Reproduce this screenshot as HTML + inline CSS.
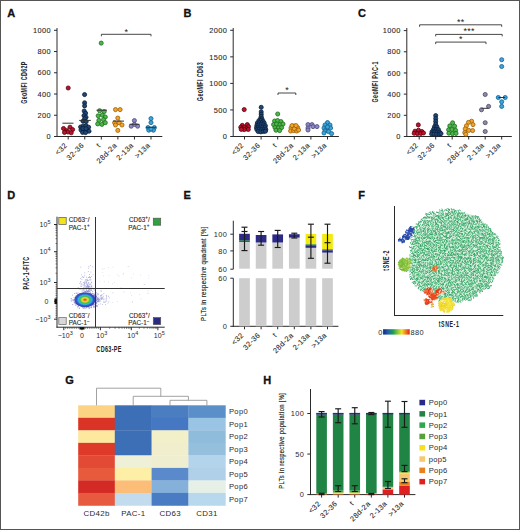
<!DOCTYPE html>
<html><head><meta charset="utf-8"><style>
html,body{margin:0;padding:0;background:#fff;}
body{width:520px;height:530px;overflow:hidden;}
svg{display:block;font-family:"Liberation Sans", sans-serif;}
</style></head><body>
<svg width="520" height="530" viewBox="0 0 520 530" font-family='"Liberation Sans", sans-serif'>
<rect x="0" y="0" width="520" height="530" fill="#fff"/>
<text x="7.30" y="17.00" font-size="11" text-anchor="start" font-weight="bold" fill="#111" stroke="#111" stroke-width="0.3" letter-spacing="0" >A</text>
<line x1="57.00" y1="28.00" x2="57.00" y2="137.00" stroke="#2a2a2a" stroke-width="1"/>
<line x1="54.00" y1="136.50" x2="57.00" y2="136.50" stroke="#2a2a2a" stroke-width="1"/>
<text x="51.00" y="139.15" font-size="7.4" text-anchor="end" font-weight="normal" fill="#2a2a2a" stroke="#2a2a2a" stroke-width="0.1" letter-spacing="0.4" >0</text>
<line x1="54.00" y1="115.26" x2="57.00" y2="115.26" stroke="#2a2a2a" stroke-width="1"/>
<text x="51.00" y="117.91" font-size="7.4" text-anchor="end" font-weight="normal" fill="#2a2a2a" stroke="#2a2a2a" stroke-width="0.1" letter-spacing="0.4" >200</text>
<line x1="54.00" y1="94.02" x2="57.00" y2="94.02" stroke="#2a2a2a" stroke-width="1"/>
<text x="51.00" y="96.67" font-size="7.4" text-anchor="end" font-weight="normal" fill="#2a2a2a" stroke="#2a2a2a" stroke-width="0.1" letter-spacing="0.4" >400</text>
<line x1="54.00" y1="72.78" x2="57.00" y2="72.78" stroke="#2a2a2a" stroke-width="1"/>
<text x="51.00" y="75.43" font-size="7.4" text-anchor="end" font-weight="normal" fill="#2a2a2a" stroke="#2a2a2a" stroke-width="0.1" letter-spacing="0.4" >600</text>
<line x1="54.00" y1="51.54" x2="57.00" y2="51.54" stroke="#2a2a2a" stroke-width="1"/>
<text x="51.00" y="54.19" font-size="7.4" text-anchor="end" font-weight="normal" fill="#2a2a2a" stroke="#2a2a2a" stroke-width="0.1" letter-spacing="0.4" >800</text>
<line x1="54.00" y1="30.30" x2="57.00" y2="30.30" stroke="#2a2a2a" stroke-width="1"/>
<text x="51.00" y="32.95" font-size="7.4" text-anchor="end" font-weight="normal" fill="#2a2a2a" stroke="#2a2a2a" stroke-width="0.1" letter-spacing="0.4" >1000</text>
<line x1="56.50" y1="136.50" x2="162.30" y2="136.50" stroke="#2a2a2a" stroke-width="1"/>
<line x1="68.20" y1="136.50" x2="68.20" y2="139.50" stroke="#2a2a2a" stroke-width="1"/>
<text transform="translate(67.80,145.90) rotate(-45)" font-size="7.4" text-anchor="end" fill="#2a2a2a" stroke="#2a2a2a" stroke-width="0.1" letter-spacing="0.4">&lt;32</text>
<line x1="84.76" y1="136.50" x2="84.76" y2="139.50" stroke="#2a2a2a" stroke-width="1"/>
<text transform="translate(84.36,145.90) rotate(-45)" font-size="7.4" text-anchor="end" fill="#2a2a2a" stroke="#2a2a2a" stroke-width="0.1" letter-spacing="0.4">32-36</text>
<line x1="101.32" y1="136.50" x2="101.32" y2="139.50" stroke="#2a2a2a" stroke-width="1"/>
<text transform="translate(100.92,145.90) rotate(-45)" font-size="7.4" text-anchor="end" fill="#2a2a2a" stroke="#2a2a2a" stroke-width="0.1" letter-spacing="0.4">t</text>
<line x1="117.88" y1="136.50" x2="117.88" y2="139.50" stroke="#2a2a2a" stroke-width="1"/>
<text transform="translate(117.48,145.90) rotate(-45)" font-size="7.4" text-anchor="end" fill="#2a2a2a" stroke="#2a2a2a" stroke-width="0.1" letter-spacing="0.4">28d-2a</text>
<line x1="134.44" y1="136.50" x2="134.44" y2="139.50" stroke="#2a2a2a" stroke-width="1"/>
<text transform="translate(134.04,145.90) rotate(-45)" font-size="7.4" text-anchor="end" fill="#2a2a2a" stroke="#2a2a2a" stroke-width="0.1" letter-spacing="0.4">2-13a</text>
<line x1="151.00" y1="136.50" x2="151.00" y2="139.50" stroke="#2a2a2a" stroke-width="1"/>
<text transform="translate(150.60,145.90) rotate(-45)" font-size="7.4" text-anchor="end" fill="#2a2a2a" stroke="#2a2a2a" stroke-width="0.1" letter-spacing="0.4">&gt;13a</text>
<text transform="translate(26.76,103.85) rotate(-90) scale(0.577,1)" font-size="9.30" font-weight="bold" fill="#222" letter-spacing="0.607">GeoMFI CD62P</text>
<path d="M101.40,36.30 V34.30 H151.00 V36.30" fill="none" stroke="#333" stroke-width="0.9"/>
<text x="126.30" y="34.50" font-size="9" text-anchor="middle" font-weight="normal" fill="#222" letter-spacing="0.2" >*</text>
<circle cx="68.20" cy="88.00" r="2.05" fill="#c0102c" stroke="#50060f" stroke-width="0.8" opacity="1"/>
<circle cx="63.50" cy="128.50" r="2.05" fill="#c0102c" stroke="#50060f" stroke-width="0.8" opacity="1"/>
<circle cx="66.50" cy="130.50" r="2.05" fill="#c0102c" stroke="#50060f" stroke-width="0.8" opacity="1"/>
<circle cx="70.00" cy="127.20" r="2.05" fill="#c0102c" stroke="#50060f" stroke-width="0.8" opacity="1"/>
<circle cx="72.60" cy="129.60" r="2.05" fill="#c0102c" stroke="#50060f" stroke-width="0.8" opacity="1"/>
<circle cx="68.00" cy="132.00" r="2.05" fill="#c0102c" stroke="#50060f" stroke-width="0.8" opacity="1"/>
<circle cx="71.20" cy="132.80" r="2.05" fill="#c0102c" stroke="#50060f" stroke-width="0.8" opacity="1"/>
<circle cx="64.50" cy="132.40" r="2.05" fill="#c0102c" stroke="#50060f" stroke-width="0.8" opacity="1"/>
<line x1="62.40" y1="123.20" x2="73.50" y2="123.20" stroke="#333" stroke-width="1"/>
<circle cx="84.60" cy="94.60" r="2.05" fill="#1e4676" stroke="#0c1e38" stroke-width="0.8" opacity="1"/>
<circle cx="84.60" cy="102.80" r="2.05" fill="#1e4676" stroke="#0c1e38" stroke-width="0.8" opacity="1"/>
<circle cx="84.60" cy="105.90" r="2.05" fill="#1e4676" stroke="#0c1e38" stroke-width="0.8" opacity="1"/>
<circle cx="84.20" cy="111.00" r="2.05" fill="#1e4676" stroke="#0c1e38" stroke-width="0.8" opacity="1"/>
<circle cx="85.60" cy="113.20" r="2.05" fill="#1e4676" stroke="#0c1e38" stroke-width="0.8" opacity="1"/>
<circle cx="84.00" cy="115.60" r="2.05" fill="#1e4676" stroke="#0c1e38" stroke-width="0.8" opacity="1"/>
<circle cx="86.00" cy="117.20" r="2.05" fill="#1e4676" stroke="#0c1e38" stroke-width="0.8" opacity="1"/>
<circle cx="84.60" cy="118.80" r="2.05" fill="#1e4676" stroke="#0c1e38" stroke-width="0.8" opacity="1"/>
<circle cx="83.00" cy="121.20" r="2.05" fill="#1e4676" stroke="#0c1e38" stroke-width="0.8" opacity="1"/>
<circle cx="86.20" cy="121.50" r="2.05" fill="#1e4676" stroke="#0c1e38" stroke-width="0.8" opacity="1"/>
<circle cx="80.60" cy="127.00" r="2.05" fill="#1e4676" stroke="#0c1e38" stroke-width="0.8" opacity="1"/>
<circle cx="83.20" cy="126.00" r="2.05" fill="#1e4676" stroke="#0c1e38" stroke-width="0.8" opacity="1"/>
<circle cx="86.00" cy="125.60" r="2.05" fill="#1e4676" stroke="#0c1e38" stroke-width="0.8" opacity="1"/>
<circle cx="88.60" cy="127.20" r="2.05" fill="#1e4676" stroke="#0c1e38" stroke-width="0.8" opacity="1"/>
<circle cx="81.00" cy="130.00" r="2.05" fill="#1e4676" stroke="#0c1e38" stroke-width="0.8" opacity="1"/>
<circle cx="84.00" cy="130.60" r="2.05" fill="#1e4676" stroke="#0c1e38" stroke-width="0.8" opacity="1"/>
<circle cx="87.00" cy="130.20" r="2.05" fill="#1e4676" stroke="#0c1e38" stroke-width="0.8" opacity="1"/>
<circle cx="89.00" cy="131.20" r="2.05" fill="#1e4676" stroke="#0c1e38" stroke-width="0.8" opacity="1"/>
<circle cx="82.60" cy="132.40" r="2.05" fill="#1e4676" stroke="#0c1e38" stroke-width="0.8" opacity="1"/>
<circle cx="85.60" cy="132.60" r="2.05" fill="#1e4676" stroke="#0c1e38" stroke-width="0.8" opacity="1"/>
<circle cx="83.00" cy="128.50" r="2.05" fill="#1e4676" stroke="#0c1e38" stroke-width="0.8" opacity="1"/>
<circle cx="86.00" cy="128.60" r="2.05" fill="#1e4676" stroke="#0c1e38" stroke-width="0.8" opacity="1"/>
<line x1="79.20" y1="120.40" x2="90.80" y2="120.40" stroke="#333" stroke-width="1"/>
<circle cx="101.20" cy="43.10" r="2.05" fill="#4cb848" stroke="#1e6a20" stroke-width="0.8" opacity="1"/>
<circle cx="99.60" cy="110.70" r="2.05" fill="#4cb848" stroke="#1e6a20" stroke-width="0.8" opacity="1"/>
<circle cx="104.20" cy="111.60" r="2.05" fill="#4cb848" stroke="#1e6a20" stroke-width="0.8" opacity="1"/>
<circle cx="98.20" cy="115.80" r="2.05" fill="#4cb848" stroke="#1e6a20" stroke-width="0.8" opacity="1"/>
<circle cx="102.30" cy="115.10" r="2.05" fill="#4cb848" stroke="#1e6a20" stroke-width="0.8" opacity="1"/>
<circle cx="105.30" cy="117.00" r="2.05" fill="#4cb848" stroke="#1e6a20" stroke-width="0.8" opacity="1"/>
<circle cx="98.90" cy="120.40" r="2.05" fill="#4cb848" stroke="#1e6a20" stroke-width="0.8" opacity="1"/>
<circle cx="103.50" cy="119.70" r="2.05" fill="#4cb848" stroke="#1e6a20" stroke-width="0.8" opacity="1"/>
<circle cx="97.70" cy="123.90" r="2.05" fill="#4cb848" stroke="#1e6a20" stroke-width="0.8" opacity="1"/>
<circle cx="101.90" cy="124.40" r="2.05" fill="#4cb848" stroke="#1e6a20" stroke-width="0.8" opacity="1"/>
<circle cx="105.30" cy="122.70" r="2.05" fill="#4cb848" stroke="#1e6a20" stroke-width="0.8" opacity="1"/>
<line x1="96.50" y1="110.20" x2="107.00" y2="110.20" stroke="#333" stroke-width="1"/>
<circle cx="115.50" cy="109.60" r="2.05" fill="#f3a32a" stroke="#9a6008" stroke-width="0.8" opacity="1"/>
<circle cx="120.10" cy="109.60" r="2.05" fill="#f3a32a" stroke="#9a6008" stroke-width="0.8" opacity="1"/>
<circle cx="117.80" cy="118.10" r="2.05" fill="#f3a32a" stroke="#9a6008" stroke-width="0.8" opacity="1"/>
<circle cx="114.60" cy="122.70" r="2.05" fill="#f3a32a" stroke="#9a6008" stroke-width="0.8" opacity="1"/>
<circle cx="119.20" cy="122.70" r="2.05" fill="#f3a32a" stroke="#9a6008" stroke-width="0.8" opacity="1"/>
<circle cx="122.00" cy="125.00" r="2.05" fill="#f3a32a" stroke="#9a6008" stroke-width="0.8" opacity="1"/>
<circle cx="115.50" cy="125.00" r="2.05" fill="#f3a32a" stroke="#9a6008" stroke-width="0.8" opacity="1"/>
<circle cx="117.80" cy="130.40" r="2.05" fill="#f3a32a" stroke="#9a6008" stroke-width="0.8" opacity="1"/>
<line x1="113.00" y1="121.10" x2="124.00" y2="121.10" stroke="#333" stroke-width="1"/>
<circle cx="134.40" cy="120.60" r="2.05" fill="#8c88c4" stroke="#4a4680" stroke-width="0.8" opacity="1"/>
<circle cx="131.20" cy="126.20" r="2.05" fill="#8c88c4" stroke="#4a4680" stroke-width="0.8" opacity="1"/>
<circle cx="137.60" cy="126.20" r="2.05" fill="#8c88c4" stroke="#4a4680" stroke-width="0.8" opacity="1"/>
<circle cx="134.40" cy="124.40" r="2.05" fill="#8c88c4" stroke="#4a4680" stroke-width="0.8" opacity="1"/>
<line x1="129.50" y1="124.30" x2="139.50" y2="124.30" stroke="#333" stroke-width="1"/>
<circle cx="151.00" cy="118.60" r="2.05" fill="#3aa4dc" stroke="#15608a" stroke-width="0.8" opacity="1"/>
<circle cx="151.00" cy="122.60" r="2.05" fill="#3aa4dc" stroke="#15608a" stroke-width="0.8" opacity="1"/>
<circle cx="148.00" cy="127.60" r="2.05" fill="#3aa4dc" stroke="#15608a" stroke-width="0.8" opacity="1"/>
<circle cx="154.40" cy="127.60" r="2.05" fill="#3aa4dc" stroke="#15608a" stroke-width="0.8" opacity="1"/>
<circle cx="148.80" cy="130.20" r="2.05" fill="#3aa4dc" stroke="#15608a" stroke-width="0.8" opacity="1"/>
<circle cx="153.40" cy="130.20" r="2.05" fill="#3aa4dc" stroke="#15608a" stroke-width="0.8" opacity="1"/>
<circle cx="151.00" cy="129.00" r="2.05" fill="#3aa4dc" stroke="#15608a" stroke-width="0.8" opacity="1"/>
<line x1="146.00" y1="127.30" x2="156.00" y2="127.30" stroke="#333" stroke-width="1"/>
<text x="183.60" y="17.00" font-size="11" text-anchor="start" font-weight="bold" fill="#111" stroke="#111" stroke-width="0.3" letter-spacing="0" >B</text>
<line x1="233.20" y1="28.00" x2="233.20" y2="137.00" stroke="#2a2a2a" stroke-width="1"/>
<line x1="230.20" y1="136.50" x2="233.20" y2="136.50" stroke="#2a2a2a" stroke-width="1"/>
<text x="227.20" y="139.15" font-size="7.4" text-anchor="end" font-weight="normal" fill="#2a2a2a" stroke="#2a2a2a" stroke-width="0.1" letter-spacing="0.4" >0</text>
<line x1="230.20" y1="109.95" x2="233.20" y2="109.95" stroke="#2a2a2a" stroke-width="1"/>
<text x="227.20" y="112.60" font-size="7.4" text-anchor="end" font-weight="normal" fill="#2a2a2a" stroke="#2a2a2a" stroke-width="0.1" letter-spacing="0.4" >500</text>
<line x1="230.20" y1="83.40" x2="233.20" y2="83.40" stroke="#2a2a2a" stroke-width="1"/>
<text x="227.20" y="86.05" font-size="7.4" text-anchor="end" font-weight="normal" fill="#2a2a2a" stroke="#2a2a2a" stroke-width="0.1" letter-spacing="0.4" >1000</text>
<line x1="230.20" y1="56.85" x2="233.20" y2="56.85" stroke="#2a2a2a" stroke-width="1"/>
<text x="227.20" y="59.50" font-size="7.4" text-anchor="end" font-weight="normal" fill="#2a2a2a" stroke="#2a2a2a" stroke-width="0.1" letter-spacing="0.4" >1500</text>
<line x1="230.20" y1="30.30" x2="233.20" y2="30.30" stroke="#2a2a2a" stroke-width="1"/>
<text x="227.20" y="32.95" font-size="7.4" text-anchor="end" font-weight="normal" fill="#2a2a2a" stroke="#2a2a2a" stroke-width="0.1" letter-spacing="0.4" >2000</text>
<line x1="232.70" y1="136.50" x2="338.90" y2="136.50" stroke="#2a2a2a" stroke-width="1"/>
<line x1="244.50" y1="136.50" x2="244.50" y2="139.50" stroke="#2a2a2a" stroke-width="1"/>
<text transform="translate(244.10,145.90) rotate(-45)" font-size="7.4" text-anchor="end" fill="#2a2a2a" stroke="#2a2a2a" stroke-width="0.1" letter-spacing="0.4">&lt;32</text>
<line x1="261.10" y1="136.50" x2="261.10" y2="139.50" stroke="#2a2a2a" stroke-width="1"/>
<text transform="translate(260.70,145.90) rotate(-45)" font-size="7.4" text-anchor="end" fill="#2a2a2a" stroke="#2a2a2a" stroke-width="0.1" letter-spacing="0.4">32-36</text>
<line x1="277.70" y1="136.50" x2="277.70" y2="139.50" stroke="#2a2a2a" stroke-width="1"/>
<text transform="translate(277.30,145.90) rotate(-45)" font-size="7.4" text-anchor="end" fill="#2a2a2a" stroke="#2a2a2a" stroke-width="0.1" letter-spacing="0.4">t</text>
<line x1="294.30" y1="136.50" x2="294.30" y2="139.50" stroke="#2a2a2a" stroke-width="1"/>
<text transform="translate(293.90,145.90) rotate(-45)" font-size="7.4" text-anchor="end" fill="#2a2a2a" stroke="#2a2a2a" stroke-width="0.1" letter-spacing="0.4">28d-2a</text>
<line x1="310.90" y1="136.50" x2="310.90" y2="139.50" stroke="#2a2a2a" stroke-width="1"/>
<text transform="translate(310.50,145.90) rotate(-45)" font-size="7.4" text-anchor="end" fill="#2a2a2a" stroke="#2a2a2a" stroke-width="0.1" letter-spacing="0.4">2-13a</text>
<line x1="327.50" y1="136.50" x2="327.50" y2="139.50" stroke="#2a2a2a" stroke-width="1"/>
<text transform="translate(327.10,145.90) rotate(-45)" font-size="7.4" text-anchor="end" fill="#2a2a2a" stroke="#2a2a2a" stroke-width="0.1" letter-spacing="0.4">&gt;13a</text>
<text transform="translate(202.77,101.15) rotate(-90) scale(0.655,1)" font-size="8.31" font-weight="bold" fill="#222" letter-spacing="0.534">GeoMFI CD63</text>
<path d="M278.00,95.00 V93.00 H295.80 V95.00" fill="none" stroke="#333" stroke-width="0.9"/>
<text x="287.00" y="93.20" font-size="9" text-anchor="middle" font-weight="normal" fill="#222" letter-spacing="0.2" >*</text>
<circle cx="244.20" cy="109.60" r="2.05" fill="#c0102c" stroke="#50060f" stroke-width="0.8" opacity="1"/>
<circle cx="242.30" cy="125.40" r="2.05" fill="#c0102c" stroke="#50060f" stroke-width="0.8" opacity="1"/>
<circle cx="240.80" cy="127.30" r="2.05" fill="#c0102c" stroke="#50060f" stroke-width="0.8" opacity="1"/>
<circle cx="242.70" cy="128.20" r="2.05" fill="#c0102c" stroke="#50060f" stroke-width="0.8" opacity="1"/>
<circle cx="244.80" cy="127.10" r="2.05" fill="#c0102c" stroke="#50060f" stroke-width="0.8" opacity="1"/>
<circle cx="247.30" cy="124.60" r="2.05" fill="#c0102c" stroke="#50060f" stroke-width="0.8" opacity="1"/>
<circle cx="248.50" cy="126.60" r="2.05" fill="#c0102c" stroke="#50060f" stroke-width="0.8" opacity="1"/>
<circle cx="246.60" cy="128.80" r="2.05" fill="#c0102c" stroke="#50060f" stroke-width="0.8" opacity="1"/>
<circle cx="248.30" cy="129.40" r="2.05" fill="#c0102c" stroke="#50060f" stroke-width="0.8" opacity="1"/>
<circle cx="244.20" cy="129.60" r="2.05" fill="#c0102c" stroke="#50060f" stroke-width="0.8" opacity="1"/>
<circle cx="241.30" cy="129.40" r="2.05" fill="#c0102c" stroke="#50060f" stroke-width="0.8" opacity="1"/>
<circle cx="261.20" cy="107.30" r="2.05" fill="#1e4676" stroke="#0c1e38" stroke-width="0.8" opacity="1"/>
<circle cx="261.20" cy="111.90" r="2.05" fill="#1e4676" stroke="#0c1e38" stroke-width="0.8" opacity="1"/>
<circle cx="261.20" cy="114.20" r="2.05" fill="#1e4676" stroke="#0c1e38" stroke-width="0.8" opacity="1"/>
<circle cx="261.20" cy="116.50" r="2.05" fill="#1e4676" stroke="#0c1e38" stroke-width="0.8" opacity="1"/>
<circle cx="260.40" cy="118.80" r="2.05" fill="#1e4676" stroke="#0c1e38" stroke-width="0.8" opacity="1"/>
<circle cx="261.90" cy="118.80" r="2.05" fill="#1e4676" stroke="#0c1e38" stroke-width="0.8" opacity="1"/>
<circle cx="258.80" cy="120.80" r="2.05" fill="#1e4676" stroke="#0c1e38" stroke-width="0.8" opacity="1"/>
<circle cx="261.20" cy="120.40" r="2.05" fill="#1e4676" stroke="#0c1e38" stroke-width="0.8" opacity="1"/>
<circle cx="263.10" cy="121.20" r="2.05" fill="#1e4676" stroke="#0c1e38" stroke-width="0.8" opacity="1"/>
<circle cx="257.30" cy="123.10" r="2.05" fill="#1e4676" stroke="#0c1e38" stroke-width="0.8" opacity="1"/>
<circle cx="259.60" cy="122.70" r="2.05" fill="#1e4676" stroke="#0c1e38" stroke-width="0.8" opacity="1"/>
<circle cx="261.90" cy="122.70" r="2.05" fill="#1e4676" stroke="#0c1e38" stroke-width="0.8" opacity="1"/>
<circle cx="264.20" cy="123.10" r="2.05" fill="#1e4676" stroke="#0c1e38" stroke-width="0.8" opacity="1"/>
<circle cx="256.90" cy="125.40" r="2.05" fill="#1e4676" stroke="#0c1e38" stroke-width="0.8" opacity="1"/>
<circle cx="258.80" cy="125.00" r="2.05" fill="#1e4676" stroke="#0c1e38" stroke-width="0.8" opacity="1"/>
<circle cx="261.20" cy="124.60" r="2.05" fill="#1e4676" stroke="#0c1e38" stroke-width="0.8" opacity="1"/>
<circle cx="263.50" cy="125.00" r="2.05" fill="#1e4676" stroke="#0c1e38" stroke-width="0.8" opacity="1"/>
<circle cx="265.40" cy="125.80" r="2.05" fill="#1e4676" stroke="#0c1e38" stroke-width="0.8" opacity="1"/>
<circle cx="256.50" cy="127.70" r="2.05" fill="#1e4676" stroke="#0c1e38" stroke-width="0.8" opacity="1"/>
<circle cx="258.50" cy="127.30" r="2.05" fill="#1e4676" stroke="#0c1e38" stroke-width="0.8" opacity="1"/>
<circle cx="260.80" cy="126.90" r="2.05" fill="#1e4676" stroke="#0c1e38" stroke-width="0.8" opacity="1"/>
<circle cx="262.70" cy="127.30" r="2.05" fill="#1e4676" stroke="#0c1e38" stroke-width="0.8" opacity="1"/>
<circle cx="265.00" cy="127.70" r="2.05" fill="#1e4676" stroke="#0c1e38" stroke-width="0.8" opacity="1"/>
<circle cx="256.90" cy="129.60" r="2.05" fill="#1e4676" stroke="#0c1e38" stroke-width="0.8" opacity="1"/>
<circle cx="259.20" cy="129.20" r="2.05" fill="#1e4676" stroke="#0c1e38" stroke-width="0.8" opacity="1"/>
<circle cx="261.50" cy="129.60" r="2.05" fill="#1e4676" stroke="#0c1e38" stroke-width="0.8" opacity="1"/>
<circle cx="263.80" cy="129.60" r="2.05" fill="#1e4676" stroke="#0c1e38" stroke-width="0.8" opacity="1"/>
<circle cx="265.80" cy="129.60" r="2.05" fill="#1e4676" stroke="#0c1e38" stroke-width="0.8" opacity="1"/>
<circle cx="258.10" cy="131.50" r="2.05" fill="#1e4676" stroke="#0c1e38" stroke-width="0.8" opacity="1"/>
<circle cx="260.80" cy="131.90" r="2.05" fill="#1e4676" stroke="#0c1e38" stroke-width="0.8" opacity="1"/>
<circle cx="263.50" cy="131.50" r="2.05" fill="#1e4676" stroke="#0c1e38" stroke-width="0.8" opacity="1"/>
<circle cx="265.40" cy="131.20" r="2.05" fill="#1e4676" stroke="#0c1e38" stroke-width="0.8" opacity="1"/>
<circle cx="277.70" cy="114.00" r="2.05" fill="#4cb848" stroke="#1e6a20" stroke-width="0.8" opacity="1"/>
<circle cx="274.60" cy="121.00" r="2.05" fill="#4cb848" stroke="#1e6a20" stroke-width="0.8" opacity="1"/>
<circle cx="277.60" cy="120.60" r="2.05" fill="#4cb848" stroke="#1e6a20" stroke-width="0.8" opacity="1"/>
<circle cx="281.00" cy="121.60" r="2.05" fill="#4cb848" stroke="#1e6a20" stroke-width="0.8" opacity="1"/>
<circle cx="273.60" cy="124.60" r="2.05" fill="#4cb848" stroke="#1e6a20" stroke-width="0.8" opacity="1"/>
<circle cx="276.60" cy="124.00" r="2.05" fill="#4cb848" stroke="#1e6a20" stroke-width="0.8" opacity="1"/>
<circle cx="280.00" cy="124.60" r="2.05" fill="#4cb848" stroke="#1e6a20" stroke-width="0.8" opacity="1"/>
<circle cx="283.00" cy="124.00" r="2.05" fill="#4cb848" stroke="#1e6a20" stroke-width="0.8" opacity="1"/>
<circle cx="275.00" cy="127.60" r="2.05" fill="#4cb848" stroke="#1e6a20" stroke-width="0.8" opacity="1"/>
<circle cx="278.60" cy="127.60" r="2.05" fill="#4cb848" stroke="#1e6a20" stroke-width="0.8" opacity="1"/>
<circle cx="281.60" cy="127.60" r="2.05" fill="#4cb848" stroke="#1e6a20" stroke-width="0.8" opacity="1"/>
<circle cx="276.00" cy="130.20" r="2.05" fill="#4cb848" stroke="#1e6a20" stroke-width="0.8" opacity="1"/>
<circle cx="279.60" cy="130.60" r="2.05" fill="#4cb848" stroke="#1e6a20" stroke-width="0.8" opacity="1"/>
<circle cx="291.00" cy="128.00" r="2.05" fill="#f3a32a" stroke="#9a6008" stroke-width="0.8" opacity="1"/>
<circle cx="294.30" cy="126.00" r="2.05" fill="#f3a32a" stroke="#9a6008" stroke-width="0.8" opacity="1"/>
<circle cx="297.60" cy="127.60" r="2.05" fill="#f3a32a" stroke="#9a6008" stroke-width="0.8" opacity="1"/>
<circle cx="290.60" cy="131.00" r="2.05" fill="#f3a32a" stroke="#9a6008" stroke-width="0.8" opacity="1"/>
<circle cx="293.60" cy="130.60" r="2.05" fill="#f3a32a" stroke="#9a6008" stroke-width="0.8" opacity="1"/>
<circle cx="296.60" cy="131.00" r="2.05" fill="#f3a32a" stroke="#9a6008" stroke-width="0.8" opacity="1"/>
<circle cx="298.60" cy="130.00" r="2.05" fill="#f3a32a" stroke="#9a6008" stroke-width="0.8" opacity="1"/>
<circle cx="294.30" cy="128.60" r="2.05" fill="#f3a32a" stroke="#9a6008" stroke-width="0.8" opacity="1"/>
<circle cx="292.00" cy="125.60" r="2.05" fill="#f3a32a" stroke="#9a6008" stroke-width="0.8" opacity="1"/>
<circle cx="296.00" cy="125.60" r="2.05" fill="#f3a32a" stroke="#9a6008" stroke-width="0.8" opacity="1"/>
<circle cx="308.00" cy="124.60" r="2.05" fill="#8c88c4" stroke="#4a4680" stroke-width="0.8" opacity="1"/>
<circle cx="312.00" cy="124.60" r="2.05" fill="#8c88c4" stroke="#4a4680" stroke-width="0.8" opacity="1"/>
<circle cx="308.00" cy="128.00" r="2.05" fill="#8c88c4" stroke="#4a4680" stroke-width="0.8" opacity="1"/>
<circle cx="313.00" cy="126.60" r="2.05" fill="#8c88c4" stroke="#4a4680" stroke-width="0.8" opacity="1"/>
<circle cx="317.00" cy="126.60" r="2.05" fill="#8c88c4" stroke="#4a4680" stroke-width="0.8" opacity="1"/>
<circle cx="308.00" cy="130.00" r="2.05" fill="#8c88c4" stroke="#4a4680" stroke-width="0.8" opacity="1"/>
<circle cx="327.50" cy="122.60" r="2.05" fill="#3aa4dc" stroke="#15608a" stroke-width="0.8" opacity="1"/>
<circle cx="325.00" cy="125.00" r="2.05" fill="#3aa4dc" stroke="#15608a" stroke-width="0.8" opacity="1"/>
<circle cx="330.00" cy="125.00" r="2.05" fill="#3aa4dc" stroke="#15608a" stroke-width="0.8" opacity="1"/>
<circle cx="324.00" cy="128.00" r="2.05" fill="#3aa4dc" stroke="#15608a" stroke-width="0.8" opacity="1"/>
<circle cx="327.00" cy="128.00" r="2.05" fill="#3aa4dc" stroke="#15608a" stroke-width="0.8" opacity="1"/>
<circle cx="330.60" cy="128.00" r="2.05" fill="#3aa4dc" stroke="#15608a" stroke-width="0.8" opacity="1"/>
<circle cx="325.00" cy="131.00" r="2.05" fill="#3aa4dc" stroke="#15608a" stroke-width="0.8" opacity="1"/>
<circle cx="328.60" cy="131.60" r="2.05" fill="#3aa4dc" stroke="#15608a" stroke-width="0.8" opacity="1"/>
<circle cx="331.60" cy="133.60" r="2.05" fill="#3aa4dc" stroke="#15608a" stroke-width="0.8" opacity="1"/>
<circle cx="324.00" cy="133.00" r="2.05" fill="#3aa4dc" stroke="#15608a" stroke-width="0.8" opacity="1"/>
<circle cx="327.50" cy="127.00" r="2.05" fill="#3aa4dc" stroke="#15608a" stroke-width="0.8" opacity="1"/>
<text x="358.00" y="17.00" font-size="11" text-anchor="start" font-weight="bold" fill="#111" stroke="#111" stroke-width="0.3" letter-spacing="0" >C</text>
<line x1="406.80" y1="28.00" x2="406.80" y2="137.00" stroke="#2a2a2a" stroke-width="1"/>
<line x1="403.80" y1="136.50" x2="406.80" y2="136.50" stroke="#2a2a2a" stroke-width="1"/>
<text x="400.80" y="139.15" font-size="7.4" text-anchor="end" font-weight="normal" fill="#2a2a2a" stroke="#2a2a2a" stroke-width="0.1" letter-spacing="0.4" >0</text>
<line x1="403.80" y1="115.32" x2="406.80" y2="115.32" stroke="#2a2a2a" stroke-width="1"/>
<text x="400.80" y="117.97" font-size="7.4" text-anchor="end" font-weight="normal" fill="#2a2a2a" stroke="#2a2a2a" stroke-width="0.1" letter-spacing="0.4" >200</text>
<line x1="403.80" y1="94.14" x2="406.80" y2="94.14" stroke="#2a2a2a" stroke-width="1"/>
<text x="400.80" y="96.79" font-size="7.4" text-anchor="end" font-weight="normal" fill="#2a2a2a" stroke="#2a2a2a" stroke-width="0.1" letter-spacing="0.4" >400</text>
<line x1="403.80" y1="72.96" x2="406.80" y2="72.96" stroke="#2a2a2a" stroke-width="1"/>
<text x="400.80" y="75.61" font-size="7.4" text-anchor="end" font-weight="normal" fill="#2a2a2a" stroke="#2a2a2a" stroke-width="0.1" letter-spacing="0.4" >600</text>
<line x1="403.80" y1="51.78" x2="406.80" y2="51.78" stroke="#2a2a2a" stroke-width="1"/>
<text x="400.80" y="54.43" font-size="7.4" text-anchor="end" font-weight="normal" fill="#2a2a2a" stroke="#2a2a2a" stroke-width="0.1" letter-spacing="0.4" >800</text>
<line x1="403.80" y1="30.60" x2="406.80" y2="30.60" stroke="#2a2a2a" stroke-width="1"/>
<text x="400.80" y="33.25" font-size="7.4" text-anchor="end" font-weight="normal" fill="#2a2a2a" stroke="#2a2a2a" stroke-width="0.1" letter-spacing="0.4" >1000</text>
<line x1="406.30" y1="136.50" x2="511.80" y2="136.50" stroke="#2a2a2a" stroke-width="1"/>
<line x1="419.20" y1="136.50" x2="419.20" y2="139.50" stroke="#2a2a2a" stroke-width="1"/>
<text transform="translate(418.80,145.90) rotate(-45)" font-size="7.4" text-anchor="end" fill="#2a2a2a" stroke="#2a2a2a" stroke-width="0.1" letter-spacing="0.4">&lt;32</text>
<line x1="435.70" y1="136.50" x2="435.70" y2="139.50" stroke="#2a2a2a" stroke-width="1"/>
<text transform="translate(435.30,145.90) rotate(-45)" font-size="7.4" text-anchor="end" fill="#2a2a2a" stroke="#2a2a2a" stroke-width="0.1" letter-spacing="0.4">32-36</text>
<line x1="452.20" y1="136.50" x2="452.20" y2="139.50" stroke="#2a2a2a" stroke-width="1"/>
<text transform="translate(451.80,145.90) rotate(-45)" font-size="7.4" text-anchor="end" fill="#2a2a2a" stroke="#2a2a2a" stroke-width="0.1" letter-spacing="0.4">t</text>
<line x1="468.70" y1="136.50" x2="468.70" y2="139.50" stroke="#2a2a2a" stroke-width="1"/>
<text transform="translate(468.30,145.90) rotate(-45)" font-size="7.4" text-anchor="end" fill="#2a2a2a" stroke="#2a2a2a" stroke-width="0.1" letter-spacing="0.4">28d-2a</text>
<line x1="485.20" y1="136.50" x2="485.20" y2="139.50" stroke="#2a2a2a" stroke-width="1"/>
<text transform="translate(484.80,145.90) rotate(-45)" font-size="7.4" text-anchor="end" fill="#2a2a2a" stroke="#2a2a2a" stroke-width="0.1" letter-spacing="0.4">2-13a</text>
<line x1="501.70" y1="136.50" x2="501.70" y2="139.50" stroke="#2a2a2a" stroke-width="1"/>
<text transform="translate(501.30,145.90) rotate(-45)" font-size="7.4" text-anchor="end" fill="#2a2a2a" stroke="#2a2a2a" stroke-width="0.1" letter-spacing="0.4">&gt;13a</text>
<text transform="translate(377.76,102.45) rotate(-90) scale(0.580,1)" font-size="9.30" font-weight="bold" fill="#222" letter-spacing="0.603">GeoMFI PAC-1</text>
<path d="M419.60,26.80 V24.80 H501.70 V26.80" fill="none" stroke="#333" stroke-width="0.9"/>
<text x="460.75" y="25.00" font-size="9" text-anchor="middle" font-weight="normal" fill="#222" letter-spacing="0.2" >**</text>
<path d="M435.70,36.40 V34.40 H502.20 V36.40" fill="none" stroke="#333" stroke-width="0.9"/>
<text x="469.05" y="34.40" font-size="9" text-anchor="middle" font-weight="normal" fill="#222" letter-spacing="0.2" >***</text>
<path d="M435.70,44.10 V42.10 H486.00 V44.10" fill="none" stroke="#333" stroke-width="0.9"/>
<text x="460.95" y="42.30" font-size="9" text-anchor="middle" font-weight="normal" fill="#222" letter-spacing="0.2" >*</text>
<circle cx="418.30" cy="124.90" r="2.05" fill="#c0102c" stroke="#50060f" stroke-width="0.8" opacity="1"/>
<circle cx="415.00" cy="131.20" r="2.05" fill="#c0102c" stroke="#50060f" stroke-width="0.8" opacity="1"/>
<circle cx="418.50" cy="130.20" r="2.05" fill="#c0102c" stroke="#50060f" stroke-width="0.8" opacity="1"/>
<circle cx="421.80" cy="131.50" r="2.05" fill="#c0102c" stroke="#50060f" stroke-width="0.8" opacity="1"/>
<circle cx="414.20" cy="133.30" r="2.05" fill="#c0102c" stroke="#50060f" stroke-width="0.8" opacity="1"/>
<circle cx="417.40" cy="133.60" r="2.05" fill="#c0102c" stroke="#50060f" stroke-width="0.8" opacity="1"/>
<circle cx="420.80" cy="133.50" r="2.05" fill="#c0102c" stroke="#50060f" stroke-width="0.8" opacity="1"/>
<circle cx="423.50" cy="133.00" r="2.05" fill="#c0102c" stroke="#50060f" stroke-width="0.8" opacity="1"/>
<circle cx="435.70" cy="115.60" r="2.05" fill="#1e4676" stroke="#0c1e38" stroke-width="0.8" opacity="1"/>
<circle cx="435.70" cy="118.60" r="2.05" fill="#1e4676" stroke="#0c1e38" stroke-width="0.8" opacity="1"/>
<circle cx="435.70" cy="121.40" r="2.05" fill="#1e4676" stroke="#0c1e38" stroke-width="0.8" opacity="1"/>
<circle cx="435.70" cy="124.20" r="2.05" fill="#1e4676" stroke="#0c1e38" stroke-width="0.8" opacity="1"/>
<circle cx="434.50" cy="126.80" r="2.05" fill="#1e4676" stroke="#0c1e38" stroke-width="0.8" opacity="1"/>
<circle cx="436.90" cy="126.80" r="2.05" fill="#1e4676" stroke="#0c1e38" stroke-width="0.8" opacity="1"/>
<circle cx="433.60" cy="129.20" r="2.05" fill="#1e4676" stroke="#0c1e38" stroke-width="0.8" opacity="1"/>
<circle cx="436.20" cy="129.40" r="2.05" fill="#1e4676" stroke="#0c1e38" stroke-width="0.8" opacity="1"/>
<circle cx="438.40" cy="129.60" r="2.05" fill="#1e4676" stroke="#0c1e38" stroke-width="0.8" opacity="1"/>
<circle cx="432.00" cy="131.80" r="2.05" fill="#1e4676" stroke="#0c1e38" stroke-width="0.8" opacity="1"/>
<circle cx="434.60" cy="132.00" r="2.05" fill="#1e4676" stroke="#0c1e38" stroke-width="0.8" opacity="1"/>
<circle cx="437.20" cy="132.00" r="2.05" fill="#1e4676" stroke="#0c1e38" stroke-width="0.8" opacity="1"/>
<circle cx="439.60" cy="132.20" r="2.05" fill="#1e4676" stroke="#0c1e38" stroke-width="0.8" opacity="1"/>
<circle cx="431.60" cy="134.00" r="2.05" fill="#1e4676" stroke="#0c1e38" stroke-width="0.8" opacity="1"/>
<circle cx="434.00" cy="134.20" r="2.05" fill="#1e4676" stroke="#0c1e38" stroke-width="0.8" opacity="1"/>
<circle cx="436.60" cy="134.20" r="2.05" fill="#1e4676" stroke="#0c1e38" stroke-width="0.8" opacity="1"/>
<circle cx="439.20" cy="134.20" r="2.05" fill="#1e4676" stroke="#0c1e38" stroke-width="0.8" opacity="1"/>
<circle cx="441.00" cy="133.60" r="2.05" fill="#1e4676" stroke="#0c1e38" stroke-width="0.8" opacity="1"/>
<circle cx="452.60" cy="122.80" r="2.05" fill="#4cb848" stroke="#1e6a20" stroke-width="0.8" opacity="1"/>
<circle cx="449.80" cy="125.90" r="2.05" fill="#4cb848" stroke="#1e6a20" stroke-width="0.8" opacity="1"/>
<circle cx="454.60" cy="126.20" r="2.05" fill="#4cb848" stroke="#1e6a20" stroke-width="0.8" opacity="1"/>
<circle cx="448.60" cy="129.80" r="2.05" fill="#4cb848" stroke="#1e6a20" stroke-width="0.8" opacity="1"/>
<circle cx="452.00" cy="129.50" r="2.05" fill="#4cb848" stroke="#1e6a20" stroke-width="0.8" opacity="1"/>
<circle cx="455.60" cy="130.40" r="2.05" fill="#4cb848" stroke="#1e6a20" stroke-width="0.8" opacity="1"/>
<circle cx="448.90" cy="133.20" r="2.05" fill="#4cb848" stroke="#1e6a20" stroke-width="0.8" opacity="1"/>
<circle cx="452.50" cy="133.60" r="2.05" fill="#4cb848" stroke="#1e6a20" stroke-width="0.8" opacity="1"/>
<circle cx="456.00" cy="133.40" r="2.05" fill="#4cb848" stroke="#1e6a20" stroke-width="0.8" opacity="1"/>
<circle cx="471.60" cy="121.20" r="2.05" fill="#f3a32a" stroke="#9a6008" stroke-width="0.8" opacity="1"/>
<circle cx="468.50" cy="122.40" r="2.05" fill="#f3a32a" stroke="#9a6008" stroke-width="0.8" opacity="1"/>
<circle cx="473.00" cy="124.60" r="2.05" fill="#f3a32a" stroke="#9a6008" stroke-width="0.8" opacity="1"/>
<circle cx="466.40" cy="125.80" r="2.05" fill="#f3a32a" stroke="#9a6008" stroke-width="0.8" opacity="1"/>
<circle cx="465.20" cy="128.90" r="2.05" fill="#f3a32a" stroke="#9a6008" stroke-width="0.8" opacity="1"/>
<circle cx="468.80" cy="130.40" r="2.05" fill="#f3a32a" stroke="#9a6008" stroke-width="0.8" opacity="1"/>
<circle cx="472.60" cy="130.60" r="2.05" fill="#f3a32a" stroke="#9a6008" stroke-width="0.8" opacity="1"/>
<circle cx="464.80" cy="132.60" r="2.05" fill="#f3a32a" stroke="#9a6008" stroke-width="0.8" opacity="1"/>
<circle cx="465.80" cy="134.30" r="2.05" fill="#f3a32a" stroke="#9a6008" stroke-width="0.8" opacity="1"/>
<circle cx="485.20" cy="94.50" r="2.05" fill="#8a8aa8" stroke="#4a4a68" stroke-width="0.8" opacity="1"/>
<circle cx="481.50" cy="109.80" r="2.05" fill="#8a8aa8" stroke="#4a4a68" stroke-width="0.8" opacity="1"/>
<circle cx="488.60" cy="106.40" r="2.05" fill="#8a8aa8" stroke="#4a4a68" stroke-width="0.8" opacity="1"/>
<circle cx="485.20" cy="122.70" r="2.05" fill="#8a8aa8" stroke="#4a4a68" stroke-width="0.8" opacity="1"/>
<circle cx="485.20" cy="131.50" r="2.05" fill="#8a8aa8" stroke="#4a4a68" stroke-width="0.8" opacity="1"/>
<line x1="481.50" y1="108.30" x2="488.60" y2="108.30" stroke="#333" stroke-width="1"/>
<circle cx="501.70" cy="59.70" r="2.05" fill="#3aa4dc" stroke="#15608a" stroke-width="0.8" opacity="1"/>
<circle cx="501.70" cy="66.50" r="2.05" fill="#3aa4dc" stroke="#15608a" stroke-width="0.8" opacity="1"/>
<circle cx="498.30" cy="97.50" r="2.05" fill="#3aa4dc" stroke="#15608a" stroke-width="0.8" opacity="1"/>
<circle cx="505.20" cy="97.50" r="2.05" fill="#3aa4dc" stroke="#15608a" stroke-width="0.8" opacity="1"/>
<circle cx="501.70" cy="101.80" r="2.05" fill="#3aa4dc" stroke="#15608a" stroke-width="0.8" opacity="1"/>
<circle cx="501.70" cy="106.40" r="2.05" fill="#3aa4dc" stroke="#15608a" stroke-width="0.8" opacity="1"/>
<line x1="498.30" y1="97.50" x2="505.20" y2="97.50" stroke="#333" stroke-width="1"/>
<text x="7.30" y="199.00" font-size="11" text-anchor="start" font-weight="bold" fill="#111" stroke="#111" stroke-width="0.3" letter-spacing="0" >D</text>
<path d="M85.7 286.9h0.75v0.75h-0.75zM85.8 288.8h0.75v0.75h-0.75zM83.5 289.9h0.75v0.75h-0.75zM90.1 287.8h0.75v0.75h-0.75zM89.8 289.5h0.75v0.75h-0.75zM87.8 290.1h0.75v0.75h-0.75zM81.2 283.4h0.75v0.75h-0.75zM88.1 287.0h0.75v0.75h-0.75zM81.1 274.6h0.75v0.75h-0.75zM83.7 287.3h0.75v0.75h-0.75zM87.5 291.5h0.75v0.75h-0.75zM88.2 285.6h0.75v0.75h-0.75zM87.5 288.1h0.75v0.75h-0.75zM84.4 274.8h0.75v0.75h-0.75zM88.3 280.0h0.75v0.75h-0.75zM84.5 284.6h0.75v0.75h-0.75zM85.4 290.9h0.75v0.75h-0.75zM88.5 289.5h0.75v0.75h-0.75zM85.1 282.4h0.75v0.75h-0.75zM84.8 279.8h0.75v0.75h-0.75zM83.9 289.6h0.75v0.75h-0.75zM87.9 277.1h0.75v0.75h-0.75zM86.7 278.9h0.75v0.75h-0.75zM80.1 288.8h0.75v0.75h-0.75zM86.2 283.8h0.75v0.75h-0.75zM88.1 291.4h0.75v0.75h-0.75zM81.8 283.7h0.75v0.75h-0.75zM88.6 282.5h0.75v0.75h-0.75zM91.1 288.4h0.75v0.75h-0.75zM86.9 279.0h0.75v0.75h-0.75zM88.5 285.9h0.75v0.75h-0.75zM85.1 279.4h0.75v0.75h-0.75zM83.4 286.7h0.75v0.75h-0.75zM90.6 271.7h0.75v0.75h-0.75zM81.8 289.6h0.75v0.75h-0.75zM91.1 286.2h0.75v0.75h-0.75zM80.4 266.8h0.75v0.75h-0.75zM87.6 284.6h0.75v0.75h-0.75zM82.9 282.2h0.75v0.75h-0.75zM90.0 290.4h0.75v0.75h-0.75zM87.3 287.7h0.75v0.75h-0.75zM91.6 285.8h0.75v0.75h-0.75zM88.2 286.5h0.75v0.75h-0.75zM81.5 279.2h0.75v0.75h-0.75zM89.6 286.7h0.75v0.75h-0.75zM80.2 285.7h0.75v0.75h-0.75zM89.2 273.9h0.75v0.75h-0.75zM85.9 281.8h0.75v0.75h-0.75zM82.3 275.9h0.75v0.75h-0.75zM88.3 290.5h0.75v0.75h-0.75zM87.5 285.5h0.75v0.75h-0.75zM86.9 280.5h0.75v0.75h-0.75zM84.4 287.9h0.75v0.75h-0.75zM89.8 291.7h0.75v0.75h-0.75zM83.7 282.5h0.75v0.75h-0.75zM91.2 287.6h0.75v0.75h-0.75zM82.1 290.7h0.75v0.75h-0.75zM86.0 289.0h0.75v0.75h-0.75zM91.0 281.7h0.75v0.75h-0.75zM90.5 279.3h0.75v0.75h-0.75zM84.0 285.7h0.75v0.75h-0.75zM90.1 283.4h0.75v0.75h-0.75zM87.6 290.6h0.75v0.75h-0.75zM87.0 286.2h0.75v0.75h-0.75zM85.9 289.2h0.75v0.75h-0.75zM88.3 292.0h0.75v0.75h-0.75zM88.9 286.3h0.75v0.75h-0.75zM92.9 288.8h0.75v0.75h-0.75zM85.1 288.3h0.75v0.75h-0.75zM86.5 282.8h0.75v0.75h-0.75zM85.4 288.1h0.75v0.75h-0.75zM92.4 266.4h0.75v0.75h-0.75zM82.9 289.6h0.75v0.75h-0.75zM87.8 289.6h0.75v0.75h-0.75zM85.1 285.4h0.75v0.75h-0.75zM87.4 286.8h0.75v0.75h-0.75zM94.3 288.4h0.75v0.75h-0.75zM84.7 291.0h0.75v0.75h-0.75zM85.8 291.4h0.75v0.75h-0.75zM77.8 287.1h0.75v0.75h-0.75zM89.7 280.3h0.75v0.75h-0.75zM86.3 282.5h0.75v0.75h-0.75zM89.2 277.1h0.75v0.75h-0.75zM81.1 288.5h0.75v0.75h-0.75zM85.4 285.8h0.75v0.75h-0.75zM90.0 265.2h0.75v0.75h-0.75zM90.0 277.5h0.75v0.75h-0.75zM88.7 277.1h0.75v0.75h-0.75zM87.1 280.1h0.75v0.75h-0.75zM86.0 290.1h0.75v0.75h-0.75zM89.1 290.6h0.75v0.75h-0.75zM86.2 276.7h0.75v0.75h-0.75zM89.9 289.1h0.75v0.75h-0.75zM95.3 280.5h0.75v0.75h-0.75zM89.4 289.3h0.75v0.75h-0.75zM86.9 284.9h0.75v0.75h-0.75zM87.2 285.6h0.75v0.75h-0.75zM81.6 276.9h0.75v0.75h-0.75zM88.5 282.4h0.75v0.75h-0.75zM83.2 277.3h0.75v0.75h-0.75zM90.6 284.5h0.75v0.75h-0.75zM91.2 282.6h0.75v0.75h-0.75zM86.5 280.6h0.75v0.75h-0.75zM89.0 276.1h0.75v0.75h-0.75zM83.7 276.4h0.75v0.75h-0.75zM89.7 290.2h0.75v0.75h-0.75zM80.2 277.9h0.75v0.75h-0.75zM86.2 286.0h0.75v0.75h-0.75zM87.8 287.9h0.75v0.75h-0.75zM91.3 281.8h0.75v0.75h-0.75zM90.1 277.1h0.75v0.75h-0.75zM91.1 290.2h0.75v0.75h-0.75zM84.1 281.8h0.75v0.75h-0.75zM86.9 290.8h0.75v0.75h-0.75zM91.1 289.4h0.75v0.75h-0.75zM79.2 288.1h0.75v0.75h-0.75zM80.6 283.8h0.75v0.75h-0.75zM87.5 285.9h0.75v0.75h-0.75zM86.5 283.7h0.75v0.75h-0.75zM86.8 278.7h0.75v0.75h-0.75zM86.3 281.6h0.75v0.75h-0.75zM91.3 275.9h0.75v0.75h-0.75zM84.4 283.2h0.75v0.75h-0.75zM80.5 281.2h0.75v0.75h-0.75zM80.2 281.3h0.75v0.75h-0.75zM82.6 291.9h0.75v0.75h-0.75zM85.9 291.7h0.75v0.75h-0.75zM84.6 289.7h0.75v0.75h-0.75zM92.2 291.6h0.75v0.75h-0.75zM88.2 282.0h0.75v0.75h-0.75zM85.9 279.4h0.75v0.75h-0.75zM84.7 281.3h0.75v0.75h-0.75zM81.2 286.0h0.75v0.75h-0.75zM89.7 284.1h0.75v0.75h-0.75zM86.5 283.9h0.75v0.75h-0.75zM87.0 280.2h0.75v0.75h-0.75zM81.5 285.6h0.75v0.75h-0.75zM89.5 286.3h0.75v0.75h-0.75zM83.6 284.3h0.75v0.75h-0.75zM81.6 290.8h0.75v0.75h-0.75zM82.7 288.4h0.75v0.75h-0.75zM78.9 288.7h0.75v0.75h-0.75zM84.4 272.6h0.75v0.75h-0.75zM88.8 289.2h0.75v0.75h-0.75zM79.4 283.2h0.75v0.75h-0.75zM87.4 287.4h0.75v0.75h-0.75zM89.0 284.5h0.75v0.75h-0.75zM88.6 288.7h0.75v0.75h-0.75zM90.8 285.4h0.75v0.75h-0.75zM87.9 271.2h0.75v0.75h-0.75zM89.4 278.9h0.75v0.75h-0.75zM85.5 287.3h0.75v0.75h-0.75zM92.7 274.4h0.75v0.75h-0.75zM88.0 267.8h0.75v0.75h-0.75zM83.5 285.1h0.75v0.75h-0.75zM92.5 290.8h0.75v0.75h-0.75zM88.3 283.0h0.75v0.75h-0.75zM83.6 291.1h0.75v0.75h-0.75zM87.4 283.7h0.75v0.75h-0.75zM86.4 290.0h0.75v0.75h-0.75zM83.2 288.4h0.75v0.75h-0.75zM89.4 291.0h0.75v0.75h-0.75zM83.8 283.6h0.75v0.75h-0.75zM95.0 280.6h0.75v0.75h-0.75zM88.5 266.1h0.75v0.75h-0.75zM88.5 287.2h0.75v0.75h-0.75zM91.9 287.7h0.75v0.75h-0.75zM86.3 286.8h0.75v0.75h-0.75zM80.3 281.7h0.75v0.75h-0.75zM87.5 285.0h0.75v0.75h-0.75z" fill="#4a4ab0" opacity="0.55"/>
<path d="M102.3 304.3h0.75v0.75h-0.75zM102.8 296.4h0.75v0.75h-0.75zM95.0 299.1h0.75v0.75h-0.75zM95.8 295.4h0.75v0.75h-0.75zM107.8 301.8h0.75v0.75h-0.75zM101.4 294.2h0.75v0.75h-0.75zM104.9 301.7h0.75v0.75h-0.75zM105.7 301.1h0.75v0.75h-0.75zM99.1 299.3h0.75v0.75h-0.75zM108.1 296.1h0.75v0.75h-0.75zM93.4 300.2h0.75v0.75h-0.75zM98.1 298.1h0.75v0.75h-0.75zM96.2 299.7h0.75v0.75h-0.75zM97.5 299.2h0.75v0.75h-0.75zM95.3 301.0h0.75v0.75h-0.75zM93.3 295.9h0.75v0.75h-0.75zM97.4 298.5h0.75v0.75h-0.75zM93.8 299.0h0.75v0.75h-0.75zM93.0 299.1h0.75v0.75h-0.75zM93.9 294.5h0.75v0.75h-0.75zM95.9 301.9h0.75v0.75h-0.75zM96.0 297.9h0.75v0.75h-0.75zM96.1 295.4h0.75v0.75h-0.75zM106.3 298.7h0.75v0.75h-0.75zM99.5 300.9h0.75v0.75h-0.75zM100.6 290.1h0.75v0.75h-0.75zM100.3 303.5h0.75v0.75h-0.75zM95.7 294.1h0.75v0.75h-0.75zM98.3 300.2h0.75v0.75h-0.75zM96.5 299.1h0.75v0.75h-0.75zM103.4 300.8h0.75v0.75h-0.75zM93.1 300.4h0.75v0.75h-0.75zM104.6 301.6h0.75v0.75h-0.75zM100.2 295.0h0.75v0.75h-0.75zM94.0 300.8h0.75v0.75h-0.75zM95.1 301.9h0.75v0.75h-0.75zM97.2 301.4h0.75v0.75h-0.75zM94.5 306.6h0.75v0.75h-0.75zM101.7 297.8h0.75v0.75h-0.75zM93.6 306.8h0.75v0.75h-0.75zM95.4 301.3h0.75v0.75h-0.75zM99.9 298.5h0.75v0.75h-0.75zM101.2 299.1h0.75v0.75h-0.75zM95.5 302.1h0.75v0.75h-0.75zM98.5 298.6h0.75v0.75h-0.75zM99.0 300.2h0.75v0.75h-0.75zM94.4 298.7h0.75v0.75h-0.75zM94.7 300.7h0.75v0.75h-0.75zM100.4 296.5h0.75v0.75h-0.75zM93.0 293.8h0.75v0.75h-0.75zM96.1 292.1h0.75v0.75h-0.75zM97.8 300.3h0.75v0.75h-0.75zM97.0 298.3h0.75v0.75h-0.75zM94.6 294.0h0.75v0.75h-0.75zM105.8 300.2h0.75v0.75h-0.75zM100.7 295.7h0.75v0.75h-0.75zM94.3 292.7h0.75v0.75h-0.75zM98.5 301.5h0.75v0.75h-0.75zM106.3 298.3h0.75v0.75h-0.75zM97.4 292.9h0.75v0.75h-0.75zM105.8 295.1h0.75v0.75h-0.75zM97.4 294.0h0.75v0.75h-0.75zM93.2 299.3h0.75v0.75h-0.75zM97.4 300.7h0.75v0.75h-0.75zM103.5 302.2h0.75v0.75h-0.75zM102.2 296.9h0.75v0.75h-0.75zM100.4 295.1h0.75v0.75h-0.75zM93.6 298.5h0.75v0.75h-0.75zM96.4 293.4h0.75v0.75h-0.75zM101.7 298.4h0.75v0.75h-0.75zM94.4 297.5h0.75v0.75h-0.75zM93.4 296.1h0.75v0.75h-0.75zM97.9 299.6h0.75v0.75h-0.75zM93.6 296.3h0.75v0.75h-0.75zM94.2 289.8h0.75v0.75h-0.75zM99.9 298.6h0.75v0.75h-0.75zM103.5 299.1h0.75v0.75h-0.75zM94.0 294.1h0.75v0.75h-0.75zM94.8 297.5h0.75v0.75h-0.75zM96.2 300.5h0.75v0.75h-0.75zM93.3 295.8h0.75v0.75h-0.75zM94.0 298.3h0.75v0.75h-0.75zM98.1 299.4h0.75v0.75h-0.75zM98.1 294.2h0.75v0.75h-0.75zM95.6 296.1h0.75v0.75h-0.75zM100.8 298.1h0.75v0.75h-0.75zM96.4 298.8h0.75v0.75h-0.75zM96.7 297.2h0.75v0.75h-0.75zM109.3 297.5h0.75v0.75h-0.75zM100.7 298.9h0.75v0.75h-0.75zM100.8 290.9h0.75v0.75h-0.75zM98.3 299.3h0.75v0.75h-0.75zM97.2 306.0h0.75v0.75h-0.75zM95.3 302.6h0.75v0.75h-0.75zM98.4 301.5h0.75v0.75h-0.75zM96.6 298.0h0.75v0.75h-0.75zM96.6 295.0h0.75v0.75h-0.75zM101.3 295.2h0.75v0.75h-0.75zM94.7 305.3h0.75v0.75h-0.75zM94.6 298.6h0.75v0.75h-0.75zM101.1 298.6h0.75v0.75h-0.75zM98.7 299.3h0.75v0.75h-0.75zM97.1 300.8h0.75v0.75h-0.75zM98.4 304.1h0.75v0.75h-0.75zM104.7 298.6h0.75v0.75h-0.75zM94.9 297.1h0.75v0.75h-0.75zM102.9 296.2h0.75v0.75h-0.75zM97.7 297.0h0.75v0.75h-0.75zM97.9 300.8h0.75v0.75h-0.75zM102.3 298.5h0.75v0.75h-0.75zM97.7 301.1h0.75v0.75h-0.75zM93.3 299.5h0.75v0.75h-0.75zM103.7 302.1h0.75v0.75h-0.75zM96.6 305.8h0.75v0.75h-0.75zM93.0 301.0h0.75v0.75h-0.75zM97.5 298.4h0.75v0.75h-0.75zM105.2 304.2h0.75v0.75h-0.75zM102.6 294.6h0.75v0.75h-0.75zM103.5 293.3h0.75v0.75h-0.75zM101.2 297.0h0.75v0.75h-0.75zM93.4 297.5h0.75v0.75h-0.75zM93.8 295.0h0.75v0.75h-0.75zM93.2 293.9h0.75v0.75h-0.75zM93.5 299.5h0.75v0.75h-0.75zM96.3 297.8h0.75v0.75h-0.75zM99.3 299.0h0.75v0.75h-0.75zM96.4 303.5h0.75v0.75h-0.75zM98.4 298.1h0.75v0.75h-0.75zM96.3 296.3h0.75v0.75h-0.75zM99.6 297.4h0.75v0.75h-0.75zM95.1 300.1h0.75v0.75h-0.75zM97.0 305.2h0.75v0.75h-0.75zM97.9 298.5h0.75v0.75h-0.75zM112.6 292.5h0.75v0.75h-0.75zM96.7 299.0h0.75v0.75h-0.75zM94.1 299.8h0.75v0.75h-0.75zM94.7 299.7h0.75v0.75h-0.75zM93.4 301.0h0.75v0.75h-0.75zM106.2 295.7h0.75v0.75h-0.75zM93.0 295.2h0.75v0.75h-0.75zM100.3 300.5h0.75v0.75h-0.75zM97.5 300.5h0.75v0.75h-0.75zM98.2 299.5h0.75v0.75h-0.75zM96.6 298.2h0.75v0.75h-0.75zM102.9 298.4h0.75v0.75h-0.75zM96.2 296.8h0.75v0.75h-0.75zM93.7 300.9h0.75v0.75h-0.75zM99.1 300.5h0.75v0.75h-0.75zM106.0 296.7h0.75v0.75h-0.75zM94.0 298.0h0.75v0.75h-0.75z" fill="#4a4ab0" opacity="0.5"/>
<path d="M97.7 293.0h0.7v0.7h-0.7zM144.4 284.0h0.7v0.7h-0.7zM127.7 266.0h0.7v0.7h-0.7zM117.1 301.2h0.7v0.7h-0.7zM140.6 298.5h0.7v0.7h-0.7zM148.5 275.4h0.7v0.7h-0.7zM101.9 271.9h0.7v0.7h-0.7zM124.2 291.9h0.7v0.7h-0.7zM146.8 293.4h0.7v0.7h-0.7zM131.0 295.1h0.7v0.7h-0.7zM120.7 287.0h0.7v0.7h-0.7zM98.1 295.7h0.7v0.7h-0.7zM108.6 301.0h0.7v0.7h-0.7zM130.9 277.5h0.7v0.7h-0.7zM102.9 275.6h0.7v0.7h-0.7zM130.4 292.5h0.7v0.7h-0.7zM102.1 268.7h0.7v0.7h-0.7zM124.3 288.1h0.7v0.7h-0.7zM117.0 274.5h0.7v0.7h-0.7zM128.5 266.4h0.7v0.7h-0.7zM112.3 283.5h0.7v0.7h-0.7zM147.8 290.5h0.7v0.7h-0.7zM143.7 284.1h0.7v0.7h-0.7zM108.7 275.4h0.7v0.7h-0.7zM147.9 292.8h0.7v0.7h-0.7zM112.6 266.8h0.7v0.7h-0.7zM122.9 291.6h0.7v0.7h-0.7zM118.7 275.8h0.7v0.7h-0.7zM132.0 301.2h0.7v0.7h-0.7zM108.2 267.3h0.7v0.7h-0.7zM114.3 282.0h0.7v0.7h-0.7zM132.9 273.5h0.7v0.7h-0.7zM139.0 294.1h0.7v0.7h-0.7zM123.3 273.8h0.7v0.7h-0.7zM148.4 277.8h0.7v0.7h-0.7zM140.3 274.8h0.7v0.7h-0.7zM108.0 294.9h0.7v0.7h-0.7zM111.9 302.2h0.7v0.7h-0.7zM122.8 273.1h0.7v0.7h-0.7zM108.1 281.8h0.7v0.7h-0.7zM131.9 302.1h0.7v0.7h-0.7zM103.9 281.0h0.7v0.7h-0.7zM107.5 303.0h0.7v0.7h-0.7zM103.7 268.0h0.7v0.7h-0.7zM99.2 280.9h0.7v0.7h-0.7z" fill="#8a8ac8" opacity="0.45"/>
<path d="M93.9 295.3h0.8v0.8h-0.8zM95.7 299.7h0.8v0.8h-0.8zM92.7 297.4h0.8v0.8h-0.8zM93.5 297.3h0.8v0.8h-0.8zM84.7 291.7h0.8v0.8h-0.8zM78.9 303.8h0.8v0.8h-0.8zM79.0 304.0h0.8v0.8h-0.8zM94.2 299.9h0.8v0.8h-0.8zM82.8 307.8h0.8v0.8h-0.8zM94.5 306.2h0.8v0.8h-0.8zM93.1 298.5h0.8v0.8h-0.8zM89.4 293.5h0.8v0.8h-0.8zM88.7 294.6h0.8v0.8h-0.8zM77.1 300.7h0.8v0.8h-0.8zM78.5 304.4h0.8v0.8h-0.8zM79.4 304.2h0.8v0.8h-0.8zM93.4 295.4h0.8v0.8h-0.8zM88.1 294.6h0.8v0.8h-0.8zM85.9 294.1h0.8v0.8h-0.8zM92.2 301.9h0.8v0.8h-0.8zM91.9 297.2h0.8v0.8h-0.8zM95.0 294.7h0.8v0.8h-0.8zM80.4 304.8h0.8v0.8h-0.8zM74.0 293.0h0.8v0.8h-0.8zM84.4 305.4h0.8v0.8h-0.8zM83.4 306.6h0.8v0.8h-0.8zM92.9 299.9h0.8v0.8h-0.8zM75.7 292.6h0.8v0.8h-0.8zM94.1 297.5h0.8v0.8h-0.8zM77.1 300.6h0.8v0.8h-0.8zM95.0 297.9h0.8v0.8h-0.8zM84.9 305.6h0.8v0.8h-0.8zM72.2 304.0h0.8v0.8h-0.8zM88.2 304.8h0.8v0.8h-0.8zM87.6 294.6h0.8v0.8h-0.8zM86.8 291.0h0.8v0.8h-0.8zM78.1 296.0h0.8v0.8h-0.8zM78.6 305.0h0.8v0.8h-0.8zM86.9 293.5h0.8v0.8h-0.8zM85.2 293.9h0.8v0.8h-0.8zM85.1 305.5h0.8v0.8h-0.8zM77.5 298.0h0.8v0.8h-0.8zM78.8 308.1h0.8v0.8h-0.8zM93.4 299.4h0.8v0.8h-0.8zM84.2 305.8h0.8v0.8h-0.8zM76.7 299.9h0.8v0.8h-0.8zM82.6 293.4h0.8v0.8h-0.8zM77.8 302.7h0.8v0.8h-0.8zM77.8 295.2h0.8v0.8h-0.8zM91.8 293.1h0.8v0.8h-0.8zM79.1 293.0h0.8v0.8h-0.8zM81.9 307.3h0.8v0.8h-0.8zM75.0 296.7h0.8v0.8h-0.8zM88.5 307.0h0.8v0.8h-0.8zM85.1 305.1h0.8v0.8h-0.8zM91.9 295.6h0.8v0.8h-0.8zM77.1 296.9h0.8v0.8h-0.8zM95.2 299.5h0.8v0.8h-0.8zM76.8 299.5h0.8v0.8h-0.8zM77.7 292.6h0.8v0.8h-0.8zM95.2 299.4h0.8v0.8h-0.8zM89.0 293.8h0.8v0.8h-0.8zM89.5 295.0h0.8v0.8h-0.8zM82.8 305.1h0.8v0.8h-0.8zM92.7 304.7h0.8v0.8h-0.8zM72.2 294.7h0.8v0.8h-0.8zM95.5 296.4h0.8v0.8h-0.8zM73.8 302.3h0.8v0.8h-0.8zM84.4 305.9h0.8v0.8h-0.8zM96.4 305.9h0.8v0.8h-0.8zM77.5 296.2h0.8v0.8h-0.8zM78.9 304.3h0.8v0.8h-0.8zM90.2 304.2h0.8v0.8h-0.8zM77.1 295.9h0.8v0.8h-0.8zM80.5 295.5h0.8v0.8h-0.8zM81.2 304.7h0.8v0.8h-0.8zM81.2 294.5h0.8v0.8h-0.8zM87.9 306.3h0.8v0.8h-0.8zM87.4 294.1h0.8v0.8h-0.8zM91.4 303.0h0.8v0.8h-0.8zM75.9 304.6h0.8v0.8h-0.8zM92.5 303.1h0.8v0.8h-0.8zM89.5 304.9h0.8v0.8h-0.8zM82.8 306.8h0.8v0.8h-0.8zM81.5 306.2h0.8v0.8h-0.8zM77.4 297.5h0.8v0.8h-0.8zM77.1 306.6h0.8v0.8h-0.8zM95.5 299.6h0.8v0.8h-0.8zM79.0 304.5h0.8v0.8h-0.8zM88.4 307.7h0.8v0.8h-0.8zM95.1 300.1h0.8v0.8h-0.8zM89.0 294.0h0.8v0.8h-0.8zM76.7 303.6h0.8v0.8h-0.8zM90.1 305.5h0.8v0.8h-0.8zM96.5 300.5h0.8v0.8h-0.8zM92.6 296.5h0.8v0.8h-0.8zM93.2 303.3h0.8v0.8h-0.8zM75.4 299.6h0.8v0.8h-0.8zM90.1 304.4h0.8v0.8h-0.8zM94.9 296.4h0.8v0.8h-0.8zM94.9 305.3h0.8v0.8h-0.8zM92.8 298.7h0.8v0.8h-0.8zM89.0 307.9h0.8v0.8h-0.8zM97.4 298.5h0.8v0.8h-0.8zM71.3 300.8h0.8v0.8h-0.8zM77.5 304.2h0.8v0.8h-0.8zM94.5 295.3h0.8v0.8h-0.8zM91.0 306.4h0.8v0.8h-0.8zM86.8 294.3h0.8v0.8h-0.8zM91.0 293.9h0.8v0.8h-0.8zM89.0 294.7h0.8v0.8h-0.8zM77.3 303.6h0.8v0.8h-0.8zM76.3 299.1h0.8v0.8h-0.8zM85.2 305.7h0.8v0.8h-0.8zM83.7 294.2h0.8v0.8h-0.8zM77.5 297.7h0.8v0.8h-0.8zM85.6 290.9h0.8v0.8h-0.8zM91.6 303.9h0.8v0.8h-0.8zM75.7 295.2h0.8v0.8h-0.8zM81.9 305.5h0.8v0.8h-0.8zM76.0 303.2h0.8v0.8h-0.8zM80.0 294.5h0.8v0.8h-0.8zM77.2 301.7h0.8v0.8h-0.8zM79.2 296.1h0.8v0.8h-0.8zM76.9 300.2h0.8v0.8h-0.8zM87.3 291.4h0.8v0.8h-0.8zM76.3 301.4h0.8v0.8h-0.8zM93.3 304.3h0.8v0.8h-0.8zM91.1 304.2h0.8v0.8h-0.8zM77.4 301.8h0.8v0.8h-0.8zM73.4 299.3h0.8v0.8h-0.8zM92.5 302.7h0.8v0.8h-0.8zM84.1 294.2h0.8v0.8h-0.8zM95.4 302.3h0.8v0.8h-0.8zM72.3 299.6h0.8v0.8h-0.8zM93.2 306.3h0.8v0.8h-0.8zM92.7 293.2h0.8v0.8h-0.8zM88.1 294.9h0.8v0.8h-0.8zM88.8 306.9h0.8v0.8h-0.8zM92.7 298.3h0.8v0.8h-0.8zM93.8 296.3h0.8v0.8h-0.8zM95.9 296.3h0.8v0.8h-0.8zM94.6 302.7h0.8v0.8h-0.8zM91.2 306.4h0.8v0.8h-0.8zM91.7 296.3h0.8v0.8h-0.8zM93.0 306.7h0.8v0.8h-0.8zM75.6 299.7h0.8v0.8h-0.8zM84.3 305.7h0.8v0.8h-0.8zM77.0 299.6h0.8v0.8h-0.8zM88.5 305.0h0.8v0.8h-0.8zM91.2 306.6h0.8v0.8h-0.8zM92.4 295.9h0.8v0.8h-0.8zM88.9 304.6h0.8v0.8h-0.8zM76.1 298.6h0.8v0.8h-0.8zM77.6 293.9h0.8v0.8h-0.8zM73.6 297.0h0.8v0.8h-0.8zM77.4 296.9h0.8v0.8h-0.8zM93.5 299.5h0.8v0.8h-0.8zM77.0 294.0h0.8v0.8h-0.8zM84.0 307.2h0.8v0.8h-0.8zM95.0 299.4h0.8v0.8h-0.8zM85.8 293.7h0.8v0.8h-0.8zM75.9 302.2h0.8v0.8h-0.8zM96.3 302.2h0.8v0.8h-0.8zM88.3 295.0h0.8v0.8h-0.8zM96.7 299.0h0.8v0.8h-0.8zM77.3 296.7h0.8v0.8h-0.8zM94.8 299.9h0.8v0.8h-0.8zM94.8 301.2h0.8v0.8h-0.8zM75.1 302.9h0.8v0.8h-0.8zM76.2 299.3h0.8v0.8h-0.8zM86.2 305.6h0.8v0.8h-0.8zM80.5 295.4h0.8v0.8h-0.8zM80.3 304.0h0.8v0.8h-0.8zM92.0 303.6h0.8v0.8h-0.8zM77.0 296.6h0.8v0.8h-0.8zM77.6 296.6h0.8v0.8h-0.8zM73.7 301.0h0.8v0.8h-0.8zM91.4 304.7h0.8v0.8h-0.8zM90.0 304.5h0.8v0.8h-0.8zM94.4 304.2h0.8v0.8h-0.8zM87.4 291.7h0.8v0.8h-0.8zM78.7 302.8h0.8v0.8h-0.8zM80.0 295.4h0.8v0.8h-0.8zM75.7 297.2h0.8v0.8h-0.8zM74.7 302.4h0.8v0.8h-0.8zM92.3 297.7h0.8v0.8h-0.8zM93.1 296.0h0.8v0.8h-0.8zM95.1 301.8h0.8v0.8h-0.8zM85.6 305.4h0.8v0.8h-0.8zM92.2 301.7h0.8v0.8h-0.8zM77.3 298.1h0.8v0.8h-0.8zM93.2 297.6h0.8v0.8h-0.8zM77.9 295.9h0.8v0.8h-0.8zM74.1 299.5h0.8v0.8h-0.8zM90.3 307.0h0.8v0.8h-0.8zM82.1 304.9h0.8v0.8h-0.8zM91.5 296.1h0.8v0.8h-0.8zM86.6 294.6h0.8v0.8h-0.8zM89.5 295.3h0.8v0.8h-0.8zM84.6 291.4h0.8v0.8h-0.8zM76.7 301.5h0.8v0.8h-0.8zM86.4 306.1h0.8v0.8h-0.8zM93.7 301.3h0.8v0.8h-0.8zM81.1 304.3h0.8v0.8h-0.8zM91.8 293.0h0.8v0.8h-0.8zM83.1 294.5h0.8v0.8h-0.8zM74.6 302.8h0.8v0.8h-0.8zM87.4 293.2h0.8v0.8h-0.8zM80.0 295.5h0.8v0.8h-0.8zM93.6 298.5h0.8v0.8h-0.8zM98.3 300.7h0.8v0.8h-0.8zM84.5 305.3h0.8v0.8h-0.8zM96.6 296.9h0.8v0.8h-0.8zM84.7 292.7h0.8v0.8h-0.8zM78.9 307.6h0.8v0.8h-0.8zM85.7 307.3h0.8v0.8h-0.8zM81.5 293.5h0.8v0.8h-0.8zM79.5 293.4h0.8v0.8h-0.8zM89.3 295.1h0.8v0.8h-0.8zM81.9 293.6h0.8v0.8h-0.8zM83.4 293.0h0.8v0.8h-0.8zM77.5 297.3h0.8v0.8h-0.8zM78.2 295.3h0.8v0.8h-0.8zM92.9 302.7h0.8v0.8h-0.8zM93.4 300.8h0.8v0.8h-0.8zM92.9 304.1h0.8v0.8h-0.8zM90.5 304.5h0.8v0.8h-0.8zM96.7 301.3h0.8v0.8h-0.8zM79.1 295.3h0.8v0.8h-0.8zM82.5 294.8h0.8v0.8h-0.8zM77.7 296.6h0.8v0.8h-0.8zM78.6 304.9h0.8v0.8h-0.8zM94.7 294.4h0.8v0.8h-0.8zM95.9 303.1h0.8v0.8h-0.8zM96.6 296.9h0.8v0.8h-0.8zM91.3 303.2h0.8v0.8h-0.8zM93.8 301.1h0.8v0.8h-0.8zM90.3 294.6h0.8v0.8h-0.8zM90.2 292.8h0.8v0.8h-0.8zM79.6 295.8h0.8v0.8h-0.8zM92.3 303.3h0.8v0.8h-0.8zM85.4 294.1h0.8v0.8h-0.8zM76.1 303.0h0.8v0.8h-0.8zM92.7 300.5h0.8v0.8h-0.8zM82.9 293.1h0.8v0.8h-0.8zM77.7 305.3h0.8v0.8h-0.8zM70.7 299.6h0.8v0.8h-0.8zM89.9 295.3h0.8v0.8h-0.8zM78.1 302.7h0.8v0.8h-0.8zM77.6 301.9h0.8v0.8h-0.8zM82.1 293.0h0.8v0.8h-0.8zM76.4 298.4h0.8v0.8h-0.8zM96.1 304.7h0.8v0.8h-0.8zM88.3 295.0h0.8v0.8h-0.8zM87.3 304.9h0.8v0.8h-0.8zM85.6 294.4h0.8v0.8h-0.8zM77.3 300.1h0.8v0.8h-0.8zM76.8 300.1h0.8v0.8h-0.8zM75.6 300.0h0.8v0.8h-0.8zM80.0 304.7h0.8v0.8h-0.8zM94.0 297.5h0.8v0.8h-0.8zM83.2 305.6h0.8v0.8h-0.8zM73.0 299.9h0.8v0.8h-0.8zM91.5 303.5h0.8v0.8h-0.8zM87.0 294.1h0.8v0.8h-0.8zM82.2 294.2h0.8v0.8h-0.8zM77.9 306.0h0.8v0.8h-0.8zM74.9 304.7h0.8v0.8h-0.8zM94.7 303.8h0.8v0.8h-0.8zM92.3 295.6h0.8v0.8h-0.8zM84.3 305.2h0.8v0.8h-0.8zM93.5 295.6h0.8v0.8h-0.8zM90.7 296.3h0.8v0.8h-0.8zM86.1 307.4h0.8v0.8h-0.8zM85.2 294.0h0.8v0.8h-0.8zM85.2 293.5h0.8v0.8h-0.8zM80.5 305.7h0.8v0.8h-0.8zM90.6 305.5h0.8v0.8h-0.8zM84.4 292.2h0.8v0.8h-0.8zM90.9 307.1h0.8v0.8h-0.8zM76.7 296.7h0.8v0.8h-0.8zM94.4 306.4h0.8v0.8h-0.8zM85.7 306.0h0.8v0.8h-0.8zM88.3 305.6h0.8v0.8h-0.8zM91.6 293.0h0.8v0.8h-0.8zM90.0 304.8h0.8v0.8h-0.8zM80.6 305.5h0.8v0.8h-0.8zM76.1 298.9h0.8v0.8h-0.8zM88.7 306.0h0.8v0.8h-0.8zM92.7 299.0h0.8v0.8h-0.8zM93.7 298.4h0.8v0.8h-0.8zM96.1 305.4h0.8v0.8h-0.8zM88.6 291.2h0.8v0.8h-0.8zM84.0 293.4h0.8v0.8h-0.8zM79.6 295.4h0.8v0.8h-0.8zM91.6 303.4h0.8v0.8h-0.8zM95.1 301.3h0.8v0.8h-0.8zM77.9 303.4h0.8v0.8h-0.8zM73.1 299.8h0.8v0.8h-0.8zM78.8 295.1h0.8v0.8h-0.8zM78.6 296.5h0.8v0.8h-0.8zM78.4 302.9h0.8v0.8h-0.8zM72.4 303.9h0.8v0.8h-0.8zM78.1 297.4h0.8v0.8h-0.8zM86.4 307.0h0.8v0.8h-0.8zM83.0 292.2h0.8v0.8h-0.8zM81.6 292.6h0.8v0.8h-0.8zM90.6 294.6h0.8v0.8h-0.8zM74.1 302.0h0.8v0.8h-0.8zM81.7 305.2h0.8v0.8h-0.8zM77.5 302.7h0.8v0.8h-0.8zM86.7 294.0h0.8v0.8h-0.8zM85.0 307.7h0.8v0.8h-0.8zM74.8 303.4h0.8v0.8h-0.8zM77.6 303.0h0.8v0.8h-0.8zM80.8 294.1h0.8v0.8h-0.8zM80.2 295.0h0.8v0.8h-0.8zM86.8 292.9h0.8v0.8h-0.8zM94.7 298.7h0.8v0.8h-0.8zM94.0 301.3h0.8v0.8h-0.8zM86.6 294.3h0.8v0.8h-0.8zM93.3 297.6h0.8v0.8h-0.8zM78.0 297.4h0.8v0.8h-0.8zM76.9 298.3h0.8v0.8h-0.8zM77.9 294.0h0.8v0.8h-0.8zM90.0 293.4h0.8v0.8h-0.8zM92.6 298.0h0.8v0.8h-0.8zM87.2 305.6h0.8v0.8h-0.8zM85.8 292.8h0.8v0.8h-0.8zM92.4 304.7h0.8v0.8h-0.8zM92.4 301.7h0.8v0.8h-0.8zM83.8 305.2h0.8v0.8h-0.8zM78.1 302.5h0.8v0.8h-0.8zM77.5 302.6h0.8v0.8h-0.8zM84.0 306.7h0.8v0.8h-0.8zM86.3 305.2h0.8v0.8h-0.8zM70.8 298.1h0.8v0.8h-0.8zM86.7 305.6h0.8v0.8h-0.8zM87.4 306.7h0.8v0.8h-0.8zM90.9 304.0h0.8v0.8h-0.8zM76.5 293.2h0.8v0.8h-0.8zM75.6 301.1h0.8v0.8h-0.8zM93.2 298.5h0.8v0.8h-0.8zM78.3 305.8h0.8v0.8h-0.8zM89.7 292.5h0.8v0.8h-0.8zM76.5 301.0h0.8v0.8h-0.8zM92.8 305.2h0.8v0.8h-0.8zM90.6 293.2h0.8v0.8h-0.8zM83.7 308.0h0.8v0.8h-0.8z" fill="#3a3aa8" opacity="0.6"/>
<defs><radialGradient id="dg" cx="0.5" cy="0.5" r="0.5"><stop offset="0" stop-color="#e83020"/><stop offset="0.13" stop-color="#f08a20"/><stop offset="0.27" stop-color="#ece030"/><stop offset="0.43" stop-color="#44c050"/><stop offset="0.6" stop-color="#30b4dc"/><stop offset="0.76" stop-color="#2a58d0"/><stop offset="0.9" stop-color="#3434a8" stop-opacity="0.85"/><stop offset="1" stop-color="#4040b0" stop-opacity="0"/></radialGradient></defs>
<ellipse cx="85" cy="299.8" rx="11.2" ry="7.8" fill="url(#dg)"/>
<line x1="57.00" y1="216.70" x2="57.00" y2="327.70" stroke="#2a2a2a" stroke-width="1"/>
<line x1="56.50" y1="327.20" x2="164.70" y2="327.20" stroke="#2a2a2a" stroke-width="1"/>
<line x1="54.00" y1="224.50" x2="57.00" y2="224.50" stroke="#2a2a2a" stroke-width="1"/>
<text x="50.70" y="227.00" font-size="7" text-anchor="end" font-weight="normal" fill="#2a2a2a" letter-spacing="0.1" >10<tspan dy="-3" font-size="5.5">5</tspan></text>
<line x1="54.00" y1="251.70" x2="57.00" y2="251.70" stroke="#2a2a2a" stroke-width="1"/>
<text x="50.70" y="254.20" font-size="7" text-anchor="end" font-weight="normal" fill="#2a2a2a" letter-spacing="0.1" >10<tspan dy="-3" font-size="5.5">4</tspan></text>
<line x1="54.00" y1="282.50" x2="57.00" y2="282.50" stroke="#2a2a2a" stroke-width="1"/>
<text x="50.70" y="285.00" font-size="7" text-anchor="end" font-weight="normal" fill="#2a2a2a" letter-spacing="0.1" >10<tspan dy="-3" font-size="5.5">3</tspan></text>
<line x1="54.00" y1="301.20" x2="57.00" y2="301.20" stroke="#2a2a2a" stroke-width="1"/>
<text x="48.40" y="303.70" font-size="7" text-anchor="end" font-weight="normal" fill="#2a2a2a" letter-spacing="0.1" >0</text>
<line x1="54.00" y1="319.20" x2="57.00" y2="319.20" stroke="#2a2a2a" stroke-width="1"/>
<text x="50.70" y="321.70" font-size="7" text-anchor="end" font-weight="normal" fill="#2a2a2a" letter-spacing="0.1" >−10<tspan dy="-3" font-size="5.5">3</tspan></text>
<line x1="55.50" y1="273.23" x2="57.00" y2="273.23" stroke="#2a2a2a" stroke-width="0.6"/>
<line x1="55.50" y1="267.80" x2="57.00" y2="267.80" stroke="#2a2a2a" stroke-width="0.6"/>
<line x1="55.50" y1="263.96" x2="57.00" y2="263.96" stroke="#2a2a2a" stroke-width="0.6"/>
<line x1="55.50" y1="260.97" x2="57.00" y2="260.97" stroke="#2a2a2a" stroke-width="0.6"/>
<line x1="55.50" y1="258.53" x2="57.00" y2="258.53" stroke="#2a2a2a" stroke-width="0.6"/>
<line x1="55.50" y1="256.47" x2="57.00" y2="256.47" stroke="#2a2a2a" stroke-width="0.6"/>
<line x1="55.50" y1="254.68" x2="57.00" y2="254.68" stroke="#2a2a2a" stroke-width="0.6"/>
<line x1="55.50" y1="253.11" x2="57.00" y2="253.11" stroke="#2a2a2a" stroke-width="0.6"/>
<line x1="55.50" y1="243.51" x2="57.00" y2="243.51" stroke="#2a2a2a" stroke-width="0.6"/>
<line x1="55.50" y1="238.72" x2="57.00" y2="238.72" stroke="#2a2a2a" stroke-width="0.6"/>
<line x1="55.50" y1="235.32" x2="57.00" y2="235.32" stroke="#2a2a2a" stroke-width="0.6"/>
<line x1="55.50" y1="232.69" x2="57.00" y2="232.69" stroke="#2a2a2a" stroke-width="0.6"/>
<line x1="55.50" y1="230.53" x2="57.00" y2="230.53" stroke="#2a2a2a" stroke-width="0.6"/>
<line x1="55.50" y1="228.71" x2="57.00" y2="228.71" stroke="#2a2a2a" stroke-width="0.6"/>
<line x1="55.50" y1="227.14" x2="57.00" y2="227.14" stroke="#2a2a2a" stroke-width="0.6"/>
<line x1="55.50" y1="225.74" x2="57.00" y2="225.74" stroke="#2a2a2a" stroke-width="0.6"/>
<line x1="55.50" y1="299.33" x2="57.00" y2="299.33" stroke="#2a2a2a" stroke-width="0.6"/>
<line x1="55.50" y1="303.00" x2="57.00" y2="303.00" stroke="#2a2a2a" stroke-width="0.6"/>
<line x1="55.50" y1="297.46" x2="57.00" y2="297.46" stroke="#2a2a2a" stroke-width="0.6"/>
<line x1="55.50" y1="304.80" x2="57.00" y2="304.80" stroke="#2a2a2a" stroke-width="0.6"/>
<line x1="55.50" y1="295.59" x2="57.00" y2="295.59" stroke="#2a2a2a" stroke-width="0.6"/>
<line x1="55.50" y1="306.60" x2="57.00" y2="306.60" stroke="#2a2a2a" stroke-width="0.6"/>
<line x1="55.50" y1="293.72" x2="57.00" y2="293.72" stroke="#2a2a2a" stroke-width="0.6"/>
<line x1="55.50" y1="308.40" x2="57.00" y2="308.40" stroke="#2a2a2a" stroke-width="0.6"/>
<line x1="55.50" y1="291.85" x2="57.00" y2="291.85" stroke="#2a2a2a" stroke-width="0.6"/>
<line x1="55.50" y1="310.20" x2="57.00" y2="310.20" stroke="#2a2a2a" stroke-width="0.6"/>
<line x1="55.50" y1="289.98" x2="57.00" y2="289.98" stroke="#2a2a2a" stroke-width="0.6"/>
<line x1="55.50" y1="312.00" x2="57.00" y2="312.00" stroke="#2a2a2a" stroke-width="0.6"/>
<line x1="55.50" y1="288.11" x2="57.00" y2="288.11" stroke="#2a2a2a" stroke-width="0.6"/>
<line x1="55.50" y1="313.80" x2="57.00" y2="313.80" stroke="#2a2a2a" stroke-width="0.6"/>
<line x1="55.50" y1="286.24" x2="57.00" y2="286.24" stroke="#2a2a2a" stroke-width="0.6"/>
<line x1="55.50" y1="315.60" x2="57.00" y2="315.60" stroke="#2a2a2a" stroke-width="0.6"/>
<line x1="55.50" y1="284.37" x2="57.00" y2="284.37" stroke="#2a2a2a" stroke-width="0.6"/>
<line x1="55.50" y1="317.40" x2="57.00" y2="317.40" stroke="#2a2a2a" stroke-width="0.6"/>
<rect x="54.50" y="298.50" width="2.50" height="5.50" fill="#111" stroke="none" stroke-width="0" />
<line x1="63.80" y1="327.20" x2="63.80" y2="330.20" stroke="#2a2a2a" stroke-width="1"/>
<text x="65.35" y="338.20" font-size="7" text-anchor="middle" font-weight="normal" fill="#2a2a2a" letter-spacing="0.1" >−10<tspan dy="-3" font-size="5.5">3</tspan></text>
<line x1="82.00" y1="327.20" x2="82.00" y2="330.20" stroke="#2a2a2a" stroke-width="1"/>
<text x="82.05" y="338.20" font-size="7" text-anchor="middle" font-weight="normal" fill="#2a2a2a" letter-spacing="0.1" >0</text>
<line x1="100.40" y1="327.20" x2="100.40" y2="330.20" stroke="#2a2a2a" stroke-width="1"/>
<text x="101.95" y="338.20" font-size="7" text-anchor="middle" font-weight="normal" fill="#2a2a2a" letter-spacing="0.1" >10<tspan dy="-3" font-size="5.5">3</tspan></text>
<line x1="131.30" y1="327.20" x2="131.30" y2="330.20" stroke="#2a2a2a" stroke-width="1"/>
<text x="132.85" y="338.20" font-size="7" text-anchor="middle" font-weight="normal" fill="#2a2a2a" letter-spacing="0.1" >10<tspan dy="-3" font-size="5.5">4</tspan></text>
<line x1="157.90" y1="327.20" x2="157.90" y2="330.20" stroke="#2a2a2a" stroke-width="1"/>
<text x="159.45" y="338.20" font-size="7" text-anchor="middle" font-weight="normal" fill="#2a2a2a" letter-spacing="0.1" >10<tspan dy="-3" font-size="5.5">5</tspan></text>
<line x1="109.70" y1="327.20" x2="109.70" y2="328.80" stroke="#2a2a2a" stroke-width="0.6"/>
<line x1="115.14" y1="327.20" x2="115.14" y2="328.80" stroke="#2a2a2a" stroke-width="0.6"/>
<line x1="119.00" y1="327.20" x2="119.00" y2="328.80" stroke="#2a2a2a" stroke-width="0.6"/>
<line x1="122.00" y1="327.20" x2="122.00" y2="328.80" stroke="#2a2a2a" stroke-width="0.6"/>
<line x1="124.44" y1="327.20" x2="124.44" y2="328.80" stroke="#2a2a2a" stroke-width="0.6"/>
<line x1="126.51" y1="327.20" x2="126.51" y2="328.80" stroke="#2a2a2a" stroke-width="0.6"/>
<line x1="128.31" y1="327.20" x2="128.31" y2="328.80" stroke="#2a2a2a" stroke-width="0.6"/>
<line x1="129.89" y1="327.20" x2="129.89" y2="328.80" stroke="#2a2a2a" stroke-width="0.6"/>
<line x1="139.31" y1="327.20" x2="139.31" y2="328.80" stroke="#2a2a2a" stroke-width="0.6"/>
<line x1="143.99" y1="327.20" x2="143.99" y2="328.80" stroke="#2a2a2a" stroke-width="0.6"/>
<line x1="147.31" y1="327.20" x2="147.31" y2="328.80" stroke="#2a2a2a" stroke-width="0.6"/>
<line x1="149.89" y1="327.20" x2="149.89" y2="328.80" stroke="#2a2a2a" stroke-width="0.6"/>
<line x1="152.00" y1="327.20" x2="152.00" y2="328.80" stroke="#2a2a2a" stroke-width="0.6"/>
<line x1="153.78" y1="327.20" x2="153.78" y2="328.80" stroke="#2a2a2a" stroke-width="0.6"/>
<line x1="155.32" y1="327.20" x2="155.32" y2="328.80" stroke="#2a2a2a" stroke-width="0.6"/>
<line x1="156.68" y1="327.20" x2="156.68" y2="328.80" stroke="#2a2a2a" stroke-width="0.6"/>
<line x1="83.84" y1="327.20" x2="83.84" y2="328.80" stroke="#2a2a2a" stroke-width="0.6"/>
<line x1="80.18" y1="327.20" x2="80.18" y2="328.80" stroke="#2a2a2a" stroke-width="0.6"/>
<line x1="85.68" y1="327.20" x2="85.68" y2="328.80" stroke="#2a2a2a" stroke-width="0.6"/>
<line x1="78.36" y1="327.20" x2="78.36" y2="328.80" stroke="#2a2a2a" stroke-width="0.6"/>
<line x1="87.52" y1="327.20" x2="87.52" y2="328.80" stroke="#2a2a2a" stroke-width="0.6"/>
<line x1="76.54" y1="327.20" x2="76.54" y2="328.80" stroke="#2a2a2a" stroke-width="0.6"/>
<line x1="89.36" y1="327.20" x2="89.36" y2="328.80" stroke="#2a2a2a" stroke-width="0.6"/>
<line x1="74.72" y1="327.20" x2="74.72" y2="328.80" stroke="#2a2a2a" stroke-width="0.6"/>
<line x1="91.20" y1="327.20" x2="91.20" y2="328.80" stroke="#2a2a2a" stroke-width="0.6"/>
<line x1="72.90" y1="327.20" x2="72.90" y2="328.80" stroke="#2a2a2a" stroke-width="0.6"/>
<line x1="93.04" y1="327.20" x2="93.04" y2="328.80" stroke="#2a2a2a" stroke-width="0.6"/>
<line x1="71.08" y1="327.20" x2="71.08" y2="328.80" stroke="#2a2a2a" stroke-width="0.6"/>
<line x1="94.88" y1="327.20" x2="94.88" y2="328.80" stroke="#2a2a2a" stroke-width="0.6"/>
<line x1="69.26" y1="327.20" x2="69.26" y2="328.80" stroke="#2a2a2a" stroke-width="0.6"/>
<line x1="96.72" y1="327.20" x2="96.72" y2="328.80" stroke="#2a2a2a" stroke-width="0.6"/>
<line x1="67.44" y1="327.20" x2="67.44" y2="328.80" stroke="#2a2a2a" stroke-width="0.6"/>
<line x1="98.56" y1="327.20" x2="98.56" y2="328.80" stroke="#2a2a2a" stroke-width="0.6"/>
<line x1="65.62" y1="327.20" x2="65.62" y2="328.80" stroke="#2a2a2a" stroke-width="0.6"/>
<rect x="79.50" y="327.20" width="5.00" height="2.30" fill="#111" stroke="none" stroke-width="0" />
<line x1="95.50" y1="217.00" x2="95.50" y2="327.20" stroke="#333" stroke-width="1"/>
<line x1="57.00" y1="288.50" x2="164.70" y2="288.50" stroke="#333" stroke-width="1"/>
<rect x="58.80" y="217.40" width="7.40" height="7.00" fill="#f2e41c" stroke="#555" stroke-width="0.7" />
<rect x="153.30" y="218.20" width="7.40" height="7.00" fill="#30a040" stroke="#555" stroke-width="0.7" />
<rect x="58.80" y="317.60" width="7.40" height="7.00" fill="#d8d8d8" stroke="#666" stroke-width="0.7" />
<rect x="153.30" y="317.60" width="7.40" height="7.00" fill="#2a2a80" stroke="#555" stroke-width="0.7" />
<text x="68.70" y="222.10" font-size="6.3" text-anchor="start" font-weight="normal" fill="#2a2a2a" stroke="#2a2a2a" stroke-width="0.12" letter-spacing="0.05" >CD63<tspan dy="-2.6" font-size="4.6">−</tspan><tspan dy="2.6">/</tspan></text>
<text x="68.70" y="229.80" font-size="6.3" text-anchor="start" font-weight="normal" fill="#2a2a2a" stroke="#2a2a2a" stroke-width="0.12" letter-spacing="0.05" >PAC-1<tspan dy="-2.6" font-size="4.6">+</tspan></text>
<text x="149.85" y="221.90" font-size="6.3" text-anchor="end" font-weight="normal" fill="#2a2a2a" stroke="#2a2a2a" stroke-width="0.12" letter-spacing="0.05" >CD63<tspan dy="-2.6" font-size="4.6">+</tspan><tspan dy="2.6">/</tspan></text>
<text x="149.45" y="229.80" font-size="6.3" text-anchor="end" font-weight="normal" fill="#2a2a2a" stroke="#2a2a2a" stroke-width="0.12" letter-spacing="0.05" >PAC-1<tspan dy="-2.6" font-size="4.6">+</tspan></text>
<text x="68.70" y="317.80" font-size="6.3" text-anchor="start" font-weight="normal" fill="#2a2a2a" stroke="#2a2a2a" stroke-width="0.12" letter-spacing="0.05" >CD63<tspan dy="-2.6" font-size="4.6">−</tspan><tspan dy="2.6">/</tspan></text>
<text x="68.70" y="325.20" font-size="6.3" text-anchor="start" font-weight="normal" fill="#2a2a2a" stroke="#2a2a2a" stroke-width="0.12" letter-spacing="0.05" >PAC-1<tspan dy="-2.6" font-size="4.6">−</tspan></text>
<text x="149.85" y="317.80" font-size="6.3" text-anchor="end" font-weight="normal" fill="#2a2a2a" stroke="#2a2a2a" stroke-width="0.12" letter-spacing="0.05" >CD63<tspan dy="-2.6" font-size="4.6">+</tspan><tspan dy="2.6">/</tspan></text>
<text x="149.45" y="325.20" font-size="6.3" text-anchor="end" font-weight="normal" fill="#2a2a2a" stroke="#2a2a2a" stroke-width="0.12" letter-spacing="0.05" >PAC-1<tspan dy="-2.6" font-size="4.6">−</tspan></text>
<text transform="translate(28.55,289.45) rotate(-90) scale(0.555,1)" font-size="9.72" font-weight="bold" fill="#222" letter-spacing="0.631">PAC-1-FITC</text>
<text transform="translate(96.35,351.86) scale(0.607,1)" font-size="9.01" font-weight="bold" fill="#222" letter-spacing="0.576">CD63-PE</text>
<text x="183.60" y="199.40" font-size="11" text-anchor="start" font-weight="bold" fill="#111" stroke="#111" stroke-width="0.3" letter-spacing="0" >E</text>
<line x1="233.30" y1="220.70" x2="233.30" y2="269.20" stroke="#2a2a2a" stroke-width="1"/>
<line x1="230.30" y1="234.20" x2="233.30" y2="234.20" stroke="#2a2a2a" stroke-width="1"/>
<text x="227.30" y="236.85" font-size="7.4" text-anchor="end" font-weight="normal" fill="#2a2a2a" letter-spacing="0.4" >100</text>
<line x1="230.30" y1="250.90" x2="233.30" y2="250.90" stroke="#2a2a2a" stroke-width="1"/>
<text x="227.30" y="253.55" font-size="7.4" text-anchor="end" font-weight="normal" fill="#2a2a2a" letter-spacing="0.4" >80</text>
<line x1="230.30" y1="269.20" x2="233.30" y2="269.20" stroke="#2a2a2a" stroke-width="1"/>
<text x="227.30" y="271.85" font-size="7.4" text-anchor="end" font-weight="normal" fill="#2a2a2a" letter-spacing="0.4" >60</text>
<line x1="233.30" y1="278.20" x2="233.30" y2="326.80" stroke="#2a2a2a" stroke-width="1"/>
<line x1="230.30" y1="278.20" x2="233.30" y2="278.20" stroke="#2a2a2a" stroke-width="1"/>
<text x="227.30" y="280.85" font-size="7.4" text-anchor="end" font-weight="normal" fill="#2a2a2a" letter-spacing="0.4" >60</text>
<line x1="230.30" y1="326.30" x2="233.30" y2="326.30" stroke="#2a2a2a" stroke-width="1"/>
<text x="227.30" y="328.95" font-size="7.4" text-anchor="end" font-weight="normal" fill="#2a2a2a" letter-spacing="0.4" >0</text>
<line x1="232.80" y1="326.30" x2="338.40" y2="326.30" stroke="#2a2a2a" stroke-width="1"/>
<line x1="244.50" y1="326.30" x2="244.50" y2="329.30" stroke="#2a2a2a" stroke-width="1"/>
<text transform="translate(244.10,335.70) rotate(-45)" font-size="7.4" text-anchor="end" fill="#2a2a2a" stroke="#2a2a2a" stroke-width="0.1" letter-spacing="0.4">&lt;32</text>
<line x1="261.10" y1="326.30" x2="261.10" y2="329.30" stroke="#2a2a2a" stroke-width="1"/>
<text transform="translate(260.70,335.70) rotate(-45)" font-size="7.4" text-anchor="end" fill="#2a2a2a" stroke="#2a2a2a" stroke-width="0.1" letter-spacing="0.4">32-36</text>
<line x1="277.70" y1="326.30" x2="277.70" y2="329.30" stroke="#2a2a2a" stroke-width="1"/>
<text transform="translate(277.30,335.70) rotate(-45)" font-size="7.4" text-anchor="end" fill="#2a2a2a" stroke="#2a2a2a" stroke-width="0.1" letter-spacing="0.4">t</text>
<line x1="294.30" y1="326.30" x2="294.30" y2="329.30" stroke="#2a2a2a" stroke-width="1"/>
<text transform="translate(293.90,335.70) rotate(-45)" font-size="7.4" text-anchor="end" fill="#2a2a2a" stroke="#2a2a2a" stroke-width="0.1" letter-spacing="0.4">28d-2a</text>
<line x1="310.90" y1="326.30" x2="310.90" y2="329.30" stroke="#2a2a2a" stroke-width="1"/>
<text transform="translate(310.50,335.70) rotate(-45)" font-size="7.4" text-anchor="end" fill="#2a2a2a" stroke="#2a2a2a" stroke-width="0.1" letter-spacing="0.4">2-13a</text>
<line x1="327.50" y1="326.30" x2="327.50" y2="329.30" stroke="#2a2a2a" stroke-width="1"/>
<text transform="translate(327.10,335.70) rotate(-45)" font-size="7.4" text-anchor="end" fill="#2a2a2a" stroke="#2a2a2a" stroke-width="0.1" letter-spacing="0.4">&gt;13a</text>
<rect x="239.15" y="242.00" width="10.70" height="26.70" fill="#cdcdcd" stroke="none" stroke-width="0" />
<rect x="239.15" y="278.20" width="10.70" height="48.10" fill="#cdcdcd" stroke="none" stroke-width="0" />
<rect x="239.15" y="240.20" width="10.70" height="1.80" fill="#1a7a3a" stroke="none" stroke-width="0" />
<rect x="239.15" y="233.80" width="10.70" height="6.40" fill="#2c2a86" stroke="none" stroke-width="0" />
<line x1="244.50" y1="227.20" x2="244.50" y2="250.60" stroke="#1a1a1a" stroke-width="1.15"/>
<line x1="241.50" y1="227.20" x2="247.50" y2="227.20" stroke="#1a1a1a" stroke-width="1.15"/>
<line x1="241.50" y1="250.60" x2="247.50" y2="250.60" stroke="#1a1a1a" stroke-width="1.15"/>
<line x1="241.50" y1="231.50" x2="247.50" y2="231.50" stroke="#1a1a1a" stroke-width="1.15"/>
<rect x="255.75" y="242.50" width="10.70" height="26.20" fill="#cdcdcd" stroke="none" stroke-width="0" />
<rect x="255.75" y="278.20" width="10.70" height="48.10" fill="#cdcdcd" stroke="none" stroke-width="0" />
<rect x="255.75" y="235.00" width="10.70" height="7.50" fill="#2c2a86" stroke="none" stroke-width="0" />
<line x1="261.10" y1="231.50" x2="261.10" y2="245.20" stroke="#1a1a1a" stroke-width="1.15"/>
<line x1="258.10" y1="231.50" x2="264.10" y2="231.50" stroke="#1a1a1a" stroke-width="1.15"/>
<line x1="258.10" y1="245.20" x2="264.10" y2="245.20" stroke="#1a1a1a" stroke-width="1.15"/>
<rect x="272.35" y="242.50" width="10.70" height="26.20" fill="#cdcdcd" stroke="none" stroke-width="0" />
<rect x="272.35" y="278.20" width="10.70" height="48.10" fill="#cdcdcd" stroke="none" stroke-width="0" />
<rect x="272.35" y="234.40" width="10.70" height="8.10" fill="#2c2a86" stroke="none" stroke-width="0" />
<line x1="277.70" y1="230.40" x2="277.70" y2="247.50" stroke="#1a1a1a" stroke-width="1.15"/>
<line x1="274.70" y1="230.40" x2="280.70" y2="230.40" stroke="#1a1a1a" stroke-width="1.15"/>
<line x1="274.70" y1="247.50" x2="280.70" y2="247.50" stroke="#1a1a1a" stroke-width="1.15"/>
<rect x="288.95" y="237.60" width="10.70" height="31.10" fill="#cdcdcd" stroke="none" stroke-width="0" />
<rect x="288.95" y="278.20" width="10.70" height="48.10" fill="#cdcdcd" stroke="none" stroke-width="0" />
<rect x="288.95" y="234.20" width="10.70" height="3.40" fill="#2c2a86" stroke="none" stroke-width="0" />
<line x1="294.30" y1="233.20" x2="294.30" y2="238.00" stroke="#1a1a1a" stroke-width="1.15"/>
<line x1="291.30" y1="233.20" x2="297.30" y2="233.20" stroke="#1a1a1a" stroke-width="1.15"/>
<line x1="291.30" y1="238.00" x2="297.30" y2="238.00" stroke="#1a1a1a" stroke-width="1.15"/>
<rect x="305.55" y="247.80" width="10.70" height="20.90" fill="#cdcdcd" stroke="none" stroke-width="0" />
<rect x="305.55" y="278.20" width="10.70" height="48.10" fill="#cdcdcd" stroke="none" stroke-width="0" />
<rect x="305.55" y="234.00" width="10.70" height="10.40" fill="#f2ea10" stroke="none" stroke-width="0" />
<rect x="305.55" y="244.40" width="10.70" height="0.90" fill="#1a7a3a" stroke="none" stroke-width="0" />
<rect x="305.55" y="245.30" width="10.70" height="2.50" fill="#2c2a86" stroke="none" stroke-width="0" />
<line x1="310.90" y1="224.20" x2="310.90" y2="258.30" stroke="#1a1a1a" stroke-width="1.15"/>
<line x1="307.90" y1="224.20" x2="313.90" y2="224.20" stroke="#1a1a1a" stroke-width="1.15"/>
<line x1="307.90" y1="258.30" x2="313.90" y2="258.30" stroke="#1a1a1a" stroke-width="1.15"/>
<line x1="307.90" y1="237.20" x2="313.90" y2="237.20" stroke="#1a1a1a" stroke-width="1.15"/>
<rect x="322.15" y="252.60" width="10.70" height="16.10" fill="#cdcdcd" stroke="none" stroke-width="0" />
<rect x="322.15" y="278.20" width="10.70" height="48.10" fill="#cdcdcd" stroke="none" stroke-width="0" />
<rect x="322.15" y="234.00" width="10.70" height="15.40" fill="#f2ea10" stroke="none" stroke-width="0" />
<rect x="322.15" y="249.40" width="10.70" height="0.90" fill="#1a7a3a" stroke="none" stroke-width="0" />
<rect x="322.15" y="250.30" width="10.70" height="2.30" fill="#2c2a86" stroke="none" stroke-width="0" />
<line x1="327.50" y1="224.20" x2="327.50" y2="263.20" stroke="#1a1a1a" stroke-width="1.15"/>
<line x1="324.50" y1="224.20" x2="330.50" y2="224.20" stroke="#1a1a1a" stroke-width="1.15"/>
<line x1="324.50" y1="263.20" x2="330.50" y2="263.20" stroke="#1a1a1a" stroke-width="1.15"/>
<line x1="324.50" y1="242.70" x2="330.50" y2="242.70" stroke="#1a1a1a" stroke-width="1.15"/>
<text transform="translate(205.90,320.95) rotate(-90) scale(0.928,1)" font-size="6.45" font-weight="normal" fill="#222" stroke="#222" stroke-width="0.15" letter-spacing="0.377">PLTs in respective quadrant [%]</text>
<text x="358.30" y="199.00" font-size="11" text-anchor="start" font-weight="bold" fill="#111" stroke="#111" stroke-width="0.3" letter-spacing="0" >F</text>
<polygon points="500.5,255.6 501.1,258.8 500.5,262.0 499.1,264.9 497.9,267.9 496.9,270.8 495.5,273.5 493.7,276.1 491.9,278.6 490.7,281.4 489.4,284.3 487.5,286.8 484.6,288.3 481.4,289.2 478.8,290.6 476.7,292.8 474.5,295.2 472.0,297.1 469.0,298.0 465.9,298.6 462.9,299.3 459.8,299.7 456.7,299.5 453.7,298.9 450.7,298.5 447.6,298.9 444.2,299.5 441.0,299.2 438.2,297.6 435.8,295.4 433.2,293.7 430.2,292.7 426.9,291.8 424.0,290.2 421.6,288.1 419.2,285.8 416.7,283.6 414.3,281.2 412.9,278.1 412.5,274.6 411.8,271.4 410.4,268.4 409.3,265.4 409.2,262.1 410.5,258.7 411.8,255.6 412.5,252.6 412.5,249.6 412.4,246.5 412.9,243.5 413.9,240.6 415.0,237.7 416.4,234.9 417.9,232.3 419.6,229.7 421.5,227.3 423.5,225.0 425.8,222.9 428.1,220.9 430.6,219.1 433.2,217.5 435.9,216.1 438.7,214.8 441.6,213.8 444.6,212.9 447.6,212.3 450.6,211.8 453.7,211.6 456.7,211.6 459.8,211.8 462.8,212.3 465.8,212.9 468.8,213.8 471.7,214.8 474.5,216.1 477.2,217.5 479.8,219.1 482.3,220.9 484.6,222.9 486.9,225.0 488.9,227.3 490.8,229.7 492.5,232.3 494.0,234.9 495.4,237.7 496.5,240.6 497.5,243.5 498.2,246.5 498.8,249.5 499.1,252.5 499.2,255.6" fill="#d8f0e0"/>
<path d="M442.5 210.5L442.3 209.8L442.0 209.0M448.9 209.7L448.2 209.2L447.8 208.5M452.4 209.9L453.1 209.4L453.9 209.3M439.7 209.7L439.9 210.4L440.4 211.1M457.2 210.6L456.5 211.0L455.7 211.0M458.9 210.0L458.5 210.6L458.5 211.4M439.7 211.8L440.1 212.5L439.8 213.3M452.5 213.2L452.7 212.4L452.4 211.7M462.3 212.2L461.8 212.8L461.7 213.6M433.6 216.2L433.2 215.5L433.4 214.8M451.2 215.4L452.0 215.5L452.8 215.6M427.6 216.8L427.2 216.0L426.6 215.6M432.2 217.8L432.4 217.0L431.6 216.9M440.1 217.7L440.0 216.9L439.5 216.2M457.2 217.8L457.0 217.0L457.5 216.3M459.6 216.0L458.8 216.2L458.1 216.0M468.2 215.3L468.4 216.1L468.1 216.8M468.9 217.0L469.7 217.2L470.4 217.5M472.0 215.8L472.0 216.6L472.3 217.4M422.5 218.9L421.7 218.9L421.3 219.6M431.4 218.1L431.0 218.8L431.8 219.0M433.4 218.5L434.1 218.3L434.4 217.5M442.7 218.4L443.5 218.7L443.8 219.4M446.6 218.9L446.0 218.4L445.3 218.1M448.9 218.0L449.1 218.8L448.3 218.9M454.1 218.1L453.9 218.8L453.2 219.3M456.2 218.6L456.9 218.8L457.7 218.7M459.5 219.6L459.0 219.0L458.5 218.4M459.7 217.1L460.0 217.8L460.4 218.5M463.0 218.5L462.5 217.9L462.2 217.2M465.1 218.6L464.5 219.2L464.1 219.9M475.4 218.7L475.5 217.9L475.4 217.1M421.5 221.4L420.7 221.2L420.5 221.9M425.2 220.0L425.2 220.8L425.6 221.5M429.1 220.8L429.9 220.9L430.6 221.1M432.9 219.4L432.8 220.2L432.1 219.9M436.7 219.5L436.0 219.9L435.4 219.4M460.0 220.8L460.5 220.2L460.3 219.4M473.1 221.2L472.5 220.6L471.7 220.5M473.2 219.8L473.3 220.6L473.5 221.3M476.2 220.2L476.1 221.0L476.6 221.6M425.1 223.2L424.3 223.0L423.7 222.5M433.8 222.6L433.0 222.8L433.2 222.0M441.3 222.3L442.0 222.0L442.6 221.4M463.4 223.4L462.7 223.0L461.9 222.7M464.5 223.5L464.4 222.8L463.8 222.3M473.2 222.3L474.0 222.2L474.7 222.4M473.9 221.7L474.7 221.7L474.8 220.9M421.0 225.1L420.4 224.5L420.1 223.8M423.2 224.3L422.4 224.2L422.5 225.0M436.9 224.0L436.2 224.3L435.9 225.1M441.6 225.3L441.8 224.6L441.6 223.8M443.8 224.5L444.5 224.2L445.2 224.7M447.5 224.0L447.2 224.7L447.0 225.5M455.0 225.2L455.0 224.4L455.8 224.1M458.1 225.4L457.6 224.8L456.8 224.7M459.5 224.6L459.4 223.8L458.8 223.2M459.6 223.5L460.4 223.7L461.2 223.6M480.8 224.7L481.5 224.5L482.3 224.2M483.9 224.8L484.6 224.4L485.4 224.1M417.8 226.8L418.0 226.0L418.4 225.3M421.9 225.9L422.4 225.3L423.1 224.9M426.7 224.7L426.7 225.5L427.3 226.1M443.6 225.6L443.4 226.4L443.1 227.2M455.1 226.7L455.9 226.6L456.4 226.0M460.6 226.8L460.6 226.0L461.3 225.8M463.2 224.5L462.8 225.2L462.3 225.8M466.5 225.1L465.9 225.7L465.2 226.0M428.7 227.8L427.9 228.1L427.4 228.8M437.7 228.8L436.9 228.5L437.0 227.7M441.3 227.4L440.8 228.1L440.1 228.5M454.0 226.8L454.5 227.4L455.3 227.7M464.1 226.8L464.7 227.4L464.9 226.6M466.7 228.0L466.1 228.6L465.8 229.3M469.6 228.1L470.3 227.8L471.1 227.9M486.9 227.5L486.1 227.4L485.6 226.8M489.0 228.7L489.8 228.4L490.5 228.6M416.4 228.5L416.9 229.1L417.3 229.8M420.2 229.7L420.2 229.0L419.9 228.2M436.4 229.4L437.0 229.9L437.7 229.5M442.9 229.9L442.3 229.4L442.4 230.2M446.1 229.7L445.3 229.8L444.6 229.5M448.9 229.0L449.5 229.5L450.3 229.2M457.0 229.4L457.6 228.9L457.7 228.1M461.8 230.3L462.3 229.7L462.8 229.1M468.1 229.0L468.8 229.1L469.6 229.5M474.6 230.1L474.0 229.5L474.3 228.8M475.8 229.2L475.8 230.0L476.1 230.8M477.8 230.8L477.1 230.4L477.0 229.6M486.1 229.1L485.4 229.6L484.8 230.1M489.0 230.3L488.2 230.2L487.5 229.8M412.0 230.3L412.4 231.0L411.8 231.5M414.2 230.5L414.1 231.3L414.9 231.5M427.8 232.1L428.6 232.2L429.1 231.5M435.2 232.4L436.0 232.3L436.1 233.1M439.6 231.1L440.4 231.1L441.0 230.5M455.6 231.4L456.3 231.0L456.8 230.4M462.9 230.9L462.2 231.4L461.4 231.4M466.0 230.8L466.7 231.1L467.2 231.8M474.6 231.3L475.4 231.5L476.2 231.4M483.1 230.8L482.4 231.2L482.2 232.0M485.2 232.0L485.9 232.3L486.7 232.2M416.0 233.1L415.5 233.8L414.8 234.2M417.5 232.2L417.7 233.0L417.6 233.8M431.7 232.2L431.4 232.9L431.1 233.6M432.7 232.9L432.5 233.7L432.5 234.5M434.2 234.0L435.0 233.9L435.8 233.6M448.1 232.6L448.9 232.6L449.2 233.4M455.3 231.9L455.0 232.7L454.4 233.1M459.5 232.7L460.1 233.3L460.6 233.9M467.4 233.9L466.6 233.7L465.8 233.6M474.8 233.6L475.5 234.1L476.2 234.4M487.8 233.2L487.1 233.0L487.9 233.1M492.3 232.6L492.8 233.2L492.0 233.4M495.3 233.8L494.5 233.6L493.9 233.0M428.7 235.5L429.5 235.3L430.2 235.0M439.5 234.4L438.8 234.6L438.2 235.2M440.7 234.5L441.5 234.5L441.3 233.7M457.8 234.5L458.3 235.1L458.2 235.9M463.2 235.6L462.7 234.9L462.4 234.2M467.3 235.1L468.1 235.2L468.9 235.3M472.0 234.9L471.5 235.5L471.0 236.1M493.3 233.9L493.3 234.7L492.6 235.1M414.7 237.2L414.4 236.4L413.6 236.5M417.2 237.0L418.0 237.0L418.3 237.7M426.3 237.7L425.8 237.1L426.4 236.5M456.3 235.6L455.9 236.3L455.3 236.9M464.6 238.4L464.6 237.6L465.0 236.9M472.3 236.5L472.3 237.3L472.2 238.1M476.0 237.6L475.6 236.9L475.7 236.1M486.8 238.5L486.6 237.7L486.5 236.9M493.2 237.1L492.6 236.6L491.9 236.2M496.7 237.2L497.5 237.4L498.1 236.9M411.9 240.2L411.3 239.7L410.7 239.2M422.5 239.0L421.7 239.0L421.3 238.3M432.0 238.5L432.8 238.6L433.4 239.1M437.4 239.5L437.0 238.8L436.9 238.0M440.0 237.5L440.1 238.3L440.3 239.0M444.2 239.6L443.4 239.5L442.6 239.4M449.7 238.5L448.9 238.2L448.7 237.5M452.9 240.0L452.2 239.6L451.5 239.9M457.7 239.3L456.9 239.2L456.1 239.0M468.7 239.0L468.6 238.2L467.8 238.0M473.3 238.9L472.6 239.1L471.8 239.4M473.2 237.6L473.3 238.4L473.0 239.1M485.8 239.2L485.1 238.8L484.3 239.1M492.2 239.2L492.6 238.5L493.4 238.6M498.4 238.5L497.6 238.6L497.1 238.0M418.0 240.4L417.5 241.1L417.9 241.8M422.8 241.0L423.1 240.3L422.8 239.5M447.8 241.6L447.2 241.0L447.9 240.7M449.0 242.1L449.5 241.5L449.7 240.7M451.0 241.1L451.7 240.7L452.5 240.4M456.5 240.9L457.3 240.7L458.1 240.7M458.7 239.7L459.2 240.4L459.3 241.2M460.6 240.5L461.0 241.2L461.1 242.0M463.3 240.8L464.1 241.0L464.6 240.4M466.2 241.9L466.5 241.1L466.1 240.5M468.6 240.5L469.3 240.9L470.1 241.2M493.0 240.2L493.8 240.2L493.7 241.0M413.3 242.6L412.5 242.9L412.5 243.7M416.4 242.8L416.1 242.0L415.5 241.5M424.7 242.5L423.9 242.8L423.1 242.5M444.2 241.9L443.5 242.5L443.7 243.2M449.0 243.3L449.8 243.1L450.6 243.0M456.4 243.8L456.7 243.1L457.0 242.4M468.2 243.6L468.2 242.8L468.2 242.0M468.8 241.9L469.4 242.4L470.2 242.3M472.3 242.8L471.7 243.3L470.9 243.1M495.5 242.8L496.2 242.4L497.0 242.4M498.4 244.1L498.5 243.3L498.2 242.6M413.5 244.5L414.3 244.6L414.5 243.8M418.7 243.2L418.7 244.0L418.1 244.5M422.6 244.7L422.0 245.2L422.1 246.0M424.6 245.4L424.3 244.7L424.4 243.9M424.7 244.9L425.5 245.0L425.9 245.8M448.8 244.1L449.5 244.4L449.5 245.2M451.6 243.3L451.9 244.0L452.6 244.4M458.9 244.6L458.9 243.8L458.9 243.0M484.4 244.5L483.6 244.6L483.1 243.9M489.6 243.6L488.9 244.0L488.5 243.3M493.0 245.0L493.6 244.5L493.5 243.7M413.8 247.3L413.2 246.8L413.8 246.3M415.3 245.8L414.9 246.5L414.1 246.7M416.6 245.3L417.0 246.0L417.4 246.7M418.6 247.2L418.7 246.4L418.8 245.6M423.7 246.3L424.1 247.0L424.8 247.3M427.4 247.0L426.7 246.6L426.4 245.9M440.4 247.7L440.5 246.9L440.5 246.1M446.3 247.3L446.6 246.6L446.2 245.9M456.9 247.8L457.2 247.1L456.5 246.7M469.0 246.1L468.2 245.8L467.4 245.8M479.8 247.0L480.5 246.8L481.3 246.4M490.4 247.2L490.3 246.4L489.5 246.4M411.9 247.1L412.0 247.9L412.1 248.7M420.1 248.1L420.3 248.9L421.0 249.2M430.8 248.8L431.2 248.1L431.7 247.5M432.2 247.0L432.5 247.8L432.8 248.5M440.2 248.3L439.6 247.8L439.5 247.0M442.1 248.3L442.9 248.4L443.4 249.0M450.7 247.9L449.9 248.1L449.3 247.5M465.5 248.0L466.3 247.8L467.1 248.0M479.0 248.1L479.8 248.2L480.6 247.9M480.6 248.3L480.5 247.5L480.4 246.7M481.4 248.9L482.2 248.8L482.9 249.0M486.6 248.3L487.0 247.6L487.8 247.7M489.7 248.5L490.5 248.6L491.2 249.0M419.0 249.5L418.4 250.0L417.8 249.4M429.1 250.2L429.3 249.5L429.0 248.8M431.7 250.8L431.7 250.0L431.3 249.4M432.8 251.1L432.6 250.3L432.2 249.7M440.5 250.6L440.6 249.8L441.0 250.5M442.4 250.7L441.6 250.7L440.9 250.3M444.4 250.7L445.1 250.3L445.9 250.5M446.3 249.7L447.1 249.7L447.9 249.9M477.4 250.8L477.6 250.1L477.8 249.3M488.6 251.3L488.9 250.6L489.7 250.4M498.3 249.8L497.6 249.4L497.4 248.7M412.2 251.2L411.4 251.1L410.7 251.0M428.6 251.7L429.4 251.9L429.4 251.1M434.0 251.5L433.3 251.9L432.7 252.5M438.6 250.7L438.7 251.5L439.3 252.0M448.1 253.2L448.5 252.5L448.6 251.7M459.6 251.2L460.3 251.6L461.0 252.1M481.3 251.9L480.7 251.4L480.5 252.2M483.7 251.7L484.5 251.6L485.2 251.8M488.0 250.9L488.7 251.2L489.5 251.2M491.8 251.1L492.1 251.8L492.8 252.1M495.3 252.0L494.7 251.5L493.9 251.5M496.9 251.6L497.7 251.8L498.4 251.5M419.6 254.0L418.9 254.4L418.3 254.8M429.5 253.0L428.9 253.5L429.2 254.2M433.0 253.0L433.3 253.7L432.7 254.3M440.7 253.4L439.9 253.4L439.3 252.8M449.4 253.7L450.0 254.2L450.6 254.6M458.3 253.9L459.1 254.1L459.9 254.2M461.5 253.3L461.1 253.9L460.9 254.7M465.4 253.4L464.9 254.0L464.2 254.4M471.6 253.8L471.9 253.1L472.0 252.3M481.3 254.0L480.6 253.5L480.1 252.9M483.1 252.5L483.5 253.1L484.2 253.5M484.8 253.5L484.8 254.3L484.6 255.0M494.0 253.9L494.7 253.5L495.4 254.0M422.8 255.8L422.0 255.6L421.7 256.3M433.6 256.7L434.1 256.2L434.8 256.5M452.4 255.8L453.0 255.3L453.1 254.5M457.1 254.9L456.3 254.9L455.5 254.8M483.8 255.1L484.5 255.4L484.4 256.2M491.6 255.4L491.0 254.9L491.2 254.1M497.1 254.7L497.4 255.5L497.6 256.2M409.9 256.4L410.5 256.9L411.3 256.7M418.9 258.6L419.6 258.1L419.8 257.4M423.6 256.4L424.3 256.8L424.0 257.5M426.6 257.6L426.0 258.1L425.6 258.8M430.6 257.8L429.9 257.4L429.2 257.1M430.7 256.4L431.1 257.1L431.8 257.5M432.2 257.4L432.9 257.0L433.5 256.6M440.4 258.5L441.1 258.1L441.9 257.9M447.7 257.8L447.0 258.2L446.5 258.8M455.7 256.9L455.1 257.5L454.3 257.5M457.0 258.2L457.1 257.4L457.4 256.7M464.8 257.2L465.0 258.0L465.0 258.8M473.7 256.3L474.4 256.6L475.1 257.1M474.4 258.6L474.9 258.0L475.7 257.9M477.3 257.5L478.1 257.7L478.5 258.4M479.0 256.8L479.8 256.7L479.8 255.9M487.6 257.7L486.8 257.7L486.1 257.4M488.1 256.6L487.9 257.4L487.9 258.2M491.7 257.6L490.9 257.7L490.1 257.7M493.7 258.2L493.8 257.4L494.2 256.7M409.6 259.6L409.6 258.8L409.4 258.0M429.6 259.1L430.4 259.2L430.5 260.0M433.0 260.0L432.8 259.3L432.9 258.5M443.1 258.9L442.3 258.8L441.9 259.5M460.8 258.5L460.4 259.1L460.6 259.9M470.4 258.4L471.2 258.6L471.7 259.2M473.7 260.0L473.4 259.2L473.7 258.4M481.0 259.4L481.5 258.8L482.1 258.2M482.7 259.3L482.4 258.6L481.8 258.1M490.0 258.9L490.8 259.2L491.6 259.3M493.1 260.2L492.8 259.4L492.9 258.6M497.1 259.2L497.9 259.1L498.7 259.0M502.3 258.6L502.1 259.3L501.3 259.0M410.9 261.3L410.2 261.8L410.3 262.6M415.6 261.4L416.1 260.8L416.0 260.0M418.2 261.4L418.8 261.8L419.1 262.6M435.8 259.7L435.4 260.4L434.6 260.2M439.8 260.9L440.5 261.1L440.8 261.9M442.5 260.7L442.8 261.4L443.3 262.0M444.4 261.0L445.2 260.8L445.9 260.4M452.5 260.5L451.7 260.5L450.9 260.5M455.6 261.0L455.7 261.7L455.5 262.5M459.2 260.6L459.9 260.4L460.5 260.9M480.7 261.1L480.0 260.8L479.3 261.2M480.0 261.4L480.6 261.9L480.8 262.6M484.1 260.7L483.4 261.1L483.3 261.9M491.6 260.8L492.4 260.7L493.2 260.9M493.4 260.9L493.3 261.7L492.6 261.4M496.0 260.3L496.0 261.1L496.5 261.7M497.2 260.2L497.6 260.9L498.1 261.5M410.2 262.2L409.6 262.8L408.9 263.1M413.2 262.8L412.5 263.3L411.9 262.8M423.6 263.0L423.8 262.2L423.1 262.6M425.8 262.4L425.7 263.2L425.0 263.4M430.0 264.1L429.8 263.3L430.1 262.6M431.0 264.2L430.4 263.7L429.8 263.2M434.5 264.1L434.9 263.4L435.5 263.0M448.7 261.6L448.2 262.2L447.9 262.9M454.7 263.0L455.4 263.4L456.2 263.4M465.7 263.1L466.5 263.4L466.5 262.6M469.1 261.9L468.6 262.4L467.8 262.7M484.7 263.9L485.2 263.3L486.0 263.0M492.6 262.2L493.4 262.3L493.9 261.6M496.8 263.5L496.6 262.7L495.9 262.3M499.0 262.2L499.7 262.5L500.3 263.1M407.7 263.6L407.8 264.4L407.7 265.2M414.5 265.1L413.8 265.5L413.0 265.3M417.2 263.9L416.9 264.6L416.6 265.3M421.1 264.7L421.4 265.4L421.0 266.1M433.5 265.6L432.7 265.5L432.7 264.7M433.8 265.8L434.1 265.1L434.8 264.6M436.3 264.2L437.1 264.1L437.6 264.8M443.5 264.9L444.3 265.0L443.8 264.3M452.9 265.0L453.6 265.5L454.2 266.0M464.8 265.9L465.2 265.2L465.6 264.5M470.6 265.5L469.8 265.4L469.4 264.7M474.9 265.6L475.3 264.9L475.9 264.3M488.7 265.7L488.3 265.0L487.6 265.4M411.3 267.3L410.5 267.4L409.8 267.1M414.0 266.2L414.7 265.9L415.2 265.3M425.6 265.6L425.3 266.4L424.6 266.6M447.4 266.2L448.2 266.3L448.2 267.1M451.8 265.4L451.3 266.0L450.5 265.9M454.8 266.6L455.6 266.5L456.4 266.6M466.4 268.0L465.9 267.3L465.7 266.5M470.4 266.7L471.2 266.7L471.7 266.1M486.0 266.4L485.5 267.1L485.6 267.9M490.1 265.7L490.5 266.4L490.8 267.2M409.8 268.6L409.1 268.1L409.3 267.3M410.4 269.2L410.1 268.5L409.4 268.2M426.7 268.3L426.0 268.4L425.4 267.8M448.9 268.7L448.9 267.9L448.8 267.1M467.6 268.3L466.8 268.4L466.0 268.5M471.4 268.3L470.6 268.2L469.9 268.6M477.0 269.2L477.8 269.1L478.5 269.5M480.4 268.8L479.6 268.6L478.8 268.7M492.7 268.9L492.2 268.4L492.5 267.6M496.0 269.7L495.4 269.2L494.6 269.4M497.5 269.0L498.1 268.5L498.1 267.7M410.8 270.6L411.2 269.9L411.9 269.5M420.2 269.9L419.5 270.3L419.9 271.0M425.1 270.0L425.3 270.8L425.8 271.4M427.8 271.9L427.8 271.1L428.0 270.3M432.5 270.9L432.6 270.1L432.9 269.4M434.8 271.0L434.3 270.4L433.7 269.9M450.1 270.8L450.3 270.1L449.9 269.4M456.3 270.3L457.0 269.9L457.6 270.5M462.5 269.2L462.2 269.9L461.5 270.4M465.8 270.4L465.0 270.1L464.2 269.9M465.1 270.5L465.6 271.1L466.3 271.5M428.1 272.8L427.4 272.5L426.7 273.0M436.7 271.9L436.0 271.5L435.2 271.7M441.7 270.7L441.9 271.4L441.5 272.1M451.7 273.5L451.2 272.8L451.3 272.0M457.2 272.0L457.7 272.7L457.6 273.5M460.1 273.4L460.6 272.9L460.4 272.1M462.8 272.2L463.0 273.0L463.4 273.6M466.0 273.7L465.9 273.0L465.4 272.3M470.3 271.1L469.9 271.8L469.3 271.2M470.9 272.3L471.7 272.5L472.4 272.0M478.0 272.5L477.5 271.8L476.7 271.9M498.7 271.9L498.1 272.5L497.8 273.2M412.2 273.9L412.9 273.5L412.6 272.8M414.3 272.9L414.7 273.6L414.0 274.0M417.2 275.1L417.0 274.3L417.8 274.4M418.1 273.1L418.3 273.9L418.5 274.6M439.9 273.5L440.7 273.8L441.5 273.8M444.8 274.3L444.6 273.5L445.0 272.8M448.7 272.7L449.2 273.3L448.5 273.7M452.3 273.1L452.8 273.7L452.6 274.4M458.4 272.9L458.5 273.6L458.1 274.3M476.0 273.0L476.6 273.5L477.4 273.5M422.8 276.4L423.5 276.0L424.2 275.6M427.3 275.9L427.1 276.7L427.3 277.4M453.2 276.0L453.0 275.2L453.4 274.5M463.7 276.3L464.5 276.2L464.6 275.4M466.2 275.6L467.0 275.6L467.8 275.6M477.6 276.6L477.7 275.8L478.0 275.1M478.6 275.7L479.2 276.2L480.0 276.4M487.7 274.7L487.9 275.5L488.0 276.3M489.7 276.0L490.1 275.4L490.2 274.6M419.5 277.0L420.0 277.6L420.8 277.7M424.2 276.9L424.1 277.6L423.6 278.2M443.8 277.6L444.5 278.0L445.3 278.1M444.5 278.1L445.3 278.4L446.0 278.7M449.6 276.7L449.0 277.3L449.6 277.8M452.9 278.1L453.5 277.6L454.1 277.1M458.9 278.4L458.8 277.6L458.1 277.1M464.4 277.9L464.2 277.1L463.4 277.0M473.8 277.2L473.6 277.9L473.6 278.7M488.0 278.4L488.3 277.7L488.1 276.9M493.2 277.7L493.7 278.3L493.6 279.1M419.9 280.0L420.1 279.2L420.5 278.6M444.1 279.5L444.6 278.9L444.5 278.1M445.4 279.0L445.7 279.7L446.5 279.9M456.0 278.9L456.6 279.5L457.3 279.7M459.1 280.2L459.1 279.4L458.8 278.7M462.5 278.3L461.9 278.9L461.6 279.6M467.2 278.1L467.0 278.9L466.7 279.7M474.4 278.9L474.2 279.7L473.7 280.3M483.3 280.1L482.5 279.8L482.2 279.1M492.6 281.1L492.4 280.3L492.0 279.6M413.6 281.9L412.8 282.2L412.1 282.5M419.1 282.8L418.6 282.2L417.9 281.8M423.8 281.2L423.0 281.5L423.2 280.8M426.6 282.4L426.1 281.9L426.0 281.1M433.5 281.6L432.8 282.0L432.6 282.8M434.7 280.7L434.9 281.5L435.6 281.0M437.5 280.4L437.0 281.0L437.6 281.6M438.4 281.6L439.1 281.1L438.3 280.8M439.0 281.0L439.8 281.3L440.4 280.7M442.5 281.2L441.9 281.7L441.1 281.4M448.1 281.1L447.3 281.2L446.6 281.7M458.8 280.6L459.6 280.9L460.2 281.3M462.7 281.6L462.0 282.0L462.1 282.8M471.0 280.6L470.2 280.7L469.6 281.2M474.1 281.8L474.9 282.0L475.7 282.3M479.8 280.0L479.8 280.8L479.8 281.6M480.6 280.5L480.7 281.3L480.7 282.1M492.8 281.2L492.4 281.9L491.8 282.4M418.9 283.1L419.6 282.7L420.4 282.5M425.3 284.1L425.6 283.3L424.9 282.9M428.6 283.7L428.0 283.1L427.2 283.2M434.5 283.3L435.3 283.4L434.9 282.7M437.1 282.3L436.3 282.6L435.5 282.6M439.3 283.5L438.7 283.0L438.9 282.2M442.1 282.9L442.7 283.4L442.5 284.2M446.4 284.8L446.5 284.0L447.0 283.4M448.6 283.6L447.9 283.1L448.5 282.6M450.3 282.2L449.6 282.6L448.8 282.9M452.8 282.6L453.0 283.4L452.5 284.1M455.8 282.4L455.1 282.8L454.8 282.0M465.5 283.6L464.8 283.1L464.6 282.3M466.1 283.1L465.5 283.5L465.8 284.2M474.3 282.9L473.5 283.2L472.8 283.3M488.3 283.2L489.1 282.9L489.8 282.7M419.9 285.9L419.7 285.1L419.5 284.3M423.0 285.2L423.8 285.3L424.6 285.2M426.2 284.9L425.4 285.0L424.7 284.6M431.8 284.7L432.5 284.4L432.7 285.2M438.9 284.5L438.1 284.4L437.7 283.7M445.5 285.3L446.3 285.5L446.9 286.1M453.7 284.2L454.1 284.9L454.8 284.5M467.7 285.1L468.2 284.6L469.0 284.3M471.6 284.0L471.5 284.8L470.7 285.0M473.1 283.6L472.9 284.4L472.7 285.2M477.4 285.6L478.0 285.1L478.3 285.9M491.7 285.6L491.0 285.9L490.3 285.6M419.0 286.8L418.8 287.6L418.3 288.1M421.2 286.7L420.4 286.7L419.6 286.8M420.4 286.3L421.1 286.8L421.9 286.9M427.7 286.0L427.1 286.5L426.8 285.8M428.1 287.2L428.7 287.7L429.5 288.0M445.5 286.5L446.0 287.1L446.3 287.8M450.7 285.8L450.1 286.3L449.4 286.7M452.4 288.1L453.1 287.6L453.8 287.4M458.8 287.7L458.1 287.2L457.4 287.4M464.2 287.9L464.5 287.1L464.9 286.5M466.6 287.2L465.8 286.9L465.0 286.8M476.1 286.9L475.3 286.8L474.7 286.3M479.8 287.3L479.4 286.6L478.9 286.0M481.5 286.4L482.3 286.5L483.1 286.4M424.0 289.5L424.4 288.8L424.0 288.1M425.1 288.5L425.9 288.7L426.5 289.2M427.4 289.6L427.4 288.8L427.7 288.1M429.7 288.4L430.5 288.2L430.7 287.4M433.7 289.9L433.3 289.3L433.4 288.5M439.4 288.6L438.7 289.0L438.0 289.3M448.8 288.7L448.9 289.5L449.1 290.3M451.3 289.4L450.7 288.8L451.5 288.6M460.7 289.5L460.1 288.9L459.9 288.1M476.5 287.7L476.0 288.4L476.5 289.0M422.1 290.3L422.5 291.0L423.3 291.0M427.8 290.3L427.0 290.3L426.2 290.1M429.0 291.3L428.9 290.5L428.8 289.7M435.3 289.9L435.2 290.6L435.7 291.3M436.8 292.1L436.7 291.3L437.0 290.5M440.0 289.3L439.6 290.0L439.3 290.7M443.2 292.0L443.5 291.3L444.1 290.8M454.4 289.7L454.5 290.5L453.8 290.1M458.1 291.1L457.8 290.4L457.8 289.6M460.6 290.2L460.3 291.0L459.6 291.4M477.5 290.7L477.3 291.4L478.0 291.0M479.8 290.7L479.8 291.5L480.5 291.8M481.0 290.2L480.5 290.8L479.7 290.8M431.5 292.6L432.2 292.8L433.0 292.8M439.2 292.8L438.6 293.3L438.0 293.9M444.3 293.9L443.8 293.3L443.0 293.1M447.4 292.7L448.1 292.3L448.9 292.6M449.4 292.4L449.0 293.1L448.7 293.8M452.4 292.2L453.2 292.1L453.9 291.8M458.9 292.2L459.6 291.8L460.3 291.3M459.8 293.1L460.6 293.1L461.4 292.9M461.8 291.5L462.3 292.2L462.1 292.9M464.7 292.6L465.1 291.9L465.7 291.4M469.4 291.7L470.1 291.9L470.6 292.5M476.0 292.7L475.3 292.5L474.8 293.2M435.6 295.0L435.9 294.3L436.3 293.5M452.8 292.9L452.7 293.7L453.0 294.4M455.7 295.3L455.8 294.5L455.8 293.7M477.2 295.5L477.3 294.7L476.5 294.8M442.7 296.7L441.9 296.8L441.1 296.7M445.2 297.1L445.4 296.3L445.3 295.5M465.1 295.7L465.1 296.5L464.5 297.0M448.7 298.3L447.9 298.6L447.1 298.7M453.0 296.7L452.8 297.5L453.4 298.0M454.6 298.5L455.4 298.6L456.0 298.1M461.5 296.8L461.1 297.4L460.3 297.5M455.1 300.1L455.3 299.4L455.5 298.6M457.9 300.9L457.7 300.1L458.5 299.9M457.8 301.0L458.3 300.4L458.6 299.7M460.1 299.7L460.2 300.5L460.3 301.3M464.1 299.7L464.8 299.4L465.3 298.8M466.9 299.4L466.1 299.8L465.5 300.2M470.8 300.6L471.1 299.9L470.8 299.1M457.5 301.3L457.5 302.1L456.7 302.2M459.7 301.4L460.4 301.7L460.8 302.4M463.0 300.6L462.4 301.1L461.9 300.4" fill="none" stroke="#3aae6a" stroke-width="0.95" stroke-linecap="round" stroke-linejoin="round"/>
<path d="M446.4 209.3L445.7 209.6L446.4 210.1M432.7 211.2L432.3 211.8L432.4 212.6M447.3 210.4L446.5 210.5L445.8 210.3M448.7 211.2L448.0 211.6L448.3 212.3M452.9 212.3L452.2 211.8L451.5 211.7M454.3 212.5L453.8 211.9L454.6 211.6M430.8 212.7L431.4 213.2L430.6 213.3M437.6 212.3L438.1 212.9L438.9 213.0M441.8 213.0L441.6 213.8L440.8 213.9M446.9 213.7L446.1 213.5L445.4 213.0M464.0 213.5L464.1 212.7L464.6 212.1M445.9 214.3L446.0 215.1L446.2 215.8M454.0 215.3L453.4 214.7L453.4 213.9M458.2 215.2L458.3 214.4L458.5 213.6M463.8 215.9L464.5 215.6L465.0 215.0M466.1 215.7L465.7 215.0L465.1 214.5M426.7 217.3L425.9 217.1L425.1 217.1M438.6 217.6L438.3 216.9L438.6 216.2M442.5 217.8L442.1 217.1L441.3 217.0M448.5 215.3L448.4 216.1L449.1 216.5M454.2 217.7L454.1 216.9L454.5 216.2M474.9 216.8L475.2 216.1L475.7 215.5M476.1 216.3L476.8 216.6L477.6 216.7M478.4 216.7L478.4 217.5L477.7 217.8M424.2 218.1L424.9 217.8L425.7 217.9M429.4 218.1L428.7 217.9L427.9 218.0M440.1 219.5L440.3 218.8L439.8 218.2M442.7 217.3L442.8 218.1L442.0 218.2M448.5 217.3L448.5 218.1L448.3 218.8M450.8 217.8L451.5 218.1L451.8 218.9M455.6 217.9L455.7 218.6L455.9 219.4M469.7 217.3L470.3 217.8L470.3 218.6M473.6 217.8L473.2 218.5L473.0 219.3M424.2 221.7L424.2 220.9L424.2 220.1M437.4 220.3L438.2 220.2L438.5 220.9M441.7 220.2L442.3 220.8L442.8 221.4M443.3 219.4L443.9 219.9L444.4 220.5M448.0 220.4L448.1 219.6L448.0 218.8M450.9 221.4L451.3 220.7L452.1 220.9M458.5 220.4L458.3 219.6L457.6 219.3M468.7 221.1L469.4 220.6L469.1 219.9M480.0 221.0L479.8 220.2L479.7 219.4M418.5 223.8L418.7 223.0L419.3 222.4M429.3 221.4L428.6 221.6L428.0 221.0M431.1 223.2L430.6 222.5L430.0 222.0M443.2 222.5L443.9 222.1L444.0 222.9M448.1 222.1L448.5 222.8L448.1 223.5M466.0 223.2L465.7 222.5L466.4 222.2M477.8 221.5L477.5 222.3L477.3 223.1M416.1 224.0L416.9 224.0L417.7 224.3M429.1 225.6L428.8 224.9L428.0 224.8M435.6 224.5L435.4 223.7L436.2 223.6M438.5 225.3L438.3 224.6L437.5 224.5M441.4 223.6L440.7 223.3L441.1 222.6M444.7 223.4L445.2 224.0L445.9 224.4M452.4 224.8L451.9 224.2L451.7 223.4M453.9 224.1L453.2 223.6L452.7 224.2M463.4 223.1L463.8 223.8L464.2 224.5M466.1 224.3L465.8 223.5L465.2 223.0M469.3 223.1L468.6 223.5L467.9 223.3M469.6 223.1L469.6 223.9L470.3 223.5M471.1 224.5L471.3 223.7L471.6 223.0M483.8 224.2L483.1 224.0L482.3 224.2M419.7 225.3L419.6 226.1L419.6 226.9M425.4 226.2L425.7 225.4L426.5 225.7M431.8 226.7L432.2 226.0L433.0 226.0M438.7 226.2L437.9 226.5L437.9 225.7M442.1 225.4L442.6 226.1L443.3 226.5M453.0 225.2L453.8 225.2L454.3 224.6M468.4 224.5L467.9 225.2L468.3 225.9M471.0 225.1L470.7 225.9L470.4 226.6M478.8 226.7L478.1 226.4L477.3 226.6M481.6 225.8L481.0 226.4L480.5 227.0M486.9 224.7L486.8 225.5L486.5 226.3M421.4 226.9L421.9 227.5L422.5 228.0M447.6 229.2L447.9 228.4L447.6 227.7M456.8 229.0L456.5 228.3L456.9 227.5M467.5 226.5L467.5 227.3L467.7 228.0M474.7 228.1L474.0 228.5L473.5 229.1M476.7 227.7L477.4 228.0L478.2 228.1M478.0 227.9L478.5 227.3L479.3 227.2M414.4 229.1L414.6 229.9L415.0 230.5M421.0 229.0L421.1 229.8L420.9 230.5M423.5 231.1L423.3 230.3L424.0 230.0M424.9 229.7L424.8 228.9L425.2 228.2M427.7 229.7L428.5 229.6L428.7 230.4M432.9 229.6L432.3 230.1L431.7 230.6M434.1 230.2L434.9 230.2L435.7 230.2M439.8 229.2L439.9 230.0L440.7 230.2M452.3 229.3L452.1 230.0L451.3 229.9M454.3 228.6L453.6 229.1L453.5 229.9M459.7 229.7L460.3 229.2L460.6 228.5M464.2 230.0L465.0 230.1L465.8 230.2M464.8 230.6L465.5 230.2L466.1 229.7M471.3 229.1L470.7 229.5L470.5 230.3M472.1 228.4L472.0 229.2L472.7 228.8M479.6 229.8L480.4 230.0L481.1 230.4M490.6 230.7L490.8 229.9L490.5 229.2M423.8 231.8L423.7 231.0L423.3 230.3M433.5 230.6L433.6 231.4L433.2 232.1M435.9 232.2L435.3 231.7L434.5 231.5M438.8 231.0L438.5 231.7L437.7 231.8M444.1 231.0L444.3 231.7L444.9 232.3M460.1 231.2L460.9 231.5L461.6 231.3M468.6 233.0L468.7 232.2L469.3 231.8M473.8 231.3L474.2 232.0L474.5 232.7M490.9 231.7L490.7 230.9L490.7 230.1M491.6 231.6L492.2 232.1L492.3 232.9M413.6 233.1L412.8 232.8L412.3 233.4M425.0 232.7L424.3 233.1L423.6 233.5M427.4 234.1L427.1 233.3L427.6 232.7M438.1 234.1L438.5 233.4L439.2 233.0M459.0 234.4L459.3 233.7L460.0 233.3M462.6 233.8L461.9 233.6L461.1 233.3M464.5 234.3L465.0 233.6L465.0 232.8M472.8 232.6L472.1 233.1L472.3 233.9M483.1 233.1L482.6 233.7L482.5 234.5M484.6 233.6L485.3 233.9L485.9 233.4M489.4 234.0L490.0 233.5L490.3 232.8M415.1 236.6L414.9 235.8L414.5 235.1M416.3 235.4L415.7 235.8L414.9 235.8M424.8 234.6L424.1 235.0L423.3 235.1M427.0 235.2L427.5 235.9L428.2 236.2M435.8 235.6L436.2 234.9L436.5 234.2M443.3 235.6L444.1 235.9L444.4 236.6M451.1 236.5L451.0 235.7L451.5 235.1M454.9 235.0L455.7 235.1L456.5 235.1M478.5 236.1L478.1 235.4L477.3 235.3M483.7 235.5L483.1 234.9L483.9 234.5M484.2 236.0L484.9 235.7L485.6 235.3M487.2 234.3L487.8 234.8L488.3 234.2M489.6 235.6L490.1 235.0L490.1 234.2M492.1 234.2L491.8 234.9L491.1 235.2M496.0 235.0L495.3 234.8L494.5 234.6M411.3 236.8L411.8 237.4L411.3 238.0M419.7 236.9L419.5 237.7L419.1 238.4M422.4 236.8L421.8 237.2L421.0 237.5M427.8 238.0L427.4 237.4L427.3 236.6M434.5 238.6L434.3 237.8L434.1 237.1M443.7 235.8L444.4 236.3L444.7 237.0M458.6 236.4L459.4 236.3L459.5 237.1M460.8 236.6L460.2 237.2L459.5 237.1M463.6 236.5L462.9 236.8L462.1 237.0M464.9 237.9L465.7 237.7L466.5 237.7M467.0 237.2L467.7 237.7L468.5 237.7M473.1 236.9L473.9 237.0L474.6 237.3M480.0 237.9L479.6 237.2L479.1 236.6M482.4 237.9L482.7 237.1L483.5 236.9M488.0 238.0L488.2 237.2L488.9 236.8M490.9 236.9L490.2 236.6L489.4 236.3M495.1 237.4L494.3 237.4L493.6 237.1M413.3 239.6L412.5 239.5L411.8 239.9M418.7 239.0L418.2 238.4L418.7 237.7M424.3 238.4L425.1 238.2L425.7 237.7M431.1 239.1L430.4 238.6L429.7 238.4M435.0 238.5L434.3 238.8L433.7 239.3M438.8 240.1L439.0 239.4L439.3 238.6M459.7 239.9L459.0 239.7L458.2 239.7M467.3 239.8L466.8 239.1L467.1 238.4M476.2 239.7L475.7 239.2L475.6 238.4M488.6 240.0L488.7 239.2L489.3 238.7M414.4 241.0L413.8 240.5L414.3 239.8M428.1 241.3L428.9 241.2L429.7 241.4M433.3 239.8L433.0 240.6L433.6 241.1M437.4 240.3L436.6 240.3L436.0 240.8M444.1 241.6L444.2 240.8L444.9 240.4M453.2 241.8L452.8 241.1L453.4 240.6M467.7 240.8L468.5 240.5L468.7 241.3M471.8 242.0L471.4 241.3L471.5 240.5M475.8 242.1L475.6 241.3L475.8 240.6M477.4 240.1L476.8 240.5L476.4 241.2M479.8 240.8L479.4 240.1L478.8 239.6M499.2 240.0L498.5 240.3L497.9 240.8M417.9 243.5L417.6 242.7L416.9 242.3M419.5 244.0L419.2 243.3L418.5 243.0M426.8 241.9L426.8 242.7L426.5 243.4M445.9 243.5L445.8 242.7L446.4 242.1M455.6 243.4L455.5 242.6L455.6 241.8M462.4 242.2L463.2 242.0L463.5 241.2M465.6 243.5L466.2 242.9L466.0 242.2M476.2 241.7L476.2 242.5L476.7 243.1M479.7 243.5L479.0 243.1L478.2 242.8M481.2 242.5L480.5 242.2L480.1 241.5M415.3 243.8L416.1 243.9L416.8 243.5M429.9 244.7L430.7 244.4L430.8 243.6M433.7 244.8L433.7 244.0L433.0 243.7M435.8 245.8L436.3 245.2L436.6 244.5M455.5 243.0L455.1 243.7L454.4 243.9M462.6 245.1L461.8 245.1L461.4 244.4M464.8 246.0L464.6 245.2L464.3 244.5M468.8 244.5L468.4 245.2L468.8 245.9M470.0 245.1L470.7 244.7L471.0 243.9M473.4 244.5L474.0 244.9L474.2 245.7M479.1 243.7L479.8 244.0L480.6 244.0M484.4 243.8L484.9 244.4L485.4 245.1M487.7 245.2L486.9 245.2L486.3 245.7M492.6 243.1L492.3 243.9L491.5 243.7M496.1 244.1L496.9 244.1L497.6 244.4M500.1 244.2L499.4 244.5L498.8 245.0M410.6 247.6L410.1 246.9L409.4 246.7M420.6 246.7L420.2 246.1L420.6 245.4M422.3 244.9L422.1 245.7L421.9 246.5M424.8 246.1L425.5 245.6L426.2 245.4M439.3 246.2L438.7 245.6L437.9 245.7M444.1 247.7L444.6 247.0L444.5 246.3M453.3 247.6L453.1 246.8L452.9 246.0M455.4 246.9L455.1 246.2L455.2 245.4M460.2 246.6L460.5 245.9L460.5 245.1M470.9 246.2L471.7 246.4L472.0 247.1M482.4 247.0L483.1 246.5L483.1 245.7M483.9 246.4L484.3 247.1L485.0 246.9M492.6 246.5L493.3 246.9L494.1 246.7M411.4 247.2L410.7 247.6L410.0 247.4M414.5 249.1L413.9 248.5L413.3 248.0M421.8 248.6L421.6 247.9L420.9 248.2M446.2 248.2L447.0 248.1L447.8 248.3M453.7 248.0L453.1 247.5L453.1 246.7M457.9 248.3L458.3 247.7L458.4 246.9M461.2 246.7L461.4 247.5L461.9 248.2M470.1 247.7L469.4 248.0L468.7 247.6M471.0 248.9L471.8 248.9L472.6 248.9M477.6 248.0L477.0 247.5L476.9 246.7M498.2 249.3L497.5 248.9L496.8 248.5M498.5 247.6L499.3 247.5L500.1 247.7M418.7 250.5L419.4 250.1L420.1 249.8M423.5 249.5L423.0 250.2L422.7 250.9M450.6 249.7L450.4 250.5L450.7 251.3M451.3 250.0L451.8 250.6L452.5 250.4M462.9 250.1L462.2 249.6L461.5 250.0M472.0 250.2L471.3 249.8L470.5 250.2M481.4 249.1L481.1 249.8L480.5 250.3M482.2 250.4L482.9 250.2L483.7 249.9M415.2 252.3L416.0 252.2L416.6 251.7M423.0 252.0L423.5 252.6L423.8 253.4M444.6 252.3L445.1 251.6L445.0 250.8M448.4 252.2L449.1 252.6L449.5 251.9M451.1 253.4L451.4 252.6L451.8 252.0M470.3 251.3L469.8 251.9L469.1 252.2M473.9 251.0L473.4 251.7L473.1 252.4M478.4 251.9L477.8 252.4L477.2 252.9M481.5 251.7L482.3 251.4L483.0 251.6M486.6 253.1L486.3 252.3L486.6 251.6M410.9 252.9L411.5 253.5L412.3 253.5M413.3 253.6L413.3 254.4L413.5 255.2M424.4 252.1L424.3 252.9L424.3 253.7M428.1 253.4L427.9 254.2L427.5 254.9M430.6 252.5L430.9 253.3L431.4 253.9M436.3 253.8L435.6 254.1L435.0 254.7M436.1 254.9L436.0 254.1L435.6 253.4M444.9 253.8L445.2 253.1L445.7 253.7M448.4 254.7L447.7 254.3L447.0 253.9M462.5 253.7L462.5 252.9L462.2 252.2M487.8 253.7L488.2 254.3L488.3 255.1M488.8 252.7L489.5 253.1L490.1 253.6M424.2 254.6L423.4 254.8L423.2 255.6M429.7 255.4L428.9 255.5L428.1 255.3M442.1 255.8L442.8 256.3L443.6 256.2M448.2 255.8L447.4 256.1L447.7 255.3M449.6 255.8L449.2 255.2L448.4 255.3M451.7 255.4L450.9 255.6L450.2 255.1M455.4 255.1L454.6 255.2L454.3 254.5M458.5 256.9L458.4 256.2L458.6 255.4M460.3 256.2L461.1 256.3L461.9 256.5M464.6 255.6L464.9 254.9L465.2 254.2M466.4 255.2L465.6 254.9L464.9 254.7M469.9 255.2L470.7 255.1L471.5 255.3M472.5 255.1L472.0 255.7L471.3 255.4M474.7 255.6L474.4 254.9L473.7 254.5M474.9 256.1L474.9 255.3L474.6 254.5M476.1 255.4L476.8 255.1L477.4 254.5M479.5 256.2L478.8 255.8L478.0 255.4M480.1 256.5L480.7 255.9L480.7 255.1M482.3 254.8L483.0 255.1L483.4 255.8M485.2 255.7L485.9 256.1L486.6 256.4M500.0 255.5L499.4 255.1L498.9 255.8M413.8 257.6L414.6 257.6L415.1 258.3M417.0 257.2L416.5 256.7L416.0 256.0M418.0 256.1L418.2 256.9L417.4 257.1M437.2 256.1L436.6 256.7L436.2 257.4M438.6 257.2L438.5 258.0L438.6 258.8M451.5 257.2L451.1 257.9L450.5 258.4M481.5 258.5L480.7 258.2L480.4 257.5M410.7 258.8L410.7 259.6L410.7 260.4M414.0 259.9L414.8 259.8L415.6 260.0M418.6 260.0L417.8 260.0L418.0 259.2M428.9 257.9L428.5 258.6L427.7 258.7M436.1 260.0L436.4 259.3L437.2 259.5M439.7 259.2L439.6 260.0L440.1 260.6M444.2 259.8L444.8 259.3L445.6 259.0M445.9 259.4L446.7 259.5L447.4 259.2M461.0 258.6L461.8 258.5L462.1 259.2M466.0 260.0L466.7 259.5L466.7 258.7M467.5 259.6L468.2 259.2L468.5 258.4M489.2 260.3L488.5 259.8L487.9 259.3M496.9 258.8L496.3 259.3L495.5 258.9M502.8 257.7L502.8 258.5L502.2 259.0M407.5 261.5L408.3 261.5L408.5 262.3M414.7 260.0L414.6 260.8L415.4 261.0M421.4 260.9L422.2 260.8L422.1 260.0M424.7 260.7L425.5 260.6L425.7 259.8M427.0 260.5L427.8 260.7L428.4 260.2M459.7 261.7L459.3 261.0L460.1 260.7M461.7 262.2L462.2 261.5L462.6 260.8M465.5 261.2L465.9 261.9L465.3 262.4M467.5 261.1L467.6 261.9L468.3 261.5M469.5 260.1L469.6 260.9L470.3 261.2M475.7 261.1L475.1 260.6L474.4 260.7M488.5 260.1L487.8 260.4L487.0 260.3M422.2 262.8L421.4 262.8L420.8 263.2M427.8 262.6L427.8 263.4L427.6 264.2M432.0 263.9L432.3 263.1L432.7 262.5M438.6 262.7L438.8 263.4L438.8 264.2M440.9 264.0L440.5 263.3L440.3 262.5M450.7 262.2L450.2 262.9L449.4 263.0M462.4 261.6L463.0 262.2L462.6 262.8M464.7 263.7L464.1 263.3L463.8 262.5M470.2 262.2L470.7 262.8L470.6 263.6M473.8 263.5L473.8 262.7L473.5 261.9M475.8 262.7L475.0 262.5L474.6 263.1M476.8 261.8L477.5 262.3L478.3 262.2M478.9 262.1L479.6 262.3L479.9 261.6M485.5 262.2L486.2 262.5L486.5 263.3M491.4 262.5L491.0 263.1L490.2 263.2M412.0 264.9L412.8 265.1L413.2 265.8M419.2 265.5L418.4 265.5L418.1 264.7M423.4 265.3L424.2 265.3L424.0 264.5M425.1 264.6L425.4 265.3L425.8 266.0M428.1 265.2L427.3 265.5L427.1 266.3M428.9 264.1L429.6 264.6L429.8 265.3M437.3 265.1L438.0 264.7L438.8 264.9M447.5 265.7L447.1 265.0L446.7 264.3M450.8 265.1L451.2 264.4L451.2 263.6M460.9 266.2L461.1 265.4L461.3 264.6M467.6 264.1L468.4 264.2L468.5 265.0M473.6 263.9L472.9 264.1L473.1 263.3M478.2 266.0L477.6 265.5L478.2 264.9M489.6 265.6L490.3 265.2L491.1 265.4M499.0 265.0L499.6 264.5L500.4 264.4M409.8 267.0L409.1 266.6L408.4 266.9M411.9 266.8L412.6 267.2L413.0 267.9M416.9 266.8L416.1 267.0L415.3 267.1M420.1 265.7L419.4 266.1L419.6 266.9M434.0 267.1L434.3 266.4L433.8 265.8M435.3 266.1L436.1 265.9L436.8 265.4M438.0 267.0L438.8 266.9L439.0 267.7M443.2 267.7L443.8 267.1L444.1 266.4M445.0 266.7L445.7 266.4L446.0 265.7M458.0 267.5L458.5 266.9L459.2 266.5M461.0 265.4L460.3 265.9L460.4 266.7M474.2 266.3L474.4 267.1L474.7 267.8M477.6 265.5L478.1 266.2L478.3 266.9M487.9 266.5L488.2 267.2L488.7 267.8M495.0 265.6L494.3 266.0L493.6 265.5M496.1 266.8L495.3 266.5L494.9 265.8M414.5 269.2L414.3 268.4L413.8 269.0M420.4 268.9L420.4 268.1L419.9 267.5M422.6 270.0L422.6 269.2L423.4 269.1M426.7 268.9L427.5 268.6L428.2 269.0M429.0 268.1L429.8 268.1L430.1 267.4M431.0 267.3L430.7 268.0L430.6 268.8M433.5 267.8L433.5 268.6L433.6 269.4M446.0 268.8L446.6 269.3L446.3 270.0M452.4 268.7L452.2 268.0L451.7 267.3M459.2 269.5L458.6 268.9L457.9 268.6M462.5 267.0L462.8 267.7L463.1 268.5M472.6 269.6L472.0 269.0L471.3 269.3M480.8 269.0L480.3 268.4L480.2 267.6M484.4 267.2L484.8 267.9L484.0 268.0M491.0 268.7L490.3 269.0L489.5 269.3M493.7 269.3L494.1 268.6L494.8 268.2M412.4 270.8L413.2 271.1L413.7 271.7M413.8 270.7L414.6 270.7L414.8 269.9M417.0 270.7L417.5 270.1L418.0 269.4M430.4 269.5L429.7 270.0L429.7 270.8M436.4 268.8L436.1 269.6L435.5 270.1M439.2 271.1L439.8 270.5L439.7 269.7M444.1 270.7L444.5 270.0L443.7 269.7M446.1 271.0L445.5 270.5L444.8 270.2M446.9 270.6L447.6 270.2L448.2 269.6M452.1 271.0L452.0 270.2L452.5 269.6M457.4 269.8L458.1 270.1L458.8 270.5M461.0 269.3L460.5 269.8L459.7 269.8M470.3 269.6L470.0 270.3L469.7 271.0M475.0 270.5L475.8 270.3L476.5 270.5M477.4 270.0L478.1 269.6L477.9 268.8M478.1 270.8L478.9 270.5L478.2 270.8M482.7 270.5L483.5 270.3L484.2 270.6M487.9 270.6L487.2 270.1L486.6 269.6M488.2 270.6L488.6 270.0L487.9 269.6M491.5 269.6L492.0 270.2L491.6 270.9M493.2 271.3L493.5 270.6L494.1 270.1M411.3 272.0L410.6 271.6L409.8 271.8M414.9 271.8L414.2 272.2L413.6 271.8M421.5 273.2L421.7 272.4L421.6 271.6M426.5 271.5L425.8 271.9L425.1 272.4M429.7 272.7L429.6 271.9L429.4 272.7M432.9 271.9L432.6 272.6L432.2 273.3M438.4 271.7L439.1 271.5L439.5 272.3M444.5 272.2L444.7 271.5L444.3 270.8M447.3 272.3L447.2 271.6L447.7 270.9M452.6 270.8L452.8 271.6L452.4 272.3M458.3 270.7L458.5 271.5L459.2 272.0M474.4 271.5L475.2 271.7L475.9 272.1M486.4 271.4L486.6 272.2L487.4 272.4M492.4 272.8L492.2 272.0L491.5 271.5M495.8 272.0L496.6 271.8L496.8 272.5M420.0 275.2L420.3 274.5L419.7 274.0M424.4 273.9L423.6 273.7L423.1 273.1M429.0 275.1L429.7 274.8L430.1 274.1M441.1 273.3L441.6 273.9L441.7 274.7M452.1 272.7L452.0 273.5L452.1 274.3M462.2 275.0L461.4 274.8L460.6 274.9M472.3 273.2L472.0 273.9L471.6 274.6M484.7 273.5L484.0 274.0L483.4 273.4M486.0 273.5L486.8 273.8L487.5 274.1M416.6 274.9L416.0 275.4L415.5 276.0M440.2 276.8L439.7 276.2L439.0 275.9M457.6 275.5L456.8 275.2L456.2 274.8M462.1 276.0L462.1 275.2L461.3 275.1M468.6 276.1L469.4 276.4L469.9 277.0M471.0 275.4L471.2 276.2L471.2 277.0M472.3 275.1L473.1 275.2L473.8 275.6M482.9 275.9L482.7 275.1L483.3 274.6M485.1 276.4L485.8 276.6L486.6 276.7M491.2 274.5L491.4 275.3L491.9 275.9M414.6 276.8L414.0 277.3L413.5 277.9M417.3 278.9L417.0 278.2L416.3 278.6M417.0 277.3L417.7 277.7L418.3 278.2M435.2 277.9L434.7 278.5L433.9 278.4M440.6 279.1L441.0 278.4L441.4 277.7M469.4 277.9L470.1 277.6L470.7 278.1M477.3 276.6L477.1 277.3L477.1 278.1M487.4 277.5L486.6 277.7L485.8 277.7M490.8 277.2L490.1 277.5L489.5 278.0M421.4 278.4L422.0 279.0L422.8 279.0M423.6 280.7L424.2 280.2L424.7 279.6M425.3 279.0L425.2 279.8L424.4 280.1M426.9 280.3L427.3 279.7L427.6 278.9M429.9 280.0L430.7 280.0L431.5 279.6M438.6 279.3L439.0 280.0L438.8 280.8M440.3 278.5L439.6 278.9L438.8 278.8M451.3 279.7L450.8 280.3L450.0 280.4M459.3 279.3L460.1 279.2L459.3 279.5M464.8 280.5L464.5 279.7L464.9 279.0M480.4 280.6L479.9 279.9L480.0 280.7M419.1 281.3L419.3 282.1L418.8 282.7M423.0 281.9L422.2 281.7L421.5 282.0M429.3 281.9L428.8 281.3L428.1 280.9M451.4 281.9L452.1 282.1L452.8 282.6M455.6 280.5L455.0 281.0L455.0 281.8M456.3 280.1L456.8 280.8L456.8 281.6M464.0 280.2L464.0 281.0L463.3 281.4M467.6 281.3L467.3 282.1L467.0 282.8M474.4 281.4L474.1 280.7L474.1 279.9M482.5 281.7L483.2 282.1L483.9 281.7M491.3 282.5L490.8 281.9L490.5 281.2M414.7 284.1L414.0 283.7L413.3 283.3M415.6 281.9L415.7 282.7L415.6 283.5M431.2 284.1L431.0 283.3L431.3 282.6M457.9 284.2L457.1 284.0L456.5 284.5M460.6 283.7L461.3 283.4L462.1 283.3M468.6 282.7L468.7 283.5L469.1 284.2M472.6 282.9L471.8 283.0L471.0 283.2M485.6 284.2L485.2 283.5L484.7 282.9M418.2 285.7L417.8 285.0L417.5 284.3M457.7 285.4L458.4 285.0L459.2 285.2M479.6 286.7L479.7 285.9L479.4 285.1M480.8 285.4L481.1 284.7L481.0 283.9M483.4 285.7L482.6 285.8L481.8 285.9M488.6 285.2L487.9 284.8L487.1 285.0M436.5 286.6L436.3 287.4L436.5 288.1M447.5 287.7L447.7 287.0L447.6 286.2M455.3 287.7L455.3 286.9L454.9 286.3M473.7 288.0L473.7 287.2L472.9 287.3M486.6 287.3L487.1 286.6L487.5 285.9M422.2 288.2L422.0 289.0L421.5 289.6M440.2 289.9L440.5 289.2L439.9 288.7M458.6 288.9L458.9 288.2L459.1 287.4M462.9 289.5L462.2 289.1L461.4 289.1M472.0 288.3L472.2 289.1L472.5 289.8M473.6 289.8L472.9 289.4L472.9 288.6M479.2 289.1L478.4 289.3L478.1 290.0M480.3 288.5L481.0 289.0L481.3 289.7M483.7 288.9L482.9 288.8L482.1 289.0M432.1 291.0L431.5 290.5L431.2 289.7M438.4 291.1L438.3 290.3L438.2 289.5M441.1 291.1L441.9 291.0L442.5 290.4M452.6 290.6L453.0 291.3L453.2 292.0M458.3 292.0L458.1 291.2L458.6 290.6M470.3 290.3L471.1 290.3L471.5 289.5M426.3 293.3L425.5 293.3L425.0 292.7M426.7 293.3L427.5 293.2L428.3 293.0M440.4 291.6L439.7 292.1L440.1 292.8M452.8 292.2L452.0 292.4L451.4 292.8M454.2 292.4L454.9 292.9L455.0 293.7M457.4 292.9L457.6 292.2L457.1 291.5M467.2 291.9L468.0 292.1L468.3 291.3M473.5 293.2L474.3 293.1L475.0 293.5M476.6 293.0L476.6 292.2L476.2 291.6M428.8 295.4L428.7 294.6L429.5 294.2M431.4 295.2L430.7 295.0L430.3 295.7M432.8 293.1L433.3 293.8L433.9 294.3M434.5 293.9L435.0 294.5L434.6 295.2M438.8 294.8L438.0 294.6L437.4 295.1M444.5 293.5L444.2 294.2L444.8 294.7M445.2 295.6L445.6 295.0L445.9 294.2M447.0 295.1L447.6 294.6L447.1 293.9M449.1 294.5L449.9 294.3L450.2 295.1M460.2 294.6L459.6 295.1L459.3 295.8M460.0 294.2L460.8 294.2L461.4 294.9M467.6 294.5L468.2 295.0L469.0 295.1M470.0 294.6L469.9 293.8L469.2 293.3M433.0 295.5L433.7 295.9L434.1 296.6M435.3 295.3L435.9 295.9L435.6 296.6M447.6 295.6L447.1 296.2L446.4 296.5M451.3 295.8L452.1 295.7L452.9 295.5M456.6 296.2L455.8 295.9L455.0 296.0M462.2 296.2L461.5 296.4L460.7 296.5M435.9 297.9L436.5 298.4L436.7 299.2M440.4 298.0L441.1 298.5L441.6 299.1M445.0 299.3L444.4 298.8L443.8 298.3M444.4 297.6L445.2 297.8L445.9 298.0M470.2 296.9L469.7 297.5L468.9 297.6M473.4 298.3L474.0 297.7L473.4 297.2M445.4 299.2L444.8 299.8L444.0 299.6M447.5 299.3L448.3 299.2L448.7 298.5M448.6 300.6L449.3 300.3L449.9 299.8M468.7 298.9L469.2 299.6L469.5 300.3M444.2 300.9L444.6 301.6L444.5 302.4M455.3 301.9L455.0 301.2L455.5 300.6M458.3 302.3L458.2 301.5L457.4 301.2" fill="none" stroke="#30a262" stroke-width="0.95" stroke-linecap="round" stroke-linejoin="round"/>
<path d="M449.4 210.1L449.4 209.3L448.6 209.2M451.7 210.2L451.4 209.4L451.3 208.7M442.3 211.7L441.8 211.0L441.3 210.4M448.7 211.3L449.2 210.7L449.3 209.9M454.3 211.1L455.1 211.2L455.2 210.4M433.4 213.5L433.4 212.7L433.8 212.0M436.4 212.2L437.2 212.3L438.0 212.3M443.2 214.0L443.3 213.2L443.0 212.5M447.5 214.5L447.6 213.7L448.0 213.0M450.1 212.8L449.4 212.5L449.9 211.9M458.7 212.8L459.5 212.7L459.8 213.4M428.4 214.2L429.1 214.6L429.9 214.6M434.8 215.1L435.5 214.8L434.9 214.4M437.6 215.7L437.0 215.2L436.9 216.0M438.6 214.9L438.2 215.6L438.2 216.4M442.9 214.6L443.5 215.1L442.9 215.5M448.2 215.2L447.4 215.2L446.6 215.2M450.2 214.3L449.4 214.2L448.8 213.7M457.8 214.3L457.5 215.0L457.1 215.7M424.8 217.4L424.1 217.0L423.5 217.6M429.6 217.5L429.0 217.0L428.2 217.0M431.3 217.5L430.6 217.0L429.8 216.9M435.0 216.8L435.5 216.2L436.3 216.4M445.5 216.6L446.2 216.3L446.9 215.8M451.1 217.2L450.4 217.0L450.2 217.8M460.3 216.8L460.8 217.5L461.6 217.3M461.6 216.6L462.1 216.0L462.3 215.2M465.0 216.2L465.8 216.3L465.6 215.5M472.5 217.0L473.0 216.4L473.6 215.8M436.8 218.7L437.4 219.3L437.9 219.9M438.0 217.9L438.7 218.2L439.5 218.3M466.3 218.3L466.0 219.1L465.8 219.9M467.4 217.5L467.5 218.3L467.7 219.1M471.1 220.0L471.1 219.2L471.5 218.6M477.1 217.5L477.4 218.2L478.0 218.8M421.8 220.0L422.3 220.6L423.1 220.8M426.5 220.9L427.2 220.5L427.9 220.6M434.8 219.0L434.9 219.8L435.1 220.6M441.3 220.8L440.9 220.1L440.4 219.5M446.2 220.6L445.4 220.8L444.7 221.2M455.6 220.4L454.8 220.3L454.3 221.0M457.9 221.5L457.1 221.2L456.5 221.7M462.4 221.3L462.8 220.6L462.1 220.2M465.6 220.0L466.3 220.2L466.9 219.6M466.7 219.7L467.5 219.6L467.9 218.9M477.4 221.8L477.3 221.0L477.0 220.2M479.7 221.1L480.4 220.6L480.9 220.0M418.6 221.9L419.4 221.9L420.2 222.0M428.5 222.9L427.7 222.6L427.4 221.9M435.5 222.6L435.2 221.9L435.7 221.3M436.5 223.8L436.3 223.0L437.0 222.7M440.1 221.6L440.4 222.3L439.6 222.4M450.0 220.8L450.3 221.5L450.0 222.3M457.3 221.2L457.8 221.9L457.4 222.6M457.8 222.0L458.2 222.7L457.6 223.3M469.3 222.5L469.3 221.7L469.9 221.1M479.7 222.3L479.3 221.5L479.8 220.9M417.8 224.9L418.4 224.5L419.0 225.0M423.5 222.7L423.8 223.4L424.1 224.1M428.4 225.3L427.9 224.7L427.9 223.9M449.2 223.7L449.6 224.4L450.0 225.1M473.3 223.3L473.2 224.1L472.9 224.8M475.5 224.1L474.8 224.3L475.2 224.9M479.1 225.2L478.8 224.5L479.0 223.7M429.2 226.3L428.7 225.7L428.3 225.0M441.0 225.7L440.7 226.5L441.1 227.2M473.0 227.2L473.1 226.4L472.4 225.9M484.4 226.0L483.6 225.9L483.5 226.7M483.5 225.7L484.2 226.1L484.4 226.9M413.0 226.9L413.3 227.6L414.1 227.5M416.7 228.3L416.3 227.7L416.3 226.9M423.5 228.9L423.8 228.1L424.5 228.4M435.6 229.0L435.1 228.4L435.7 228.0M437.9 227.3L438.6 227.6L439.3 228.0M444.4 226.4L444.7 227.2L445.1 227.9M445.6 227.7L446.2 228.2L446.9 227.8M450.1 228.5L449.4 228.1L449.2 227.3M458.7 226.5L458.4 227.3L458.2 228.0M462.9 228.4L462.1 228.4L461.5 227.8M472.3 226.5L472.2 227.3L471.5 227.5M475.7 227.0L475.3 227.7L475.9 228.2M482.5 227.8L482.9 227.1L483.5 226.6M428.8 229.5L428.1 229.9L427.5 230.4M431.0 230.8L430.6 230.1L429.9 229.7M445.3 230.7L444.6 230.2L443.8 230.1M453.9 230.6L454.6 230.4L455.3 229.9M458.3 229.8L458.8 230.4L458.2 231.0M479.2 229.1L479.4 229.8L480.2 230.0M482.5 229.8L483.3 229.9L484.0 230.1M425.2 232.2L425.2 231.4L425.3 230.6M442.7 230.2L442.4 230.9L441.7 230.8M448.2 232.8L448.5 232.0L448.9 231.4M454.2 230.6L453.6 231.0L452.8 231.2M456.1 232.2L455.9 231.4L456.5 230.9M458.9 232.7L458.4 232.0L457.6 232.2M470.6 231.8L469.8 232.0L469.2 232.4M478.7 232.6L478.7 231.8L478.8 231.0M413.2 232.4L414.0 232.6L414.6 233.0M420.0 232.4L419.2 232.7L418.4 232.7M425.7 234.5L425.7 233.7L426.3 233.1M428.9 234.3L429.7 233.9L430.1 233.2M436.1 234.4L436.0 233.6L436.0 232.8M442.6 234.8L442.4 234.0L441.8 233.4M442.7 232.8L443.5 232.6L443.9 233.3M447.2 233.5L446.4 233.7L445.6 233.7M447.9 232.2L447.8 233.0L448.2 233.7M452.0 233.4L451.4 232.9L452.0 232.4M482.3 233.5L481.6 233.7L480.9 233.3M488.9 234.7L489.0 233.9L489.6 233.3M422.2 234.9L421.5 235.4L422.2 235.9M426.1 234.5L425.5 235.1L425.1 235.8M430.2 234.4L431.0 234.5L431.8 234.6M439.1 235.6L439.8 235.9L440.6 236.2M445.7 236.2L445.8 235.4L446.5 235.0M446.8 234.2L447.3 234.7L446.8 235.4M450.4 233.9L450.2 234.7L449.7 235.3M453.5 234.8L453.7 235.5L452.9 235.7M462.0 234.2L461.5 234.8L461.0 235.4M423.0 237.2L423.6 237.7L424.3 237.3M429.0 237.0L429.3 237.7L428.5 237.9M437.1 238.1L437.4 237.4L437.8 236.6M437.2 237.7L438.0 237.6L438.5 237.1M446.7 236.4L446.1 236.9L445.3 237.0M446.5 237.6L447.1 237.0L447.6 237.6M449.0 238.1L449.1 237.3L449.6 236.6M450.2 237.1L451.0 237.1L451.0 236.3M457.3 237.0L456.8 237.6L456.8 238.4M481.6 237.7L480.8 237.8L480.2 237.3M485.2 236.8L484.5 237.0L484.1 237.7M414.7 239.1L415.2 239.7L416.0 240.1M417.0 238.2L416.4 238.7L416.0 239.4M425.0 237.6L424.4 238.1L423.6 238.4M430.8 238.7L430.0 238.5L429.5 237.9M445.6 239.7L445.8 239.0L446.5 238.6M461.3 239.3L461.2 238.5L460.4 238.6M481.5 237.9L481.1 238.6L480.4 238.9M482.5 238.7L483.3 238.4L484.1 238.3M487.3 238.0L487.4 238.8L486.7 239.3M490.8 238.6L490.2 239.1L489.5 239.4M494.7 239.0L495.1 238.3L494.3 238.2M412.8 242.0L413.4 241.5L414.2 241.5M417.3 240.4L416.5 240.3L415.8 240.6M418.9 240.5L419.6 240.9L420.3 241.2M426.4 241.4L427.0 240.9L427.6 241.5M435.6 240.4L435.6 241.2L434.8 241.1M439.9 240.3L439.1 240.2L438.6 240.8M440.8 240.2L441.6 240.4L442.3 240.7M446.5 240.4L446.1 241.1L446.8 241.4M463.5 241.6L462.9 241.1L462.1 241.0M480.9 241.8L481.6 241.5L482.4 241.8M486.8 240.5L486.4 241.2L485.7 241.6M488.9 242.1L488.8 241.3L488.6 240.5M490.3 241.1L490.1 240.3L490.6 239.7M492.2 239.2L492.2 240.0L492.3 240.8M499.8 241.1L499.2 240.5L498.4 240.3M423.1 243.3L422.5 242.8L422.0 243.5M425.0 242.5L425.8 242.4L426.2 243.1M429.2 242.2L428.5 242.7L427.8 243.1M429.9 242.0L430.7 241.9L431.4 242.3M435.0 242.2L434.2 242.2L434.4 241.4M436.3 242.6L437.0 242.5L437.7 243.0M442.4 241.9L442.3 242.6L443.1 242.8M459.0 243.3L458.2 243.0L457.6 242.5M465.1 242.0L464.3 242.2L463.5 242.3M473.7 242.2L473.0 241.8L472.3 242.2M481.6 243.5L482.3 243.1L483.1 243.0M493.4 243.1L493.7 242.4L493.8 241.6M499.5 243.3L499.0 242.7L498.4 242.1M411.9 244.9L412.4 244.3L412.7 243.6M420.4 245.9L420.5 245.1L420.8 244.3M428.2 243.4L427.7 244.0L427.9 244.8M442.1 245.0L441.8 244.3L441.3 243.7M444.5 244.4L444.2 245.1L444.7 245.7M444.4 244.4L445.2 244.5L445.8 245.0M490.2 244.6L490.8 244.0L491.5 243.6M496.2 246.0L496.4 245.2L497.2 245.2M431.0 245.1L430.8 245.9L430.9 246.7M433.2 245.6L433.4 246.4L433.2 247.1M450.2 247.2L449.8 246.5L449.0 246.4M459.3 245.9L458.7 246.4L458.0 246.0M469.9 246.4L469.2 246.0L468.6 245.4M474.2 246.5L474.0 245.8L474.2 245.0M476.1 245.6L476.9 245.6L477.1 246.4M486.1 245.6L486.7 246.1L487.4 246.5M488.2 245.6L487.7 246.2L487.0 246.6M418.9 247.0L418.9 247.8L419.2 248.5M423.9 249.2L424.1 248.4L424.7 248.0M426.2 248.5L427.0 248.3L427.7 248.7M429.4 247.5L429.0 248.2L428.3 248.4M439.3 248.3L438.5 248.1L438.4 247.3M446.4 247.8L445.6 248.0L445.4 248.8M452.4 247.3L451.6 247.5L451.2 246.8M455.1 247.6L454.8 248.4L455.1 249.1M463.4 247.0L462.7 247.4L462.7 248.2M464.7 247.0L464.0 247.4L463.2 247.4M467.1 248.1L467.5 248.8L466.8 249.1M489.5 249.5L488.9 248.9L488.4 248.3M494.4 247.6L495.2 247.7L495.9 247.4M412.3 248.8L412.0 249.5L411.6 250.2M422.2 250.7L422.0 249.9L422.8 250.1M427.3 249.5L428.1 249.5L428.8 249.9M435.5 249.3L434.9 249.9L434.4 250.5M435.9 250.4L436.5 250.0L436.8 249.2M439.8 249.5L439.1 249.9L438.4 250.3M444.3 250.2L443.5 250.2L443.1 250.9M453.9 249.8L454.7 250.0L455.5 250.0M459.7 249.3L459.1 249.8L458.5 250.3M461.8 250.2L461.0 250.4L460.3 250.1M463.0 249.5L463.7 249.8L464.5 249.8M465.3 248.9L465.8 249.5L466.6 249.6M474.4 251.0L473.8 250.5L473.1 250.9M478.0 249.9L478.6 249.5L479.4 249.5M485.3 250.8L484.9 250.2L484.2 249.8M491.7 251.2L492.1 250.5L492.9 250.5M495.4 249.5L496.1 249.8L496.7 250.4M500.6 250.1L499.8 249.9L499.2 250.4M416.0 252.4L415.2 252.3L414.5 252.1M417.6 251.7L417.9 252.5L418.7 252.5M432.2 251.7L431.6 251.2L431.1 250.5M435.1 251.5L434.4 251.4L433.6 251.7M440.1 252.6L440.3 251.8L441.1 251.5M444.1 252.0L444.6 251.4L444.5 250.6M452.3 252.5L453.1 252.6L453.3 253.4M455.5 250.8L454.8 251.1L454.0 251.4M459.8 250.7L459.5 251.5L458.7 251.6M461.9 252.1L462.6 251.9L463.1 251.3M466.5 252.1L466.2 251.4L465.6 250.9M468.5 251.5L468.9 252.2L469.6 251.8M417.0 253.4L417.1 254.2L417.4 255.0M422.3 252.9L421.6 253.3L420.9 253.8M443.2 253.5L442.6 254.0L442.7 253.2M451.7 254.4L451.6 253.6L451.1 253.0M453.9 255.1L453.5 254.4L453.9 253.7M456.4 253.0L455.9 253.6L455.3 254.2M457.1 253.2L457.7 253.8L457.7 254.6M473.3 254.4L473.9 253.9L474.5 253.4M475.2 254.8L474.8 254.1L474.5 253.4M477.5 253.6L476.7 253.8L477.1 253.1M492.3 253.2L491.5 253.5L492.1 254.0M496.1 253.0L496.3 253.8L497.1 253.7M413.2 256.3L413.4 255.5L413.7 254.8M415.1 255.1L414.3 255.0L414.7 255.7M418.9 256.0L418.1 256.0L417.4 255.7M425.5 255.6L426.2 255.2L426.3 254.5M431.6 254.8L431.9 255.6L431.9 256.4M439.4 254.6L439.6 255.4L439.8 256.2M445.5 255.5L445.3 254.8L444.6 254.5M492.3 256.4L492.2 255.6L492.1 254.8M493.5 255.7L493.7 255.0L493.2 254.4M494.9 254.3L495.4 254.9L494.8 255.3M433.9 257.7L434.5 257.2L434.6 256.4M441.1 256.7L441.5 257.4L442.2 257.7M448.8 257.2L449.3 257.9L449.9 258.3M453.9 257.6L453.2 257.2L452.4 257.2M460.1 256.8L459.3 256.7L458.8 257.3M461.0 257.9L460.3 257.4L459.6 257.7M462.8 258.0L462.2 257.5L461.4 257.4M465.1 257.5L465.6 258.1L466.3 258.3M468.8 257.5L468.1 258.0L467.3 258.0M483.8 256.8L483.0 256.9L482.3 256.7M484.8 256.9L485.3 257.5L486.1 257.4M493.3 257.9L492.7 257.4L492.1 257.9M496.9 257.5L496.2 257.8L495.4 258.0M498.7 256.8L498.0 257.2L497.2 256.9M502.8 256.6L503.4 257.2L503.3 258.0M416.2 259.1L415.6 259.7L415.2 260.4M423.4 259.9L422.6 259.8L422.8 259.0M427.3 260.6L427.5 259.9L428.2 259.4M439.1 259.5L438.4 259.3L437.6 259.2M458.4 259.8L457.7 260.0L457.0 260.4M464.3 259.8L463.7 259.4L463.7 258.6M469.8 258.6L470.4 259.2L470.3 260.0M485.9 259.2L485.4 258.6L484.6 258.7M499.4 260.5L499.0 259.8L498.3 259.5M412.0 259.7L412.1 260.5L412.6 261.1M420.5 261.6L419.7 261.5L418.9 261.6M425.2 260.1L424.5 260.5L423.7 260.8M436.2 261.9L435.9 261.2L435.2 261.5M450.2 260.8L449.4 261.0L448.8 261.6M453.6 260.5L453.4 261.3L452.9 262.0M457.9 261.4L457.3 260.8L456.8 260.2M465.4 260.8L464.6 260.9L464.9 261.7M473.7 259.8L473.4 260.5L473.4 261.3M477.5 261.1L478.0 260.5L478.7 261.0M490.7 260.2L490.4 261.0L489.8 260.5M502.3 261.5L502.6 260.7L502.5 259.9M407.2 261.9L407.1 262.7L406.4 263.1M410.0 263.4L410.7 263.1L411.0 262.4M415.8 262.7L415.1 262.4L414.4 262.7M418.5 262.7L417.7 262.7L417.3 262.0M419.3 262.7L419.2 263.5L418.8 264.2M436.9 264.1L436.7 263.4L436.5 262.6M441.2 261.6L441.7 262.2L442.3 262.8M447.1 263.1L446.3 262.9L445.7 263.4M454.2 263.2L453.5 262.7L452.8 262.8M456.8 262.0L457.5 262.4L457.3 263.1M458.8 262.6L459.2 263.3L458.5 263.7M461.1 264.5L461.4 263.7L460.6 263.7M471.7 262.8L471.1 262.2L470.9 261.5M482.6 262.1L482.2 262.8L481.6 263.4M488.4 264.0L487.7 263.6L486.9 263.2M490.9 262.8L491.4 263.4L492.1 263.8M409.2 266.2L409.7 265.6L409.9 266.4M420.8 264.7L420.0 264.7L419.3 265.1M430.5 265.0L431.0 264.4L431.8 264.3M440.7 264.5L441.4 264.2L441.8 263.5M450.9 264.9L450.1 265.1L449.9 265.8M458.6 265.9L458.5 265.1L459.2 265.2M479.8 263.8L480.3 264.4L481.0 264.8M482.8 264.1L483.0 264.9L483.6 265.4M485.2 264.6L484.6 265.1L483.8 264.8M492.4 263.8L491.8 264.3L491.2 264.8M494.9 266.2L495.3 265.5L495.3 264.7M418.6 267.5L418.0 266.9L417.4 267.3M421.7 265.4L422.3 266.0L421.8 266.6M424.1 266.8L423.4 266.3L422.8 265.7M431.1 266.3L430.7 267.0L430.1 267.5M456.0 265.4L456.6 265.9L456.1 266.6M468.1 266.8L468.9 267.1L468.8 267.9M470.9 265.3L470.7 266.1L469.9 266.0M475.2 265.5L475.2 266.3L475.0 267.1M486.8 266.4L486.2 265.9L485.6 265.4M491.0 266.5L491.8 266.5L492.0 267.3M497.8 266.4L498.4 267.1L498.6 267.8M498.8 266.9L499.6 266.9L499.7 266.1M413.3 268.3L412.6 268.6L412.5 269.4M416.8 267.7L416.7 268.5L416.3 269.2M438.8 267.9L438.2 268.5L437.5 268.4M441.9 267.8L442.7 267.9L442.6 267.1M452.7 268.5L453.2 267.9L453.3 267.1M456.3 267.6L455.6 267.9L455.7 268.7M455.7 268.5L456.3 269.0L457.0 269.4M464.7 267.5L464.2 268.2L464.3 269.0M468.0 268.9L468.8 269.2L469.4 268.7M476.2 268.2L475.5 268.5L475.1 269.2M489.4 267.5L488.7 268.0L488.2 267.4M417.0 270.7L416.7 270.0L417.1 269.3M432.0 270.2L431.9 271.0L431.2 270.4M438.6 270.3L438.5 271.1L439.0 271.7M452.9 271.2L452.7 270.5L452.6 269.7M473.3 271.4L474.0 271.0L474.4 271.7M489.8 270.3L490.3 269.7L491.0 269.5M496.9 270.9L497.4 270.3L498.2 270.0M411.5 272.5L412.3 272.6L412.8 272.0M419.1 271.7L419.9 271.6L420.5 272.1M431.4 271.1L431.0 271.8L430.2 271.6M450.0 273.2L449.5 272.5L448.8 272.9M464.9 270.9L464.6 271.7L463.9 271.8M467.0 272.8L467.8 272.9L467.7 273.7M473.3 272.3L473.9 271.8L474.7 272.0M479.7 272.0L478.9 272.1L478.1 272.2M481.1 270.7L481.1 271.5L480.7 272.1M490.4 273.2L491.0 272.8L491.1 272.0M409.7 274.7L410.3 274.3L411.0 273.9M427.5 272.7L426.9 273.3L426.2 273.5M434.4 273.9L433.6 273.6L433.3 272.9M438.5 272.9L439.2 273.3L438.8 274.0M448.3 274.4L447.6 273.9L446.9 273.6M454.0 274.7L454.4 274.0L455.0 273.4M466.4 274.3L465.6 274.6L465.9 275.4M473.2 273.5L473.5 274.2L473.6 275.0M480.7 275.4L481.2 274.8L480.9 274.0M482.5 275.5L482.6 274.7L482.1 274.0M492.2 275.0L491.5 274.7L491.5 275.5M494.4 274.3L493.8 274.8L494.1 275.5M496.0 274.0L495.3 274.2L494.6 273.7M409.7 276.9L410.4 276.6L411.1 276.3M412.9 274.8L412.9 275.6L413.2 276.3M425.5 277.3L425.3 276.6L424.6 276.1M431.1 276.3L431.8 276.7L432.6 276.4M435.2 275.9L434.6 275.5L433.8 275.4M437.9 276.4L438.5 276.0L438.1 275.3M444.5 274.9L443.7 275.1L443.0 275.5M445.4 275.1L446.2 275.3L447.0 275.4M458.7 275.5L459.3 276.0L459.1 276.8M476.4 276.3L475.6 276.1L475.4 275.3M480.7 276.8L481.4 276.3L482.2 276.4M485.2 275.9L484.6 276.4L484.6 277.2M412.1 278.4L412.6 277.8L413.3 277.5M427.9 277.1L428.1 277.9L427.5 278.3M428.9 278.3L429.0 277.6L428.2 277.4M431.1 278.9L430.8 278.1L430.8 277.3M439.1 279.0L439.0 278.2L439.4 277.5M441.2 277.1L442.0 277.0L442.7 277.5M456.0 277.1L456.6 277.6L457.4 277.7M459.8 277.2L460.6 277.3L461.3 277.7M461.6 276.6L462.2 277.1L462.8 277.6M478.1 278.1L478.8 277.9L479.4 278.4M482.5 277.9L481.8 278.4L481.1 278.0M485.8 277.5L485.1 277.0L484.4 277.4M410.5 279.6L410.8 278.8L411.2 278.1M411.4 278.8L412.0 279.3L412.8 279.4M415.5 279.2L414.7 278.8L414.0 279.2M417.5 279.4L416.7 279.5L416.6 280.3M418.1 279.3L417.4 278.9L416.7 278.6M437.2 280.2L436.8 279.5L436.1 279.3M442.6 278.8L441.8 279.1L441.7 279.8M447.7 280.3L448.4 280.0L448.5 279.2M448.1 280.1L448.9 280.0L449.7 279.9M471.5 280.9L472.0 280.2L471.3 279.8M490.4 279.1L489.6 279.0L488.9 279.4M414.7 281.5L414.0 281.7L414.2 282.5M426.9 281.6L427.6 281.4L428.4 281.3M430.4 281.1L431.2 280.8L431.8 281.3M444.4 282.0L444.5 281.2L443.9 280.7M450.1 282.9L450.0 282.1L449.5 281.5M461.7 280.3L461.5 281.1L461.3 281.9M477.1 280.5L476.9 281.2L476.9 282.0M485.1 281.5L484.3 281.4L483.7 281.9M486.3 281.4L486.7 282.1L487.4 282.6M422.6 282.9L421.9 283.4L421.3 283.8M440.2 283.1L440.8 283.6L441.1 284.4M444.6 282.2L444.0 282.7L443.4 283.3M450.8 283.2L451.0 284.0L451.2 284.8M470.2 283.2L470.3 284.0L469.7 284.6M480.9 283.4L481.2 284.1L482.0 284.2M487.0 283.1L486.6 283.7L486.3 284.5M426.6 284.4L426.9 285.2L427.7 285.0M429.9 284.9L429.2 284.7L428.4 284.5M435.6 284.9L436.3 284.5L436.2 283.7M441.9 284.6L441.1 284.7L440.5 285.3M443.2 284.7L444.0 284.6L443.3 284.1M448.2 285.5L448.1 284.7L448.6 284.1M455.2 285.7L455.0 285.0L454.4 284.4M458.0 284.9L457.3 284.4L457.2 283.6M463.1 284.9L462.4 285.2L462.1 284.5M464.6 284.8L464.0 285.4L463.3 285.7M484.9 284.0L484.8 284.8L485.3 285.4M485.4 286.0L486.2 285.7L487.0 285.9M431.4 285.6L431.1 286.4L430.5 286.9M442.3 287.1L441.5 287.1L441.4 287.9M461.2 286.6L460.6 287.2L459.9 286.8M471.2 286.2L470.6 286.7L469.8 286.6M481.4 287.1L480.6 287.3L479.8 287.3M489.0 286.0L488.9 286.8L489.2 287.6M418.8 289.1L418.5 288.4L418.5 287.6M420.4 288.9L420.7 289.6L420.6 290.4M429.2 289.3L430.0 289.2L430.7 288.9M435.4 288.0L434.8 288.6L434.4 289.2M442.2 288.5L443.0 288.7L443.6 289.3M443.2 289.7L443.7 289.1L443.7 288.3M455.3 289.9L455.9 289.3L456.3 288.7M478.6 289.5L477.8 289.5L477.5 288.8M484.8 289.3L485.0 288.5L485.8 288.2M486.6 287.8L487.3 288.2L488.0 288.4M489.6 287.9L488.9 288.3L488.1 288.7M426.7 290.7L425.9 290.8L425.1 290.6M445.2 290.8L446.0 291.0L446.7 291.5M448.7 291.3L448.1 290.7L447.3 290.5M452.0 289.8L452.2 290.5L452.8 291.1M463.8 291.7L463.7 290.9L463.4 290.2M466.5 290.3L465.7 290.5L465.1 291.0M474.2 291.5L474.9 291.1L475.7 291.0M481.6 290.9L482.4 290.8L482.4 291.6M444.8 292.5L445.4 293.0L445.6 293.8M467.0 292.3L466.3 292.6L465.7 292.1M440.6 293.9L439.8 293.9L439.3 293.2M451.6 294.2L450.9 294.5L450.2 294.9M464.3 294.9L463.9 294.2L464.0 293.4M466.4 294.6L467.0 295.2L467.6 295.6M472.9 293.1L472.9 293.9L473.6 294.4M449.9 294.9L449.3 295.5L448.7 296.0M465.8 296.3L465.5 295.5L464.8 295.2M470.8 297.1L470.5 296.3L470.4 295.5M438.8 297.4L439.2 298.1L439.2 298.9M448.7 298.3L449.3 297.7L450.0 297.5M452.2 297.7L452.1 298.5L452.7 299.0M458.8 297.8L458.8 298.6L458.6 299.4M464.4 299.1L464.7 298.3L464.9 297.6M467.9 298.5L468.3 297.7L467.6 298.2M462.2 299.5L462.9 299.2L462.9 298.4M469.1 300.4L468.3 300.4L467.6 299.9" fill="none" stroke="#2c9a5c" stroke-width="0.95" stroke-linecap="round" stroke-linejoin="round"/>
<path d="M453.9 210.0L454.7 210.0L455.4 210.4M444.4 210.1L444.2 210.8L443.9 211.6M460.9 210.9L460.2 210.5L459.5 210.1M426.0 213.4L426.8 213.6L427.5 213.9M430.0 211.8L429.6 212.5L428.9 212.8M434.4 213.2L435.1 213.5L435.4 214.3M451.5 212.8L450.8 213.1L450.3 213.8M455.3 214.2L455.5 213.4L456.0 212.7M456.7 212.5L457.2 213.1L457.3 213.9M460.2 213.5L459.9 212.7L459.6 213.4M427.0 214.3L426.2 214.1L425.4 214.2M426.8 215.6L427.1 214.9L426.8 214.1M431.8 214.4L431.0 214.1L430.3 213.6M441.5 215.3L440.7 215.4L439.9 215.4M442.7 214.2L442.4 214.9L441.8 215.4M455.2 213.9L454.4 214.2L453.9 213.5M461.0 213.8L460.3 214.2L460.1 215.0M462.9 214.9L462.7 214.1L462.3 213.4M468.5 216.1L468.7 215.4L467.9 215.3M437.1 215.2L437.3 215.9L436.6 215.5M444.9 216.6L444.1 216.9L443.7 217.6M451.0 216.6L451.0 217.4L450.2 217.7M454.2 217.7L454.9 217.4L455.4 216.8M463.0 217.1L463.8 217.0L464.6 217.2M423.3 218.3L424.0 218.0L424.4 217.3M427.1 218.0L426.7 218.7L425.9 218.5M433.0 217.0L432.8 217.8L432.9 218.5M479.5 218.1L479.3 218.9L478.7 219.5M432.1 221.8L431.6 221.2L431.5 220.4M450.0 221.9L449.8 221.1L449.2 220.6M454.6 221.3L453.9 220.9L453.2 221.3M465.7 220.5L464.9 220.4L464.2 220.8M420.9 221.0L421.2 221.7L421.0 222.5M425.9 222.5L425.1 222.5L424.6 221.8M438.9 222.2L438.1 222.0L437.5 221.4M446.3 222.2L445.5 222.3L446.1 221.7M451.4 221.5L451.7 222.2L452.5 222.1M452.9 222.8L453.7 222.8L454.4 223.1M454.7 221.7L454.7 222.5L455.4 222.8M461.2 221.4L461.4 222.2L462.0 222.7M468.3 221.4L467.8 222.0L467.7 222.8M471.1 222.1L471.7 221.6L472.5 221.5M481.6 222.7L481.7 221.9L481.1 221.4M425.2 222.6L425.5 223.4L426.3 223.5M431.3 223.1L430.8 223.7L430.5 224.4M433.7 224.2L433.0 224.0L432.2 224.2M462.8 224.5L462.0 224.6L461.2 224.8M476.6 224.3L476.9 223.5L477.4 222.9M416.6 226.5L415.8 226.5L415.0 226.7M424.5 225.0L424.2 225.7L423.7 226.3M432.2 225.3L431.4 225.3L430.8 224.8M434.8 225.5L434.3 226.2L433.6 226.5M435.5 226.9L436.0 226.3L436.8 226.5M445.5 226.7L445.4 225.9L444.6 226.1M448.5 226.1L447.9 226.6L447.2 226.2M450.8 226.0L450.1 226.2L449.3 226.2M450.8 224.6L451.3 225.3L451.5 226.1M456.3 226.1L456.7 225.5L457.4 225.1M459.7 226.0L459.0 225.6L458.3 225.3M464.8 225.0L464.2 225.5L463.4 225.5M472.6 225.5L472.6 226.3L472.0 226.8M474.9 227.3L475.4 226.7L476.2 226.4M478.2 225.8L478.5 226.5L479.3 226.7M487.8 226.1L488.3 226.7L488.5 227.5M415.1 227.4L414.3 227.6L413.5 227.8M416.6 227.3L417.4 227.4L418.0 226.9M419.9 228.0L420.4 227.4L419.8 226.9M425.9 227.7L425.2 227.4L424.7 228.1M428.9 228.0L429.5 228.5L430.2 228.8M432.1 227.6L431.6 228.3L432.3 228.8M432.3 228.9L432.8 228.3L433.6 228.1M442.8 228.0L442.2 228.4L441.4 228.6M451.1 226.9L451.0 227.7L451.6 228.2M454.2 228.1L453.4 228.0L452.8 227.5M460.4 228.4L461.1 227.9L461.8 228.1M482.2 228.2L481.5 227.7L481.1 227.0M485.3 228.9L484.7 228.3L484.8 227.5M489.6 228.4L488.8 228.5L488.7 229.3M419.1 229.1L418.5 229.6L418.1 230.3M438.0 229.4L437.7 230.2L437.2 230.8M447.6 229.5L447.0 229.0L446.2 228.7M487.2 230.5L486.5 230.0L486.5 229.2M416.6 231.3L416.5 232.1L416.2 232.8M418.4 231.2L417.8 230.7L417.0 230.6M421.3 231.2L420.5 231.1L419.8 231.3M421.3 231.9L421.9 231.5L422.7 231.2M427.6 231.6L427.5 230.8L427.3 230.0M430.8 232.2L431.1 231.5L431.9 231.3M446.8 232.5L446.1 232.1L445.4 231.7M449.1 232.7L449.7 232.2L450.4 231.7M450.2 231.4L451.0 231.5L451.8 231.4M465.3 232.4L464.5 232.1L463.8 231.8M471.5 232.6L471.1 231.9L470.9 231.1M477.2 232.4L477.2 231.6L476.7 231.1M481.3 230.0L481.3 230.8L480.8 231.4M485.5 231.1L484.7 231.2L483.9 231.1M487.7 232.4L488.2 231.8L489.0 231.5M421.0 233.9L421.2 233.1L421.3 232.3M439.4 232.4L439.9 233.0L440.3 233.7M453.3 234.1L453.6 233.3L454.4 233.3M457.7 233.6L456.9 233.9L457.0 234.7M467.8 234.4L468.1 233.7L468.8 233.2M469.5 232.0L469.4 232.8L470.1 233.2M473.9 233.2L473.3 233.7L472.5 234.0M478.0 233.5L477.7 232.8L478.2 232.1M478.1 234.5L478.6 233.9L479.0 233.2M412.3 235.8L412.7 235.1L412.8 234.3M418.4 234.8L417.7 234.5L417.0 234.2M419.4 235.0L420.2 234.9L420.8 234.4M431.7 235.2L432.3 235.7L432.4 236.5M435.0 235.8L434.3 235.4L433.7 234.9M456.8 235.5L457.6 235.8L458.3 236.1M464.3 235.4L464.5 234.6L465.0 234.0M467.0 235.0L466.2 235.1L466.8 235.7M468.9 235.5L469.5 235.0L470.3 234.7M472.8 235.5L473.6 235.7L473.4 236.5M476.0 235.0L475.3 235.4L474.5 235.5M479.4 235.2L479.9 234.6L479.5 233.9M481.2 234.6L481.5 235.3L482.3 235.3M487.1 234.9L486.4 235.3L485.7 234.8M415.3 238.1L416.1 237.8L416.3 238.6M430.2 237.0L431.0 237.3L431.7 237.2M432.0 236.6L432.7 237.0L433.1 237.7M440.1 237.9L440.9 237.8L441.7 237.9M443.3 236.7L442.6 237.2L442.1 237.8M452.6 238.1L453.2 237.6L453.7 237.0M470.6 236.5L470.2 237.1L469.9 237.9M478.7 236.7L478.0 237.0L477.4 237.6M496.5 237.2L496.6 236.4L497.4 236.2M418.7 238.5L419.5 238.9L419.5 239.7M427.4 238.5L427.0 239.2L426.3 239.6M441.7 239.2L441.8 238.4L441.1 238.0M447.1 237.8L447.5 238.5L447.8 239.3M451.9 239.3L452.7 239.6L453.4 239.9M455.1 238.9L454.8 239.6L454.9 240.4M461.8 239.8L462.3 239.2L462.7 238.5M465.0 238.5L464.3 238.1L463.5 238.2M469.8 238.1L469.2 238.7L468.4 238.7M477.5 239.9L477.2 239.2L476.5 238.8M479.7 239.7L479.6 238.9L479.5 238.1M493.9 239.5L494.0 238.7L494.7 238.4M422.6 241.7L421.9 241.3L421.3 240.7M425.0 242.3L424.9 241.5L425.2 240.8M430.5 241.4L430.4 240.6L429.6 240.3M440.8 242.2L440.4 241.5L440.4 240.7M455.2 240.1L454.4 240.3L454.0 241.0M474.5 240.7L473.8 240.3L473.1 240.6M483.7 240.2L483.0 240.0L482.2 239.8M485.4 242.0L484.9 241.3L485.0 240.5M496.6 239.8L495.9 240.2L495.9 241.0M411.7 241.7L411.2 242.3L410.5 242.7M415.4 242.8L415.0 242.0L415.1 241.3M432.3 244.1L432.2 243.3L432.1 242.5M437.1 243.4L437.8 243.0L438.5 242.7M439.3 241.9L439.9 242.5L440.1 243.2M447.7 241.8L447.1 242.4L446.4 242.8M451.5 241.9L452.0 242.5L452.3 243.3M454.3 243.0L453.6 242.9L452.8 242.9M460.5 242.2L461.0 242.8L461.6 243.3M477.8 242.7L478.0 242.0L478.3 241.2M485.7 242.1L484.9 242.3L485.5 242.8M486.9 242.4L486.3 241.9L485.5 242.1M487.1 242.5L487.8 242.9L488.5 243.2M490.8 242.8L490.0 242.7L489.3 243.2M492.2 243.1L492.3 242.3L492.2 241.5M411.3 244.5L411.0 243.7L410.7 243.0M429.3 243.6L428.6 244.0L428.2 243.3M434.2 244.8L434.9 244.4L435.6 243.9M439.6 243.2L439.1 243.8L438.4 243.5M440.9 245.6L440.4 245.0L440.1 244.2M448.1 244.4L448.0 245.1L447.7 245.9M452.4 243.3L452.8 244.0L453.0 244.8M455.7 244.0L456.5 243.8L457.1 244.3M461.2 245.4L461.1 244.6L460.8 243.9M467.3 244.4L466.8 245.0L466.2 245.6M472.4 245.0L471.8 244.5L471.9 243.7M476.0 243.6L475.9 244.4L475.5 245.1M478.3 243.7L477.6 244.1L477.3 244.8M481.5 244.2L480.8 244.5L480.0 244.5M429.9 245.3L429.2 245.6L428.5 246.1M435.3 246.5L434.7 246.0L434.5 245.2M436.9 245.3L436.4 246.0L436.3 246.8M443.0 245.8L442.2 245.8L441.5 245.5M446.6 246.4L447.4 246.2L447.5 247.0M451.0 247.3L451.7 246.9L452.4 246.6M463.5 246.1L462.7 246.2L462.1 246.8M464.1 245.3L464.6 245.9L464.9 246.6M466.8 246.1L466.0 246.1L465.2 246.1M474.9 246.4L475.3 245.7L475.8 245.1M478.9 247.9L479.0 247.1L479.3 246.3M492.6 245.3L492.5 246.1L493.3 246.2M495.4 246.0L496.0 246.6L496.8 246.8M498.2 245.6L498.2 246.4L498.7 246.9M415.3 249.0L416.0 248.6L416.4 247.9M424.5 247.3L425.0 247.9L425.7 248.2M434.1 249.3L434.1 248.5L434.5 247.8M436.0 247.5L436.4 248.1L436.5 248.9M444.8 248.3L444.6 247.6L444.5 246.8M457.5 248.3L456.7 248.2L455.9 248.0M473.6 246.8L473.5 247.6L472.9 248.1M476.6 247.0L476.0 247.6L475.3 247.1M485.1 247.0L485.2 247.8L485.0 248.6M492.4 247.7L492.8 248.4L493.6 248.5M493.4 247.9L494.1 247.6L494.5 246.9M410.3 250.6L411.1 250.5L411.8 250.6M414.4 250.0L414.6 250.8L415.3 251.2M416.3 251.1L417.0 250.7L417.8 250.6M425.9 250.7L425.3 250.2L424.5 250.5M452.7 248.9L453.4 249.2L454.0 249.7M456.7 251.3L456.9 250.6L457.7 250.8M468.2 251.1L467.6 250.6L467.2 249.9M468.7 251.1L469.4 250.7L470.2 250.8M476.8 250.4L476.0 250.6L475.4 251.1M485.5 249.7L486.3 249.9L486.5 250.6M491.3 250.2L490.7 249.6L489.9 249.6M494.0 250.1L494.3 249.4L495.1 249.5M412.9 253.1L412.4 252.5L413.0 252.0M421.4 250.6L420.7 251.1L420.0 251.3M422.7 252.0L421.9 251.9L422.0 252.7M426.9 252.2L426.2 251.8L425.4 251.8M426.9 251.6L427.6 251.8L428.3 252.2M435.6 251.5L436.3 251.1L436.8 251.7M442.3 251.9L441.7 252.4L441.0 252.8M456.1 251.2L456.3 251.9L455.7 252.4M464.9 251.7L464.2 251.3L463.4 251.3M472.6 252.7L471.9 252.4L472.2 251.7M476.6 252.5L476.0 251.9L475.9 251.1M480.2 251.7L479.4 251.6L478.6 251.5M491.1 252.2L490.6 251.6L490.0 251.1M495.0 250.8L495.6 251.4L496.1 252.0M499.9 251.5L499.1 251.6L498.4 251.1M501.7 251.6L500.9 251.8L500.1 251.7M413.1 252.9L413.7 253.4L414.2 254.0M420.5 252.5L420.1 253.2L420.7 253.7M427.0 254.2L426.2 254.2L425.4 254.5M437.5 254.0L438.3 254.0L438.8 254.5M442.7 254.0L443.3 253.4L444.0 253.1M465.8 254.2L466.1 253.5L466.8 253.9M469.1 254.3L468.4 253.9L467.8 253.4M470.2 252.5L469.9 253.2L469.3 253.8M479.2 253.0L479.9 253.3L480.6 252.9M485.5 253.7L486.1 253.2L486.9 253.5M497.4 252.9L498.1 253.2L498.3 252.5M499.4 253.7L500.2 253.6L501.0 253.4M501.0 254.1L501.3 253.3L501.2 252.5M409.6 255.0L410.4 254.9L411.2 255.2M415.4 256.7L415.7 256.0L415.4 255.3M420.1 255.9L419.6 255.3L419.3 254.5M427.0 256.4L426.9 255.6L426.9 254.8M434.0 254.4L433.4 254.9L433.5 255.7M437.7 254.3L437.3 255.0L437.1 255.7M438.3 255.1L439.1 255.0L439.7 254.5M444.3 255.3L443.7 255.8L443.5 256.5M462.1 254.7L462.9 254.8L463.7 254.6M469.4 256.7L468.9 256.1L469.2 255.4M488.0 254.7L488.8 254.8L489.5 254.4M501.7 255.3L500.9 255.2L500.3 254.7M413.8 256.9L413.0 256.7L412.2 256.6M420.8 258.1L421.3 257.5L422.0 258.0M428.8 258.2L428.0 257.8L427.9 258.6M443.8 257.5L444.6 257.5L445.4 257.4M446.3 256.9L446.6 257.6L447.4 257.7M468.7 257.6L469.5 257.9L470.3 258.0M470.6 258.6L471.1 258.0L470.8 257.3M499.4 256.8L500.2 256.9L500.2 257.7M501.1 258.5L501.3 257.7L502.1 257.7M412.3 258.6L412.9 259.1L413.6 259.4M421.1 259.0L420.3 259.3L419.5 259.3M423.1 259.8L423.9 259.4L424.0 260.2M424.9 259.6L425.7 259.5L426.5 259.7M433.8 257.8L434.1 258.6L434.1 259.4M448.2 259.1L447.6 259.7L446.8 259.9M449.1 257.9L448.9 258.6L448.8 259.4M451.4 260.3L451.0 259.6L450.4 259.1M453.7 258.2L454.0 258.9L454.8 258.9M454.3 258.8L454.9 259.3L455.7 259.2M458.1 258.5L458.9 258.5L459.4 257.8M475.1 258.5L475.2 259.3L474.8 259.9M476.4 259.8L477.2 259.8L477.7 260.4M479.6 258.6L479.1 259.2L478.5 259.8M486.7 258.5L486.1 258.9L486.6 259.5M493.1 259.9L493.3 259.1L494.1 259.1M430.4 260.8L430.0 261.5L430.1 262.3M432.0 260.3L431.4 260.8L432.1 261.1M432.9 261.1L432.3 261.6L432.0 262.4M438.2 260.8L438.6 261.5L438.0 262.0M443.6 260.6L444.3 260.3L445.1 260.5M447.2 260.8L447.0 261.6L446.4 262.2M471.1 260.2L471.8 260.7L471.5 261.5M484.4 259.7L484.1 260.5L483.8 261.2M486.9 262.1L487.1 261.3L487.3 260.5M498.4 260.7L499.1 261.1L499.8 260.8M502.2 260.3L502.0 261.1L502.2 261.9M415.3 262.6L416.0 262.4L416.6 263.0M444.0 262.8L444.7 262.4L445.3 261.9M452.3 263.5L451.9 262.8L452.1 262.0M480.5 262.9L481.2 262.6L481.2 263.4M497.8 263.0L498.2 263.7L499.0 263.9M501.3 262.7L502.1 262.9L502.4 262.2M409.5 265.3L410.3 265.3L410.9 264.8M440.7 263.7L440.0 264.1L439.9 264.9M445.6 263.8L445.9 264.5L446.1 265.3M454.4 265.7L454.6 264.9L453.9 264.4M456.3 265.7L456.4 264.9L456.4 264.1M462.5 265.1L462.0 264.4L461.3 264.2M467.0 264.1L466.2 264.2L466.5 265.0M472.4 265.2L472.5 264.4L473.3 264.2M479.1 264.7L478.9 265.5L478.1 265.3M485.5 265.6L486.1 265.0L486.7 264.6M492.8 265.1L493.2 264.4L493.4 263.6M497.2 264.6L497.7 265.2L497.5 266.0M501.8 265.1L501.0 265.0L500.3 264.7M426.2 266.6L426.9 267.0L427.7 267.3M429.7 266.9L428.9 267.0L429.2 267.8M433.7 266.3L433.4 267.0L432.8 266.4M439.5 266.0L439.8 266.8L440.1 267.5M441.4 266.7L442.2 266.6L442.8 266.1M450.2 266.2L450.4 267.0L451.0 267.5M454.3 266.5L453.5 266.6L453.2 267.3M463.4 266.7L462.8 267.2L463.5 267.5M464.3 268.2L464.3 267.4L465.1 267.5M479.0 266.0L479.3 266.8L478.8 267.4M479.7 266.9L480.3 267.4L480.8 266.8M482.5 265.3L483.1 265.9L482.8 266.6M418.5 269.4L418.2 268.6L417.5 268.2M422.8 267.1L423.1 267.9L423.9 267.6M433.8 268.4L434.1 269.2L434.9 269.1M436.7 268.3L436.2 267.7L436.0 267.0M440.9 269.0L440.1 269.0L439.9 268.2M445.0 269.0L444.2 269.2L443.7 268.6M447.6 269.4L448.4 269.1L448.0 268.4M461.1 267.6L461.4 268.3L461.2 269.1M474.0 269.5L473.4 269.1L473.4 268.3M483.4 268.2L483.4 269.0L483.5 269.8M486.5 269.5L487.0 268.8L487.3 268.1M500.3 267.7L499.7 268.3L499.7 269.1M409.5 270.0L408.8 269.6L408.4 270.3M422.0 270.7L421.3 271.1L420.7 271.6M423.9 270.9L423.1 271.0L422.6 271.7M442.3 271.6L442.9 271.1L442.4 270.5M454.4 269.4L455.1 269.8L455.5 270.5M468.3 270.5L468.8 269.8L469.5 269.7M471.4 270.6L471.5 269.8L470.9 269.4M480.9 269.4L481.6 269.8L482.4 270.1M484.7 269.9L484.0 270.2L483.2 270.5M495.1 269.8L495.9 270.1L496.7 269.9M416.8 272.5L416.1 272.9L415.4 272.6M417.8 272.5L418.3 271.9L419.0 271.4M423.5 270.7L423.1 271.4L423.3 272.2M434.7 271.9L435.4 272.4L436.1 272.8M439.6 271.3L439.6 272.0L439.0 272.6M446.6 273.5L446.3 272.8L445.6 272.5M453.9 271.1L454.6 271.5L454.4 272.3M483.3 271.5L483.4 272.3L483.1 273.0M483.5 272.2L484.3 271.9L484.9 271.5M487.8 272.1L488.5 272.3L489.3 272.4M494.4 271.4L494.4 272.2L495.0 272.8M422.1 275.5L422.5 274.8L423.1 274.3M426.2 273.5L425.4 273.6L424.9 274.2M431.3 273.9L431.0 274.7L430.4 275.2M433.6 273.1L434.4 273.3L434.7 274.0M436.6 272.7L436.5 273.5L435.9 274.0M444.9 274.0L445.1 274.7L444.7 275.4M456.9 272.7L457.3 273.4L458.1 273.4M463.2 273.9L462.6 273.3L461.9 273.1M465.2 273.7L464.5 274.3L463.8 274.6M467.2 273.6L468.0 273.5L468.4 272.8M471.3 273.8L470.6 274.1L469.9 274.4M475.7 275.3L475.5 274.5L476.0 273.8M479.7 273.0L479.5 273.8L480.2 274.3M487.7 274.6L487.8 273.8L487.1 273.5M490.7 272.7L490.3 273.4L489.8 274.0M414.2 276.3L413.9 275.5L414.6 275.1M418.7 277.2L418.3 276.5L418.0 275.8M418.7 275.3L419.2 275.9L420.0 276.0M423.3 276.1L422.6 276.4L421.9 276.8M429.0 277.2L429.4 276.4L428.7 276.0M432.6 276.7L433.2 276.2L434.0 276.5M435.5 275.0L436.3 275.2L437.1 275.2M441.2 275.6L441.9 275.2L442.3 274.5M448.0 275.0L448.4 275.7L447.7 276.2M449.7 275.2L449.0 275.5L448.3 275.2M451.2 277.0L451.2 276.2L451.4 275.4M455.7 276.1L455.8 275.3L455.9 274.5M459.7 275.3L460.4 275.8L461.0 276.2M468.5 276.3L468.2 275.6L467.4 275.3M493.9 275.7L494.7 275.7L495.5 275.5M411.2 277.0L411.3 277.8L410.7 278.4M422.6 277.9L421.9 277.5L421.1 277.2M427.0 276.7L426.3 277.0L426.3 277.8M432.9 277.8L433.1 278.5L433.9 278.6M436.6 278.0L437.4 278.0L437.7 278.8M448.0 278.6L448.4 277.9L448.1 277.2M451.7 277.6L451.7 278.3L451.3 279.1M454.2 277.6L454.8 277.1L455.6 277.0M465.7 277.9L466.4 277.6L466.4 276.8M467.8 278.7L468.2 278.0L467.8 277.3M472.2 278.1L471.8 277.4L471.0 277.7M475.8 277.9L475.1 278.1L474.7 278.8M483.3 277.9L482.7 277.5L482.2 276.8M493.1 278.7L492.6 278.0L492.7 277.2M429.8 280.0L429.3 279.4L429.5 278.6M433.6 279.7L433.5 278.9L434.1 278.4M434.8 278.4L435.5 278.9L436.2 279.2M452.3 278.7L452.7 279.3L453.3 279.9M455.0 278.5L455.3 279.2L455.2 280.0M468.6 279.5L468.9 280.2L468.6 281.0M470.5 280.8L470.0 280.2L469.4 279.8M475.6 278.0L475.5 278.8L475.9 279.5M476.9 279.6L476.9 278.8L477.1 278.1M481.3 280.4L481.8 279.8L482.5 280.2M485.2 280.5L484.8 279.8L484.0 279.5M486.1 279.6L486.6 279.0L486.8 278.2M489.5 280.3L489.0 279.7L488.4 279.2M416.2 280.5L417.0 280.7L417.5 280.1M445.2 281.9L445.2 281.1L445.4 280.4M452.7 282.3L452.9 281.6L453.6 281.2M466.2 282.5L466.6 281.8L467.2 281.3M472.2 281.8L471.5 282.2L471.0 281.6M488.3 280.3L488.7 281.0L488.5 281.8M417.3 284.2L417.6 283.5L418.4 283.2M423.9 284.9L424.2 284.1L424.2 283.3M429.7 282.9L430.0 283.6L430.6 284.1M432.8 282.4L432.8 283.1L432.1 282.8M457.6 283.8L458.4 284.0L459.1 283.6M461.8 284.3L461.9 283.5L462.1 282.7M474.4 282.9L475.1 283.2L475.6 283.8M477.7 284.5L478.1 283.8L478.8 283.5M480.0 283.4L479.4 284.0L478.7 284.2M481.5 283.5L482.3 283.7L482.4 284.5M488.9 283.1L489.5 282.6L489.9 281.9M416.7 286.0L415.9 285.8L415.1 286.0M422.2 286.1L422.5 285.3L423.2 285.0M431.6 285.2L430.9 284.8L430.7 284.0M434.4 286.6L434.4 285.8L433.6 286.0M442.7 286.1L442.7 285.3L442.6 284.5M449.3 285.9L450.1 285.6L450.6 285.0M451.2 284.6L451.5 285.3L452.3 285.4M460.1 285.4L460.6 284.8L461.2 284.2M466.7 284.7L465.9 284.6L465.1 284.7M470.7 284.8L470.2 285.4L469.5 285.7M476.4 284.5L476.2 285.3L476.2 286.1M422.7 288.3L423.1 287.5L423.9 287.7M425.7 287.2L425.1 286.7L424.5 286.2M433.6 286.9L432.8 287.3L432.0 287.2M434.7 286.0L434.2 286.6L433.6 287.1M438.7 287.6L438.4 286.9L438.2 286.1M439.5 286.9L440.2 286.5L439.5 286.9M444.1 288.3L443.6 287.7L443.8 287.0M452.3 287.4L451.5 287.3L450.8 287.0M457.1 285.8L457.5 286.5L457.2 287.3M462.2 287.7L462.2 286.9L461.5 286.5M468.1 286.4L467.8 287.1L467.6 287.9M471.7 286.2L471.6 287.0L472.3 287.4M478.2 286.1L477.4 286.4L477.1 287.1M485.3 286.7L484.5 286.7L483.9 287.3M488.9 286.8L489.6 287.2L490.0 286.5M437.1 288.8L436.3 288.7L435.5 288.5M447.3 289.5L446.7 289.0L446.0 288.7M447.7 289.1L447.2 288.5L446.9 287.8M454.5 290.1L453.8 289.6L453.2 289.1M456.3 289.4L456.9 289.0L457.7 289.1M464.3 288.8L463.7 288.3L463.0 288.7M466.8 289.4L466.0 289.3L466.2 288.6M468.5 287.4L468.1 288.1L467.5 288.7M470.0 288.3L469.4 288.8L469.6 289.6M424.5 290.4L423.7 290.3L423.5 289.5M434.1 289.5L433.6 290.1L434.4 289.9M450.1 290.2L449.5 290.7L448.9 291.2M463.1 291.1L462.3 291.2L461.8 291.8M468.9 289.7L468.2 290.0L467.5 289.6M469.5 290.4L469.6 291.2L468.8 291.2M474.2 290.6L474.0 291.4L474.0 292.2M424.7 291.8L424.2 292.4L423.8 291.7M430.1 293.3L429.6 292.6L430.4 292.3M431.0 293.8L430.6 293.1L430.5 292.3M434.7 293.8L434.8 293.1L434.7 292.3M437.2 293.3L437.0 292.5L436.9 291.7M441.1 293.0L441.5 292.3L441.8 291.6M472.4 291.4L472.6 292.2L472.8 292.9M480.0 293.2L479.6 292.6L479.1 291.9M443.8 293.9L443.0 293.8L442.2 293.6M457.2 293.8L456.4 293.8L456.0 294.4M462.3 295.8L462.1 295.1L461.5 294.5M470.9 293.4L471.5 293.9L472.2 294.3M475.8 295.2L476.3 294.5L475.5 294.2M435.6 295.8L435.0 296.3L435.1 297.1M438.2 296.1L438.4 296.9L439.0 296.4M440.3 295.5L439.9 296.2L439.3 296.7M445.1 295.7L444.7 296.4L444.6 297.2M453.5 297.3L453.8 296.5L453.2 296.0M457.8 295.9L457.7 296.7L457.9 297.5M459.2 295.3L459.4 296.1L458.6 296.3M463.5 296.5L462.7 296.4L461.9 296.3M468.2 296.7L467.8 296.0L467.3 295.4M472.7 296.0L471.9 295.7L471.3 296.2M474.3 295.3L474.0 296.1L474.0 296.9M476.1 296.7L475.8 296.0L475.0 295.7M475.9 296.0L476.6 295.7L477.3 296.1M440.8 297.3L441.5 297.7L441.7 298.5M458.1 298.3L457.3 298.4L456.6 298.1M463.0 298.4L463.1 297.6L462.9 296.8M466.3 298.5L466.1 297.8L465.9 297.0M471.4 299.2L471.3 298.4L470.9 297.7M439.0 301.5L438.8 300.7L439.6 300.5M439.9 300.5L439.8 299.7L440.3 299.1M440.6 299.5L441.4 299.4L442.2 299.2M445.7 299.1L446.3 299.7L446.8 300.4M452.8 300.1L452.1 300.5L451.8 301.2M453.5 299.0L453.6 299.8L453.8 300.5M442.4 300.4L442.1 301.1L442.6 301.7M445.9 301.3L446.7 301.3L447.4 301.7" fill="none" stroke="#46b674" stroke-width="0.95" stroke-linecap="round" stroke-linejoin="round"/>
<path d="M403.8 240.0L404.6 241.0L404.1 242.1M403.4 241.0L402.3 241.6L402.2 242.9M399.1 241.4L399.2 240.1L399.6 239.0L400.4 240.0L399.5 239.0L400.1 237.9" fill="none" stroke="#3a5cbc" stroke-width="1.05" stroke-linecap="round" stroke-linejoin="round"/>
<path d="M404.7 239.3L403.4 239.1L402.7 238.1M402.1 242.6L403.0 241.8L404.3 242.0M398.9 239.7L398.4 240.9" fill="none" stroke="#2e50b0" stroke-width="1.05" stroke-linecap="round" stroke-linejoin="round"/>
<path d="M400.8 241.2L400.7 240.0L399.7 239.2L398.5 239.6M401.3 239.3L402.4 239.9L403.7 239.8L404.2 240.9L403.9 242.1M401.9 240.0L402.3 238.8L402.8 237.7M402.2 242.1L401.8 240.9L401.4 239.7L400.2 239.3L399.0 239.8" fill="none" stroke="#2444a0" stroke-width="1.05" stroke-linecap="round" stroke-linejoin="round"/>
<ellipse cx="406.2" cy="236.6" rx="3.6" ry="3.4" fill="#e4eaf8"/>
<path d="M409.0 236.2L410.1 236.7L409.6 237.8L408.5 238.3L407.3 238.2L406.5 237.2M404.3 235.1L403.3 235.8L402.5 236.7L402.5 238.0L403.0 236.8L404.1 236.3M406.2 237.7L407.2 238.4L408.4 238.8M404.3 236.9L405.4 236.4L406.6 235.9L407.0 237.1L408.1 237.7L408.6 238.8" fill="none" stroke="#3a5cbc" stroke-width="1.05" stroke-linecap="round" stroke-linejoin="round"/>
<path d="M405.0 238.2L405.9 237.4L406.9 238.2L408.1 237.8L409.2 237.3M403.1 238.0L403.8 237.0L403.3 235.9L404.0 234.8L405.1 234.4L406.4 234.4M407.0 235.5L406.0 236.2L406.3 237.4L405.8 238.6L405.8 239.8M406.9 239.2L408.1 239.5L409.2 238.9" fill="none" stroke="#2e50b0" stroke-width="1.05" stroke-linecap="round" stroke-linejoin="round"/>
<path d="M408.2 237.7L409.5 237.8M408.2 238.2L407.1 237.6L405.9 237.5L404.8 237.0L403.8 236.2L402.6 236.2M406.5 237.7L407.2 238.7L408.5 238.9M407.4 239.1L408.6 238.8M408.4 235.6L409.6 235.4M405.4 234.5L406.2 235.4L407.3 235.9L408.6 235.7L409.8 235.7L409.3 234.6M407.3 236.3L408.2 235.5L409.2 234.7M407.1 238.1L406.9 239.3" fill="none" stroke="#2444a0" stroke-width="1.05" stroke-linecap="round" stroke-linejoin="round"/>
<ellipse cx="409.8" cy="232.5" rx="4.0" ry="3.8" fill="#e4eaf8"/>
<path d="M412.9 232.6L414.1 232.2M407.8 232.1L408.9 231.4L410.1 231.5L409.7 232.7L408.6 233.4L407.5 233.9M410.1 234.4L411.2 235.2L412.1 235.9M410.2 230.2L409.4 229.2M410.0 229.1L411.1 228.6L412.3 229.0L413.0 229.9" fill="none" stroke="#2e50b0" stroke-width="1.05" stroke-linecap="round" stroke-linejoin="round"/>
<path d="M408.3 234.3L407.3 234.9M407.0 232.7L405.7 232.8M408.6 232.2L409.7 232.8L410.6 233.6L411.9 233.7L411.2 234.7L410.8 235.9M408.1 235.2L407.3 236.0M412.1 231.4L413.3 231.9M408.0 233.5L407.9 234.7L408.4 235.9M408.4 232.2L409.6 232.5L408.7 233.4L408.7 234.7L407.9 235.7L409.1 236.3" fill="none" stroke="#2444a0" stroke-width="1.05" stroke-linecap="round" stroke-linejoin="round"/>
<path d="M406.5 230.3L407.8 230.3L408.5 231.2L409.8 231.1L410.1 229.9L410.2 228.6M409.5 232.7L408.4 233.3L407.2 233.1L406.0 233.0L405.5 231.8M407.7 230.8L408.8 230.2L410.1 230.4L409.5 231.5L408.7 232.5L407.5 232.8M406.2 231.1L406.6 229.9M411.5 229.1L411.9 230.2L413.0 230.9M409.3 231.2L409.5 232.4L409.5 233.7L409.0 234.8L408.1 235.7M410.6 231.2L411.5 232.0L412.7 232.5L413.5 233.4" fill="none" stroke="#3a5cbc" stroke-width="1.05" stroke-linecap="round" stroke-linejoin="round"/>
<path d="M411.7 227.0L410.5 226.5L410.4 227.7L410.6 229.0L410.5 230.2L410.4 231.5" fill="none" stroke="#3a5cbc" stroke-width="1.05" stroke-linecap="round" stroke-linejoin="round"/>
<path d="M409.6 230.0L408.5 230.4M409.6 229.9L409.1 231.0M413.9 229.0L412.7 228.8L411.6 229.4L410.4 229.6L410.6 230.8L411.2 231.9M408.9 229.3L410.1 229.1L411.1 228.3L412.0 229.2L413.2 229.4L413.8 228.3M413.3 230.2L412.1 230.0L411.6 231.2" fill="none" stroke="#2444a0" stroke-width="1.05" stroke-linecap="round" stroke-linejoin="round"/>
<path d="M409.0 228.8L409.5 227.7L410.4 226.9M410.5 229.6L409.5 230.3" fill="none" stroke="#2e50b0" stroke-width="1.05" stroke-linecap="round" stroke-linejoin="round"/>
<ellipse cx="405" cy="264.5" rx="6.6" ry="6.8" fill="#e6f2d0"/>
<path d="M408.3 260.8L407.1 260.6L405.8 260.6L405.0 259.7L403.7 259.5L402.5 259.7M401.3 263.2L400.0 263.3L398.8 263.3L398.9 264.6L399.6 265.6L399.7 266.8M404.1 267.9L403.9 269.2L403.4 270.3L404.3 271.1L405.5 270.8L406.5 271.5M408.0 264.4L407.8 265.7L408.6 266.6L408.0 267.7L406.8 267.4L405.5 267.5M407.3 265.1L408.5 264.8L409.3 263.9L410.6 263.6L411.6 263.0M401.2 264.2L402.2 264.9L402.7 266.0L403.5 267.0L404.4 266.1L405.6 265.7M404.3 268.7L404.5 267.4L403.7 266.5L402.5 266.6L401.2 266.6L400.0 266.5M399.6 264.3L399.3 263.1L399.0 261.8L399.7 260.8" fill="none" stroke="#a6ce52" stroke-width="1.05" stroke-linecap="round" stroke-linejoin="round"/>
<path d="M400.8 264.3L400.8 263.1L401.5 262.0L402.7 261.8L403.9 262.3L403.2 263.4M401.1 259.0L402.3 259.5L402.6 260.7L403.1 261.8L402.0 262.4L400.7 262.5M404.6 263.3L404.9 262.0L406.0 261.4L407.0 260.7L408.0 259.9L407.5 258.7M400.6 261.1L401.8 261.3L403.0 261.3L404.2 261.8L405.2 262.5L405.7 263.7M405.3 260.5L404.1 260.8L402.8 261.0L401.8 260.2L401.4 259.1M405.5 265.1L406.5 264.4L407.7 264.1L409.0 263.9L410.1 263.4L411.4 263.4M408.1 269.6L407.9 268.3L409.1 268.0L407.9 268.0L407.3 266.9L406.1 266.5M409.6 267.2L410.8 267.6M402.2 259.1L401.6 260.3L400.4 260.3M401.1 259.9L402.3 259.5L403.5 259.2L404.7 259.6L403.8 260.5L403.0 261.4M405.8 268.1L405.8 266.9L405.0 265.9L406.1 265.3L407.2 264.7L407.9 263.6M406.5 264.4L406.4 263.1L405.8 262.0L404.8 261.4L404.0 260.4L404.3 259.2M407.9 267.4L408.6 268.5L407.9 269.5L407.4 270.7M406.2 268.2L406.3 269.4L405.5 270.3L404.2 270.3L403.1 269.9L402.3 268.9M405.5 270.6L404.3 270.9L403.3 270.1L402.3 270.8L401.4 270.0L400.9 268.8M404.1 264.1L404.5 265.3L404.4 266.5L404.9 267.6L405.3 268.8L406.2 269.7M400.0 264.3L400.3 263.0L400.1 261.8L400.0 260.6L401.1 260.1L402.2 259.4M408.7 262.3L407.6 262.9L406.7 263.7L405.4 263.5L404.4 262.8L403.1 263.1" fill="none" stroke="#98c84a" stroke-width="1.05" stroke-linecap="round" stroke-linejoin="round"/>
<path d="M400.3 268.1L399.1 268.3M407.0 270.5L406.4 271.5M408.9 262.9L410.1 263.2L411.4 263.4M400.3 262.3L399.9 261.1L400.2 259.9M404.5 259.3L403.3 259.0L402.6 258.0M400.6 262.2L401.8 261.7L402.4 262.8L402.8 264.0L402.3 265.2L402.8 266.3M405.0 270.4L403.9 269.7L403.4 268.6L402.6 269.6L401.4 269.4L400.1 269.4M402.6 260.8L402.3 259.6L402.2 258.4M406.7 265.9L407.1 264.8L407.4 263.5L407.5 262.3L407.7 261.1L406.6 260.4M399.5 262.8L398.4 262.3M401.7 263.6L401.9 264.8L401.7 266.1L400.5 265.9L399.8 264.9L398.8 264.1M404.7 268.8L403.8 269.7L403.0 270.7M404.2 263.6L403.0 264.1L402.4 265.2L401.3 265.7L400.5 266.6L400.0 267.8M404.6 264.5L403.4 264.7L402.4 265.5L401.2 265.2L401.8 266.3L401.3 267.4M406.7 266.8L406.7 268.0L406.8 269.2L407.2 270.4M404.7 266.0L404.1 264.9L403.6 263.7L403.0 262.6L402.1 261.7L401.4 260.7" fill="none" stroke="#7ab838" stroke-width="1.05" stroke-linecap="round" stroke-linejoin="round"/>
<path d="M405.0 263.2L404.9 262.0L404.0 261.1L402.8 260.8L403.3 259.7L403.4 258.4M410.3 263.3L410.7 262.1L410.4 260.9L410.1 259.7L408.8 259.4L407.9 258.6M409.9 265.4L409.8 266.6L409.4 267.8L408.2 268.2L407.3 267.3L406.2 266.8M400.1 264.2L399.2 265.0L398.2 264.3M403.9 261.5L404.4 260.4L405.2 259.4L406.3 258.9L406.9 257.8M409.5 261.4L410.1 260.3M405.1 268.6L406.0 267.8L406.6 266.7L406.9 265.4L406.6 264.3L406.4 263.0M403.9 261.9L404.2 260.6L405.4 260.6L406.5 261.1L407.5 262.0L408.7 261.7M403.7 266.6L402.8 267.5L401.6 267.6L400.4 267.2L399.2 266.9L399.0 265.7" fill="none" stroke="#8cc640" stroke-width="1.05" stroke-linecap="round" stroke-linejoin="round"/>
<path d="M434.5 269.0L435.0 270.2L436.2 270.5M436.2 268.5L437.3 267.8L437.0 266.5M433.6 269.9L434.3 270.9M434.1 269.0L433.5 268.0L434.2 267.0L435.5 266.8L436.4 266.0" fill="none" stroke="#e06a30" stroke-width="1.05" stroke-linecap="round" stroke-linejoin="round"/>
<path d="M434.9 270.7L433.7 271.1M436.2 266.5L435.1 267.0L433.9 266.9L433.2 268.0L432.6 269.0L432.8 270.3M436.1 269.4L437.2 270.0" fill="none" stroke="#f08040" stroke-width="1.05" stroke-linecap="round" stroke-linejoin="round"/>
<path d="M434.6 269.1L434.4 267.9L433.1 267.6L432.0 268.2" fill="none" stroke="#d85a28" stroke-width="1.05" stroke-linecap="round" stroke-linejoin="round"/>
<ellipse cx="428.5" cy="291.5" rx="4.5" ry="3.2" fill="#fbd8c8"/>
<path d="M430.1 293.9L429.0 293.5L427.9 294.2L426.9 294.9M427.3 288.8L428.1 289.7L428.8 290.7L430.0 291.1L430.8 292.1L431.1 293.3M430.8 289.7L429.9 290.5L428.6 290.5L427.5 289.9L427.0 288.8L428.0 288.1M430.6 292.2L431.6 292.9L432.7 293.5M427.1 292.7L428.3 292.3L429.1 291.3L429.1 290.1L430.0 289.2L430.9 288.3M426.3 293.2L425.1 292.9" fill="none" stroke="#f06030" stroke-width="1.05" stroke-linecap="round" stroke-linejoin="round"/>
<path d="M429.4 292.7L428.5 291.8L428.7 290.6L429.1 289.4L429.8 288.4M427.1 292.8L426.6 291.6L425.5 292.2L424.5 292.9M430.3 288.9L429.4 289.7L428.2 290.2L427.0 290.2L426.8 291.4L426.3 292.6M424.2 291.0L425.4 291.2L426.4 290.4L426.9 289.3L427.7 288.3M426.9 290.5L427.9 291.2L428.4 292.4L429.4 293.0L429.7 294.3L430.9 294.0M427.6 293.2L427.0 294.2" fill="none" stroke="#e03a18" stroke-width="1.05" stroke-linecap="round" stroke-linejoin="round"/>
<path d="M427.8 289.1L426.9 290.0L425.7 289.8L424.4 289.6M429.8 293.9L428.8 294.7M430.4 288.7L431.6 288.8" fill="none" stroke="#e84a20" stroke-width="1.05" stroke-linecap="round" stroke-linejoin="round"/>
<path d="M432.0 289.5L432.2 290.8L432.6 291.9M427.7 290.2L426.5 290.4L425.4 291.0L426.1 292.1L427.3 292.1L427.6 290.9" fill="none" stroke="#f07838" stroke-width="1.05" stroke-linecap="round" stroke-linejoin="round"/>
<ellipse cx="440" cy="291.8" rx="4.8" ry="2.8" fill="#fbd8c8"/>
<path d="M439.7 289.4L441.0 289.2M436.0 291.3L435.6 292.5M443.4 291.2L444.1 292.3M438.7 292.9L437.9 291.9L436.6 292.2L435.4 291.9" fill="none" stroke="#f06030" stroke-width="1.05" stroke-linecap="round" stroke-linejoin="round"/>
<path d="M438.8 290.7L439.4 289.6M443.4 291.4L442.2 291.8L441.1 292.3L440.3 293.3L439.1 293.6L438.2 294.5M435.3 291.6L436.3 290.9L437.4 291.4L438.2 290.3L437.7 289.2M436.1 291.5L434.8 291.6" fill="none" stroke="#f07838" stroke-width="1.05" stroke-linecap="round" stroke-linejoin="round"/>
<path d="M439.7 289.8L440.1 288.6M437.0 292.0L438.0 291.2L438.7 290.2L438.5 288.9M440.6 292.1L441.2 291.0L441.7 289.8M437.6 291.3L437.2 292.5L436.0 292.0L436.3 290.8L437.2 289.9L438.4 289.6M438.4 292.9L437.4 292.2L437.4 291.0L436.5 290.1M438.6 290.3L438.1 291.4L436.8 291.2L435.9 290.3" fill="none" stroke="#e03a18" stroke-width="1.05" stroke-linecap="round" stroke-linejoin="round"/>
<ellipse cx="433.5" cy="296.5" rx="4.5" ry="3.5" fill="#fbd8c8"/>
<path d="M435.1 294.4L434.4 293.3M435.3 295.2L435.7 296.4L435.8 297.7L436.8 298.4M434.8 299.8L434.8 298.6L436.0 298.4L436.4 297.2L435.9 296.0L434.9 295.3M433.1 295.3L433.3 296.6L432.0 296.7L431.2 295.7L431.8 294.7L431.3 293.5M433.5 297.9L433.7 296.6L434.7 295.9L435.9 295.5L437.1 295.1" fill="none" stroke="#f07838" stroke-width="1.05" stroke-linecap="round" stroke-linejoin="round"/>
<path d="M433.8 294.0L432.5 294.1L432.0 293.0M430.5 297.1L429.8 296.1L428.8 296.8M429.5 297.4L430.7 297.7L431.5 296.8L432.1 295.7L433.4 296.0L433.7 297.2M433.9 296.5L433.8 295.2L434.7 294.3L435.7 293.7L436.8 294.3L437.9 295.0M434.2 299.6L433.1 298.9L432.1 298.2L433.2 297.6L432.7 296.5L433.2 295.4M434.3 298.6L435.5 299.1" fill="none" stroke="#f06030" stroke-width="1.05" stroke-linecap="round" stroke-linejoin="round"/>
<path d="M436.5 294.3L435.8 293.3M429.1 296.4L430.0 297.3L431.2 297.5L431.8 298.6L432.0 299.8M435.4 295.4L434.6 296.4L434.6 297.6L433.6 298.3L432.8 299.2L431.5 299.1M436.0 295.6L434.7 295.8L433.7 296.5L432.5 296.0L432.0 294.9L431.0 294.2" fill="none" stroke="#e03a18" stroke-width="1.05" stroke-linecap="round" stroke-linejoin="round"/>
<path d="M437.2 298.3L437.7 297.2M433.3 299.0L432.7 300.1L431.5 300.0M431.7 295.0L432.7 294.4L433.3 295.5L432.2 296.0L430.9 295.9L430.3 294.8M433.7 293.4L433.0 294.4L433.2 295.6L434.4 296.0L435.5 296.5L436.1 297.6M431.7 297.7L432.8 297.1L433.9 296.6L434.7 297.6L435.9 298.1L437.0 297.6" fill="none" stroke="#e84a20" stroke-width="1.05" stroke-linecap="round" stroke-linejoin="round"/>
<ellipse cx="428" cy="301.5" rx="4.2" ry="2.8" fill="#fbd8c8"/>
<path d="M426.7 300.1L425.6 299.4M425.8 302.0L425.4 300.9L424.9 299.7M427.3 299.8L426.4 298.9M428.9 299.8L430.0 299.2M426.6 300.8L426.9 299.6L426.8 300.9L426.8 302.1L426.8 303.4L427.6 304.4" fill="none" stroke="#f07838" stroke-width="1.05" stroke-linecap="round" stroke-linejoin="round"/>
<path d="M428.1 303.9L427.8 302.7L427.2 301.6L426.3 300.8L425.1 300.3L423.9 300.0M431.5 301.2L432.2 302.3M427.3 302.6L427.1 303.8" fill="none" stroke="#f06030" stroke-width="1.05" stroke-linecap="round" stroke-linejoin="round"/>
<path d="M428.7 299.8L428.3 301.0L428.8 302.1L427.7 302.5L426.6 303.2L425.8 304.1M426.7 302.9L426.0 304.0M426.6 301.0L426.5 299.7L426.0 298.6" fill="none" stroke="#e84a20" stroke-width="1.05" stroke-linecap="round" stroke-linejoin="round"/>
<path d="M429.2 303.2L428.0 303.4L426.9 304.1L425.7 304.1L425.1 303.0L426.0 302.1M426.9 301.2L426.7 300.0L427.9 299.6L428.5 300.7L428.7 301.9L427.9 302.9M429.2 301.7L430.3 302.3L431.5 302.3" fill="none" stroke="#e03a18" stroke-width="1.05" stroke-linecap="round" stroke-linejoin="round"/>
<path d="M432.2 305.1L431.5 304.1M431.1 307.0L432.4 306.8L433.6 306.5M433.4 304.5L432.7 303.4" fill="none" stroke="#e8a020" stroke-width="1.05" stroke-linecap="round" stroke-linejoin="round"/>
<path d="M432.4 304.8L431.2 305.0" fill="none" stroke="#d8b020" stroke-width="1.05" stroke-linecap="round" stroke-linejoin="round"/>
<ellipse cx="446.3" cy="305" rx="7.8" ry="7.3" fill="#fcf6c8"/>
<path d="M452.1 305.9L453.0 306.8L452.0 307.6L451.2 308.5L450.0 309.1L448.8 309.4M441.6 302.6L442.4 303.5L443.6 303.1L444.7 303.7L446.0 303.9L447.1 304.4M440.6 304.3L441.1 305.5L440.7 306.6L440.6 307.9L440.9 309.1L442.0 309.7M442.0 304.5L442.6 305.7L441.4 306.1L440.1 306.1L438.9 305.9M444.7 310.9L443.9 311.8M447.5 307.8L446.5 307.0L446.5 305.8L446.9 304.6L447.8 303.7L448.5 304.7M453.4 304.1L454.4 304.9M451.4 305.6L452.5 305.1L453.8 305.1M442.1 306.0L443.0 306.8L443.7 307.8L445.0 307.6L446.2 307.5L446.8 306.3M441.3 304.5L442.2 305.4L443.5 305.3L444.5 305.9L444.4 307.2L444.2 308.4M445.5 298.8L446.3 299.7L447.5 299.3L448.7 298.9L449.0 297.7M448.4 299.7L449.5 300.3L450.7 300.7L451.5 299.7M442.8 308.9L441.6 308.5L440.4 308.3L439.3 307.7M450.9 303.6L451.7 302.6L451.6 301.4L450.9 300.3L451.1 299.1L450.0 298.5M443.3 299.5L444.5 299.1L444.9 298.0L445.7 299.0L446.9 299.1L448.1 299.5M448.3 302.4L448.8 301.2L449.2 300.0L448.3 299.2L447.6 298.1M443.3 302.8L442.1 302.8L441.4 303.8L440.2 303.4L439.5 304.4L438.7 305.4M441.5 308.5L442.7 308.8L443.2 310.0L443.8 311.1L444.3 312.2M446.0 302.6L447.1 302.0L448.2 301.4L449.0 300.5L449.9 301.3L450.7 302.3M448.7 309.4L447.6 310.0L447.6 311.2L447.0 312.3M446.9 299.8L448.0 300.4L449.0 301.2L448.5 302.3L447.9 303.4L447.7 304.6M448.7 299.9L449.1 298.7M445.4 306.7L444.9 305.6L443.7 305.6L442.4 305.6L441.6 306.6L440.8 305.6" fill="none" stroke="#e8c820" stroke-width="1.05" stroke-linecap="round" stroke-linejoin="round"/>
<path d="M450.5 305.9L450.7 307.2L450.3 308.4L449.8 309.5L449.1 310.6L448.9 311.8M448.7 301.6L447.5 302.0L446.9 303.1L445.9 303.8L445.6 305.0L445.7 306.3M445.8 305.3L445.9 304.0L446.5 302.9L447.8 302.8L448.7 302.1L449.9 301.6M451.6 309.7L451.2 308.5L450.2 307.8L449.3 308.7L448.2 309.2L447.1 309.8M446.5 305.4L447.6 304.7L448.7 304.3L448.9 303.0L449.1 301.8L450.0 300.9M449.1 303.1L448.3 304.1L448.5 305.4L449.8 305.3L451.0 305.6L452.2 305.3M448.1 306.7L447.1 306.0L447.1 304.7L446.9 303.5L447.9 302.8L446.9 302.0M449.8 308.5L449.0 307.5L447.8 307.2L446.6 306.9L445.6 306.0L444.9 307.0M439.3 302.6L438.3 303.3L439.5 303.7L439.9 304.9L440.7 305.9L441.3 307.0M449.6 298.4L450.4 299.4L451.1 300.4L450.6 301.5L449.4 301.9L448.5 302.8M444.9 307.1L444.2 306.1L444.0 304.8L444.9 303.9L446.0 303.3L446.0 302.1M450.3 309.2L451.2 310.1M451.9 303.4L451.8 304.6L451.5 305.9L451.3 307.1L451.7 308.3L452.9 307.8M450.0 299.6L448.8 299.4L447.8 300.1L447.0 301.1L448.3 300.9L448.0 299.7M449.4 304.7L449.2 305.9L447.9 306.1L447.0 307.0L446.1 307.8L445.3 308.7M453.1 305.5L454.3 305.6" fill="none" stroke="#f0d828" stroke-width="1.05" stroke-linecap="round" stroke-linejoin="round"/>
<path d="M447.9 298.5L448.3 299.7L449.5 299.9L449.0 301.1L448.5 299.9L449.5 299.1M446.1 309.5L446.9 310.4L447.2 311.6M447.7 305.5L448.8 304.8L449.8 305.6L450.9 306.2L451.7 307.2L452.0 308.4M446.9 310.7L447.7 309.7L448.9 310.0L450.1 309.7L450.3 308.4L451.4 307.9M447.4 300.4L446.2 300.7L445.3 299.9L445.6 298.7L446.7 298.1M447.6 303.9L448.5 304.7L449.4 305.6L450.6 305.3L451.7 304.6L452.8 305.2M447.3 308.7L447.7 307.5L449.0 307.6L448.8 306.3L447.6 306.2L446.4 306.6M452.7 308.8L451.8 309.7L450.7 309.2L449.5 309.8L448.5 310.5L449.0 311.6M446.8 298.9L446.9 300.2L446.3 301.3L447.0 302.4L448.2 301.9L449.3 302.5M447.7 311.9L447.4 310.6L447.0 309.5L445.8 309.1L444.7 308.5L444.9 307.3M449.0 302.7L449.4 301.5L448.2 301.2L448.0 300.0L446.8 299.5L446.1 298.5M447.4 307.9L448.1 309.0L449.2 309.6L450.4 309.7L450.3 310.9M442.9 307.4L441.7 307.8L440.5 308.0L439.5 308.8M452.0 302.3L453.0 301.6" fill="none" stroke="#f8e848" stroke-width="1.05" stroke-linecap="round" stroke-linejoin="round"/>
<path d="M450.6 305.6L451.8 305.5L453.1 305.3L454.0 304.5L454.2 303.2M439.8 307.7L439.3 306.6L439.8 305.4L440.4 304.3L439.7 303.3L439.8 302.1M443.5 301.5L444.6 301.1L445.9 301.2L447.1 301.2L447.0 299.9L447.2 298.7M443.2 299.7L444.5 299.7L445.7 299.3L446.5 298.3L447.8 298.3L449.0 298.3M443.1 300.0L441.9 299.4M452.3 305.2L452.9 304.1L453.7 303.1L453.7 301.9M444.3 309.0L443.5 309.9L442.4 309.4L441.1 309.6L440.5 308.6L439.3 308.1M441.4 307.4L441.0 308.6L441.9 309.5L442.0 310.8M452.7 307.0L452.5 308.2L452.5 309.5M445.8 298.9L447.0 298.5L448.2 298.3M447.6 307.4L447.8 308.6L448.7 309.5L449.4 310.5L450.3 309.6L449.1 309.2M443.8 306.4L442.6 306.0L442.4 304.8L442.1 303.6L441.0 303.0L439.9 303.6M450.9 305.2L452.1 305.1L453.3 304.7L454.1 303.7M441.2 300.5L440.7 301.6L440.9 302.9L440.9 304.1L440.1 305.1L440.1 306.3M445.7 299.4L445.1 298.2L443.9 298.3L442.8 298.9L441.5 298.9L440.9 300.0M447.2 311.6L448.4 312.1L449.5 311.6M439.2 307.7L440.3 308.4L440.0 309.6L440.7 310.7M447.9 309.2L448.2 308.0L449.0 307.0L450.1 307.6L451.2 308.2L452.3 307.7M447.9 298.5L448.9 299.2L450.1 299.5L450.9 300.5L451.9 301.3L451.7 302.5M449.9 306.4L450.0 305.1L451.2 305.0L452.1 304.2L451.7 303.0L450.5 302.5" fill="none" stroke="#f2e030" stroke-width="1.05" stroke-linecap="round" stroke-linejoin="round"/>
<line x1="394.50" y1="206.00" x2="394.50" y2="316.00" stroke="#2a2a2a" stroke-width="1"/>
<line x1="394.00" y1="315.50" x2="503.30" y2="315.50" stroke="#2a2a2a" stroke-width="1"/>
<text transform="translate(388.56,270.65) rotate(-90) scale(0.569,1)" font-size="9.15" font-weight="bold" fill="#222" letter-spacing="1.054">tSNE-2</text>
<text transform="translate(438.75,326.55) scale(0.529,1)" font-size="9.86" font-weight="bold" fill="#222" letter-spacing="1.135">tSNE-1</text>
<defs><linearGradient id="cb" x1="0" x2="1" y1="0" y2="0"><stop offset="0" stop-color="#1a237e"/><stop offset="0.18" stop-color="#1e5fb0"/><stop offset="0.38" stop-color="#20a050"/><stop offset="0.55" stop-color="#8cc83c"/><stop offset="0.7" stop-color="#f2e420"/><stop offset="0.85" stop-color="#f08020"/><stop offset="1" stop-color="#e02020"/></linearGradient></defs>
<rect x="383.10" y="329.20" width="26.60" height="5.40" fill="url(#cb)" stroke="none" stroke-width="0" />
<text x="378.30" y="334.50" font-size="7.4" text-anchor="start" font-weight="normal" fill="#2a2a2a" letter-spacing="0.4" >0</text>
<text x="410.60" y="334.50" font-size="7.4" text-anchor="start" font-weight="normal" fill="#2a2a2a" letter-spacing="0.4" >880</text>
<text x="65.20" y="383.50" font-size="11" text-anchor="start" font-weight="bold" fill="#111" stroke="#111" stroke-width="0.3" letter-spacing="0" >G</text>
<rect x="78.20" y="405.30" width="36.90" height="12.82" fill="#fcd283" stroke="none" stroke-width="0" />
<rect x="114.80" y="405.30" width="37.10" height="12.82" fill="#3d6fb6" stroke="none" stroke-width="0" />
<rect x="151.60" y="405.30" width="37.10" height="12.82" fill="#4a7ec0" stroke="none" stroke-width="0" />
<rect x="188.40" y="405.30" width="37.30" height="12.82" fill="#5b8fca" stroke="none" stroke-width="0" />
<text x="229.00" y="414.16" font-size="7.6" text-anchor="start" font-weight="normal" fill="#2a2a2a" letter-spacing="0.3" >Pop0</text>
<rect x="78.20" y="417.82" width="36.90" height="12.82" fill="#da3427" stroke="none" stroke-width="0" />
<rect x="114.80" y="417.82" width="37.10" height="12.82" fill="#3d6fb6" stroke="none" stroke-width="0" />
<rect x="151.60" y="417.82" width="37.10" height="12.82" fill="#4677c2" stroke="none" stroke-width="0" />
<rect x="188.40" y="417.82" width="37.30" height="12.82" fill="#9ac4e4" stroke="none" stroke-width="0" />
<text x="229.00" y="426.68" font-size="7.6" text-anchor="start" font-weight="normal" fill="#2a2a2a" letter-spacing="0.3" >Pop1</text>
<rect x="78.20" y="430.34" width="36.90" height="12.82" fill="#fde8a0" stroke="none" stroke-width="0" />
<rect x="114.80" y="430.34" width="37.10" height="12.82" fill="#3d6fb6" stroke="none" stroke-width="0" />
<rect x="151.60" y="430.34" width="37.10" height="12.82" fill="#f2f0c8" stroke="none" stroke-width="0" />
<rect x="188.40" y="430.34" width="37.30" height="12.82" fill="#90bcdc" stroke="none" stroke-width="0" />
<text x="229.00" y="439.20" font-size="7.6" text-anchor="start" font-weight="normal" fill="#2a2a2a" letter-spacing="0.3" >Pop2</text>
<rect x="78.20" y="442.86" width="36.90" height="12.82" fill="#dd3a2a" stroke="none" stroke-width="0" />
<rect x="114.80" y="442.86" width="37.10" height="12.82" fill="#3d6fb6" stroke="none" stroke-width="0" />
<rect x="151.60" y="442.86" width="37.10" height="12.82" fill="#f0eecc" stroke="none" stroke-width="0" />
<rect x="188.40" y="442.86" width="37.30" height="12.82" fill="#94c0de" stroke="none" stroke-width="0" />
<text x="229.00" y="451.72" font-size="7.6" text-anchor="start" font-weight="normal" fill="#2a2a2a" letter-spacing="0.3" >Pop3</text>
<rect x="78.20" y="455.38" width="36.90" height="12.82" fill="#e24a35" stroke="none" stroke-width="0" />
<rect x="114.80" y="455.38" width="37.10" height="12.82" fill="#eef0d8" stroke="none" stroke-width="0" />
<rect x="151.60" y="455.38" width="37.10" height="12.82" fill="#f0eed0" stroke="none" stroke-width="0" />
<rect x="188.40" y="455.38" width="37.30" height="12.82" fill="#b4d4ec" stroke="none" stroke-width="0" />
<text x="229.00" y="464.24" font-size="7.6" text-anchor="start" font-weight="normal" fill="#2a2a2a" letter-spacing="0.3" >Pop4</text>
<rect x="78.20" y="467.90" width="36.90" height="12.82" fill="#e85a3c" stroke="none" stroke-width="0" />
<rect x="114.80" y="467.90" width="37.10" height="12.82" fill="#fdf0a6" stroke="none" stroke-width="0" />
<rect x="151.60" y="467.90" width="37.10" height="12.82" fill="#5a8acc" stroke="none" stroke-width="0" />
<rect x="188.40" y="467.90" width="37.30" height="12.82" fill="#b0d0ea" stroke="none" stroke-width="0" />
<text x="229.00" y="476.76" font-size="7.6" text-anchor="start" font-weight="normal" fill="#2a2a2a" letter-spacing="0.3" >Pop5</text>
<rect x="78.20" y="480.42" width="36.90" height="12.82" fill="#d42a25" stroke="none" stroke-width="0" />
<rect x="114.80" y="480.42" width="37.10" height="12.82" fill="#fbbd78" stroke="none" stroke-width="0" />
<rect x="151.60" y="480.42" width="37.10" height="12.82" fill="#84b0da" stroke="none" stroke-width="0" />
<rect x="188.40" y="480.42" width="37.30" height="12.82" fill="#e6f0e6" stroke="none" stroke-width="0" />
<text x="229.00" y="489.28" font-size="7.6" text-anchor="start" font-weight="normal" fill="#2a2a2a" letter-spacing="0.3" >Pop6</text>
<rect x="78.20" y="492.94" width="36.90" height="12.82" fill="#e85a40" stroke="none" stroke-width="0" />
<rect x="114.80" y="492.94" width="37.10" height="12.82" fill="#c2dcee" stroke="none" stroke-width="0" />
<rect x="151.60" y="492.94" width="37.10" height="12.82" fill="#4a7cc4" stroke="none" stroke-width="0" />
<rect x="188.40" y="492.94" width="37.30" height="12.82" fill="#b8d8ee" stroke="none" stroke-width="0" />
<text x="229.00" y="501.80" font-size="7.6" text-anchor="start" font-weight="normal" fill="#2a2a2a" letter-spacing="0.3" >Pop7</text>
<path d="M170.0,405.3 V400.3 H206.9 V405.3" fill="none" stroke="#8a8a8a" stroke-width="0.8"/>
<path d="M133.2,405.3 V396.3 H188.4 V400.3" fill="none" stroke="#8a8a8a" stroke-width="0.8"/>
<path d="M96.5,405.3 V388.2 H160.8 V396.3" fill="none" stroke="#8a8a8a" stroke-width="0.8"/>
<text x="96.65" y="516.10" font-size="7.9" text-anchor="middle" font-weight="normal" fill="#2a2a2a" letter-spacing="0.3" >CD42b</text>
<text x="133.35" y="516.10" font-size="7.9" text-anchor="middle" font-weight="normal" fill="#2a2a2a" letter-spacing="0.3" >PAC-1</text>
<text x="170.15" y="516.10" font-size="7.9" text-anchor="middle" font-weight="normal" fill="#2a2a2a" letter-spacing="0.3" >CD63</text>
<text x="207.05" y="516.10" font-size="7.9" text-anchor="middle" font-weight="normal" fill="#2a2a2a" letter-spacing="0.3" >CD31</text>
<text x="263.30" y="383.70" font-size="11" text-anchor="start" font-weight="bold" fill="#111" stroke="#111" stroke-width="0.3" letter-spacing="0" >H</text>
<line x1="310.50" y1="389.00" x2="310.50" y2="495.00" stroke="#2a2a2a" stroke-width="1"/>
<line x1="307.30" y1="494.60" x2="310.50" y2="494.60" stroke="#2a2a2a" stroke-width="1"/>
<text x="304.30" y="497.25" font-size="7.4" text-anchor="end" font-weight="normal" fill="#2a2a2a" letter-spacing="0.4" >0</text>
<line x1="307.30" y1="454.05" x2="310.50" y2="454.05" stroke="#2a2a2a" stroke-width="1"/>
<text x="304.30" y="456.70" font-size="7.4" text-anchor="end" font-weight="normal" fill="#2a2a2a" letter-spacing="0.4" >50</text>
<line x1="307.30" y1="413.50" x2="310.50" y2="413.50" stroke="#2a2a2a" stroke-width="1"/>
<text x="304.30" y="416.15" font-size="7.4" text-anchor="end" font-weight="normal" fill="#2a2a2a" letter-spacing="0.4" >100</text>
<line x1="310.00" y1="494.60" x2="415.40" y2="494.60" stroke="#2a2a2a" stroke-width="1"/>
<line x1="321.60" y1="494.60" x2="321.60" y2="497.60" stroke="#2a2a2a" stroke-width="1"/>
<text transform="translate(321.20,504.00) rotate(-45)" font-size="7.4" text-anchor="end" fill="#2a2a2a" stroke="#2a2a2a" stroke-width="0.1" letter-spacing="0.4">&lt;32</text>
<line x1="338.18" y1="494.60" x2="338.18" y2="497.60" stroke="#2a2a2a" stroke-width="1"/>
<text transform="translate(337.78,504.00) rotate(-45)" font-size="7.4" text-anchor="end" fill="#2a2a2a" stroke="#2a2a2a" stroke-width="0.1" letter-spacing="0.4">32-36</text>
<line x1="354.76" y1="494.60" x2="354.76" y2="497.60" stroke="#2a2a2a" stroke-width="1"/>
<text transform="translate(354.36,504.00) rotate(-45)" font-size="7.4" text-anchor="end" fill="#2a2a2a" stroke="#2a2a2a" stroke-width="0.1" letter-spacing="0.4">t</text>
<line x1="371.34" y1="494.60" x2="371.34" y2="497.60" stroke="#2a2a2a" stroke-width="1"/>
<text transform="translate(370.94,504.00) rotate(-45)" font-size="7.4" text-anchor="end" fill="#2a2a2a" stroke="#2a2a2a" stroke-width="0.1" letter-spacing="0.4">28d-2a</text>
<line x1="387.92" y1="494.60" x2="387.92" y2="497.60" stroke="#2a2a2a" stroke-width="1"/>
<text transform="translate(387.52,504.00) rotate(-45)" font-size="7.4" text-anchor="end" fill="#2a2a2a" stroke="#2a2a2a" stroke-width="0.1" letter-spacing="0.4">2-13a</text>
<line x1="404.50" y1="494.60" x2="404.50" y2="497.60" stroke="#2a2a2a" stroke-width="1"/>
<text transform="translate(404.10,504.00) rotate(-45)" font-size="7.4" text-anchor="end" fill="#2a2a2a" stroke="#2a2a2a" stroke-width="0.1" letter-spacing="0.4">&gt;13a</text>
<rect x="316.30" y="494.36" width="10.60" height="0.29" fill="#e02020" stroke="none" stroke-width="0" />
<rect x="316.30" y="494.19" width="10.60" height="0.21" fill="#e88020" stroke="none" stroke-width="0" />
<rect x="316.30" y="494.03" width="10.60" height="0.21" fill="#f8c870" stroke="none" stroke-width="0" />
<rect x="316.30" y="493.87" width="10.60" height="0.21" fill="#f8e020" stroke="none" stroke-width="0" />
<rect x="316.30" y="493.63" width="10.60" height="0.29" fill="#5aa03a" stroke="none" stroke-width="0" />
<rect x="316.30" y="493.38" width="10.60" height="0.29" fill="#2ea84a" stroke="none" stroke-width="0" />
<rect x="316.30" y="414.31" width="10.60" height="79.12" fill="#208444" stroke="none" stroke-width="0" />
<rect x="316.30" y="413.50" width="10.60" height="0.86" fill="#2a2a8a" stroke="none" stroke-width="0" />
<rect x="316.30" y="412.90" width="10.60" height="1.40" fill="#2a2a8a" stroke="none" stroke-width="0" />
<rect x="332.88" y="494.36" width="10.60" height="0.29" fill="#e02020" stroke="none" stroke-width="0" />
<rect x="332.88" y="494.11" width="10.60" height="0.29" fill="#e88020" stroke="none" stroke-width="0" />
<rect x="332.88" y="493.71" width="10.60" height="0.46" fill="#f8c870" stroke="none" stroke-width="0" />
<rect x="332.88" y="492.49" width="10.60" height="1.27" fill="#f8e020" stroke="none" stroke-width="0" />
<rect x="332.88" y="490.87" width="10.60" height="1.67" fill="#5aa03a" stroke="none" stroke-width="0" />
<rect x="332.88" y="490.22" width="10.60" height="0.70" fill="#2ea84a" stroke="none" stroke-width="0" />
<rect x="332.88" y="414.31" width="10.60" height="75.96" fill="#208444" stroke="none" stroke-width="0" />
<rect x="332.88" y="413.50" width="10.60" height="0.86" fill="#2a2a8a" stroke="none" stroke-width="0" />
<rect x="332.88" y="412.90" width="10.60" height="1.40" fill="#2a2a8a" stroke="none" stroke-width="0" />
<rect x="349.46" y="494.36" width="10.60" height="0.29" fill="#e02020" stroke="none" stroke-width="0" />
<rect x="349.46" y="494.11" width="10.60" height="0.29" fill="#e88020" stroke="none" stroke-width="0" />
<rect x="349.46" y="493.71" width="10.60" height="0.46" fill="#f8c870" stroke="none" stroke-width="0" />
<rect x="349.46" y="492.49" width="10.60" height="1.27" fill="#f8e020" stroke="none" stroke-width="0" />
<rect x="349.46" y="490.87" width="10.60" height="1.67" fill="#5aa03a" stroke="none" stroke-width="0" />
<rect x="349.46" y="490.22" width="10.60" height="0.70" fill="#2ea84a" stroke="none" stroke-width="0" />
<rect x="349.46" y="414.31" width="10.60" height="75.96" fill="#208444" stroke="none" stroke-width="0" />
<rect x="349.46" y="413.50" width="10.60" height="0.86" fill="#2a2a8a" stroke="none" stroke-width="0" />
<rect x="349.46" y="412.90" width="10.60" height="1.40" fill="#2a2a8a" stroke="none" stroke-width="0" />
<rect x="366.04" y="494.11" width="10.60" height="0.54" fill="#e02020" stroke="none" stroke-width="0" />
<rect x="366.04" y="493.79" width="10.60" height="0.37" fill="#e88020" stroke="none" stroke-width="0" />
<rect x="366.04" y="493.55" width="10.60" height="0.29" fill="#f8c870" stroke="none" stroke-width="0" />
<rect x="366.04" y="493.30" width="10.60" height="0.29" fill="#f8e020" stroke="none" stroke-width="0" />
<rect x="366.04" y="493.14" width="10.60" height="0.21" fill="#5aa03a" stroke="none" stroke-width="0" />
<rect x="366.04" y="492.98" width="10.60" height="0.21" fill="#2ea84a" stroke="none" stroke-width="0" />
<rect x="366.04" y="413.91" width="10.60" height="79.12" fill="#208444" stroke="none" stroke-width="0" />
<rect x="366.04" y="413.50" width="10.60" height="0.46" fill="#2a2a8a" stroke="none" stroke-width="0" />
<rect x="366.04" y="412.90" width="10.60" height="1.40" fill="#2a2a8a" stroke="none" stroke-width="0" />
<rect x="382.62" y="489.57" width="10.60" height="5.08" fill="#e02020" stroke="none" stroke-width="0" />
<rect x="382.62" y="488.60" width="10.60" height="1.02" fill="#e88020" stroke="none" stroke-width="0" />
<rect x="382.62" y="487.79" width="10.60" height="0.86" fill="#f8c870" stroke="none" stroke-width="0" />
<rect x="382.62" y="487.30" width="10.60" height="0.54" fill="#f8e020" stroke="none" stroke-width="0" />
<rect x="382.62" y="486.98" width="10.60" height="0.37" fill="#5aa03a" stroke="none" stroke-width="0" />
<rect x="382.62" y="486.73" width="10.60" height="0.29" fill="#2ea84a" stroke="none" stroke-width="0" />
<rect x="382.62" y="413.91" width="10.60" height="72.88" fill="#208444" stroke="none" stroke-width="0" />
<rect x="382.62" y="413.50" width="10.60" height="0.46" fill="#2a2a8a" stroke="none" stroke-width="0" />
<rect x="382.62" y="412.90" width="10.60" height="1.40" fill="#2a2a8a" stroke="none" stroke-width="0" />
<rect x="399.20" y="485.68" width="10.60" height="8.97" fill="#e02020" stroke="none" stroke-width="0" />
<rect x="399.20" y="481.46" width="10.60" height="4.27" fill="#e88020" stroke="none" stroke-width="0" />
<rect x="399.20" y="473.51" width="10.60" height="8.00" fill="#f8c870" stroke="none" stroke-width="0" />
<rect x="399.20" y="472.30" width="10.60" height="1.27" fill="#f8e020" stroke="none" stroke-width="0" />
<rect x="399.20" y="471.89" width="10.60" height="0.46" fill="#5aa03a" stroke="none" stroke-width="0" />
<rect x="399.20" y="471.49" width="10.60" height="0.46" fill="#2ea84a" stroke="none" stroke-width="0" />
<rect x="399.20" y="413.91" width="10.60" height="57.63" fill="#208444" stroke="none" stroke-width="0" />
<rect x="399.20" y="413.50" width="10.60" height="0.46" fill="#2a2a8a" stroke="none" stroke-width="0" />
<rect x="399.20" y="412.90" width="10.60" height="1.40" fill="#2a2a8a" stroke="none" stroke-width="0" />
<line x1="321.60" y1="411.60" x2="321.60" y2="417.00" stroke="#1a1a1a" stroke-width="1.15"/>
<line x1="318.60" y1="411.60" x2="324.60" y2="411.60" stroke="#1a1a1a" stroke-width="1.15"/>
<line x1="318.60" y1="417.00" x2="324.60" y2="417.00" stroke="#1a1a1a" stroke-width="1.15"/>
<line x1="321.60" y1="493.30" x2="321.60" y2="494.60" stroke="#1a1a1a" stroke-width="1.15"/>
<line x1="318.60" y1="493.30" x2="324.60" y2="493.30" stroke="#1a1a1a" stroke-width="1.15"/>
<line x1="318.60" y1="494.60" x2="324.60" y2="494.60" stroke="#1a1a1a" stroke-width="1.15"/>
<line x1="338.18" y1="408.80" x2="338.18" y2="422.70" stroke="#1a1a1a" stroke-width="1.15"/>
<line x1="335.18" y1="408.80" x2="341.18" y2="408.80" stroke="#1a1a1a" stroke-width="1.15"/>
<line x1="335.18" y1="422.70" x2="341.18" y2="422.70" stroke="#1a1a1a" stroke-width="1.15"/>
<line x1="338.18" y1="485.70" x2="338.18" y2="491.50" stroke="#1a1a1a" stroke-width="1.15"/>
<line x1="335.18" y1="485.70" x2="341.18" y2="485.70" stroke="#1a1a1a" stroke-width="1.15"/>
<line x1="335.18" y1="491.50" x2="341.18" y2="491.50" stroke="#1a1a1a" stroke-width="1.15"/>
<line x1="354.76" y1="407.70" x2="354.76" y2="423.80" stroke="#1a1a1a" stroke-width="1.15"/>
<line x1="351.76" y1="407.70" x2="357.76" y2="407.70" stroke="#1a1a1a" stroke-width="1.15"/>
<line x1="351.76" y1="423.80" x2="357.76" y2="423.80" stroke="#1a1a1a" stroke-width="1.15"/>
<line x1="354.76" y1="485.70" x2="354.76" y2="491.50" stroke="#1a1a1a" stroke-width="1.15"/>
<line x1="351.76" y1="485.70" x2="357.76" y2="485.70" stroke="#1a1a1a" stroke-width="1.15"/>
<line x1="351.76" y1="491.50" x2="357.76" y2="491.50" stroke="#1a1a1a" stroke-width="1.15"/>
<line x1="371.34" y1="412.50" x2="371.34" y2="414.60" stroke="#1a1a1a" stroke-width="1.15"/>
<line x1="368.34" y1="412.50" x2="374.34" y2="412.50" stroke="#1a1a1a" stroke-width="1.15"/>
<line x1="368.34" y1="414.60" x2="374.34" y2="414.60" stroke="#1a1a1a" stroke-width="1.15"/>
<line x1="371.34" y1="493.50" x2="371.34" y2="494.60" stroke="#1a1a1a" stroke-width="1.15"/>
<line x1="368.34" y1="493.50" x2="374.34" y2="493.50" stroke="#1a1a1a" stroke-width="1.15"/>
<line x1="368.34" y1="494.60" x2="374.34" y2="494.60" stroke="#1a1a1a" stroke-width="1.15"/>
<line x1="387.92" y1="401.20" x2="387.92" y2="427.30" stroke="#1a1a1a" stroke-width="1.15"/>
<line x1="384.92" y1="401.20" x2="390.92" y2="401.20" stroke="#1a1a1a" stroke-width="1.15"/>
<line x1="384.92" y1="427.30" x2="390.92" y2="427.30" stroke="#1a1a1a" stroke-width="1.15"/>
<line x1="387.92" y1="481.50" x2="387.92" y2="488.50" stroke="#1a1a1a" stroke-width="1.15"/>
<line x1="384.92" y1="481.50" x2="390.92" y2="481.50" stroke="#1a1a1a" stroke-width="1.15"/>
<line x1="384.92" y1="488.50" x2="390.92" y2="488.50" stroke="#1a1a1a" stroke-width="1.15"/>
<line x1="404.50" y1="401.50" x2="404.50" y2="427.30" stroke="#1a1a1a" stroke-width="1.15"/>
<line x1="401.50" y1="401.50" x2="407.50" y2="401.50" stroke="#1a1a1a" stroke-width="1.15"/>
<line x1="401.50" y1="427.30" x2="407.50" y2="427.30" stroke="#1a1a1a" stroke-width="1.15"/>
<line x1="404.50" y1="465.40" x2="404.50" y2="471.60" stroke="#1a1a1a" stroke-width="1.15"/>
<line x1="401.50" y1="465.40" x2="407.50" y2="465.40" stroke="#1a1a1a" stroke-width="1.15"/>
<line x1="401.50" y1="471.60" x2="407.50" y2="471.60" stroke="#1a1a1a" stroke-width="1.15"/>
<line x1="404.50" y1="478.80" x2="404.50" y2="482.70" stroke="#1a1a1a" stroke-width="1.15"/>
<line x1="401.50" y1="478.80" x2="407.50" y2="478.80" stroke="#1a1a1a" stroke-width="1.15"/>
<line x1="401.50" y1="482.70" x2="407.50" y2="482.70" stroke="#1a1a1a" stroke-width="1.15"/>
<text transform="translate(283.51,488.65) rotate(-90) scale(0.787,1)" font-size="7.31" font-weight="normal" fill="#222" stroke="#222" stroke-width="0.15" letter-spacing="0.445">PLTs in respective population [%]</text>
<rect x="419.40" y="399.80" width="5.70" height="5.50" fill="#2a2a8a" stroke="none" stroke-width="0" />
<text x="428.70" y="405.20" font-size="7.6" text-anchor="start" font-weight="normal" fill="#2a2a2a" letter-spacing="0.3" >Pop0</text>
<rect x="419.40" y="411.10" width="5.70" height="5.50" fill="#208444" stroke="none" stroke-width="0" />
<text x="428.70" y="416.50" font-size="7.6" text-anchor="start" font-weight="normal" fill="#2a2a2a" letter-spacing="0.3" >Pop1</text>
<rect x="419.40" y="422.40" width="5.70" height="5.50" fill="#2ea84a" stroke="none" stroke-width="0" />
<text x="428.70" y="427.80" font-size="7.6" text-anchor="start" font-weight="normal" fill="#2a2a2a" letter-spacing="0.3" >Pop2</text>
<rect x="419.40" y="433.70" width="5.70" height="5.50" fill="#5aa03a" stroke="none" stroke-width="0" />
<text x="428.70" y="439.10" font-size="7.6" text-anchor="start" font-weight="normal" fill="#2a2a2a" letter-spacing="0.3" >Pop3</text>
<rect x="419.40" y="445.00" width="5.70" height="5.50" fill="#f8e020" stroke="none" stroke-width="0" />
<text x="428.70" y="450.40" font-size="7.6" text-anchor="start" font-weight="normal" fill="#2a2a2a" letter-spacing="0.3" >Pop4</text>
<rect x="419.40" y="456.30" width="5.70" height="5.50" fill="#f8c870" stroke="none" stroke-width="0" />
<text x="428.70" y="461.70" font-size="7.6" text-anchor="start" font-weight="normal" fill="#2a2a2a" letter-spacing="0.3" >pop5</text>
<rect x="419.40" y="467.60" width="5.70" height="5.50" fill="#e88020" stroke="none" stroke-width="0" />
<text x="428.70" y="473.00" font-size="7.6" text-anchor="start" font-weight="normal" fill="#2a2a2a" letter-spacing="0.3" >Pop6</text>
<rect x="419.40" y="478.90" width="5.70" height="5.50" fill="#e02020" stroke="none" stroke-width="0" />
<text x="428.70" y="484.30" font-size="7.6" text-anchor="start" font-weight="normal" fill="#2a2a2a" letter-spacing="0.3" >Pop7</text>
<rect x="0.5" y="0.5" width="519" height="529" fill="none" stroke="#555" stroke-width="1"/>
</svg>
</body></html>
